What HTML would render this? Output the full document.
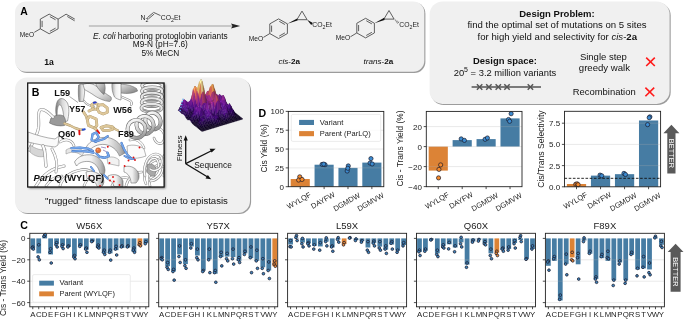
<!DOCTYPE html>
<html><head><meta charset="utf-8"><style>
html,body{margin:0;padding:0;background:#fff;width:685px;height:319px;overflow:hidden}
svg{display:block;font-family:"Liberation Sans", sans-serif;will-change:transform}
</style></head><body>
<svg width="685" height="319" viewBox="0 0 685 319">
<defs><linearGradient id="hg" x1="0" y1="0" x2="1" y2="0"><stop offset="0" stop-color="#a8a8a8"/><stop offset="0.45" stop-color="#efefef"/><stop offset="1" stop-color="#ffffff"/></linearGradient><linearGradient id="hg2" x1="0" y1="0" x2="1" y2="1"><stop offset="0" stop-color="#fafafa"/><stop offset="0.6" stop-color="#e2e2e2"/><stop offset="1" stop-color="#a0a0a0"/></linearGradient><linearGradient id="hgL" x1="0" y1="0" x2="1" y2="0"><stop offset="0" stop-color="#7a7a7a"/><stop offset="0.5" stop-color="#d8d8d8"/><stop offset="1" stop-color="#fafafa"/></linearGradient><linearGradient id="hgd" x1="0" y1="0" x2="1" y2="1"><stop offset="0" stop-color="#e8e8e8"/><stop offset="0.6" stop-color="#a6a6a6"/><stop offset="1" stop-color="#7a7a7a"/></linearGradient><linearGradient id="hgv" x1="0" y1="0" x2="0" y2="1"><stop offset="0" stop-color="#f4f4f4"/><stop offset="0.6" stop-color="#d0d0d0"/><stop offset="1" stop-color="#9a9a9a"/></linearGradient><linearGradient id="hg3" x1="0" y1="0" x2="1" y2="0"><stop offset="0" stop-color="#fafafa"/><stop offset="0.55" stop-color="#f0f0f0"/><stop offset="0.85" stop-color="#bdbdbd"/><stop offset="1" stop-color="#909090"/></linearGradient><linearGradient id="lg1" x1="0" y1="1" x2="0" y2="0"><stop offset="0" stop-color="#3a1060"/><stop offset="0.5" stop-color="#9a2c8c"/><stop offset="1" stop-color="#e86a50"/></linearGradient></defs>
<defs><filter id="sh" x="-5%" y="-5%" width="110%" height="110%"><feGaussianBlur stdDeviation="0.55"/></filter><filter id="sh2" x="-5%" y="-5%" width="110%" height="110%"><feGaussianBlur stdDeviation="0.8"/></filter></defs>
<rect width="685" height="319" fill="#fff"/>
<rect x="16.10" y="2.60" width="409.3" height="70.3" rx="11" fill="#9c9c9c" filter="url(#sh)"/>
<rect x="15" y="1.5" width="409.3" height="70.3" rx="11" fill="#f0f0f0"/>
<text x="20.20" y="14.80" font-size="10.4" font-weight="bold" fill="#000" >A</text>
<polygon points="49.20,14.15 58.10,19.10 58.10,28.80 49.20,33.75 40.30,28.80 40.30,19.10" fill="none" stroke="#3a3a3a" stroke-width="0.8" stroke-linejoin="round"/>
<line x1="49.87" y1="16.58" x2="55.56" y2="19.75" stroke="#3a3a3a" stroke-width="0.8" />
<line x1="55.56" y1="28.15" x2="49.87" y2="31.32" stroke="#3a3a3a" stroke-width="0.8" />
<line x1="42.10" y1="27.05" x2="42.10" y2="20.85" stroke="#3a3a3a" stroke-width="0.8" />
<line x1="58.10" y1="19.10" x2="66.10" y2="14.20" stroke="#3a3a3a" stroke-width="0.8" />
<line x1="66.10" y1="14.20" x2="74.80" y2="19.10" stroke="#3a3a3a" stroke-width="0.8" />
<line x1="67.30" y1="16.50" x2="74.60" y2="20.80" stroke="#3a3a3a" stroke-width="0.8" />
<text x="19.80" y="36.60" font-size="6.8" fill="#222" textLength="14.2" lengthAdjust="spacingAndGlyphs" >MeO</text>
<line x1="34.30" y1="32.30" x2="40.30" y2="28.80" stroke="#3a3a3a" stroke-width="0.8" />
<text x="44.20" y="64.70" font-size="8.6" font-weight="bold" fill="#111" >1a</text>
<line x1="88.90" y1="26.00" x2="233.00" y2="26.00" stroke="#a0a0a0" stroke-width="1.0" />
<polygon points="231,23.6 240.2,26 231,28.4 232.5,26" fill="#222"/>
<text x="140.50" y="19.90" font-size="6.8" fill="#222"><tspan>N</tspan><tspan font-size="5.30" dy="1.90">2</tspan></text>
<line x1="147.40" y1="17.60" x2="153.40" y2="12.60" stroke="#3a3a3a" stroke-width="0.8" />
<line x1="148.40" y1="18.90" x2="154.20" y2="14.00" stroke="#3a3a3a" stroke-width="0.8" />
<line x1="153.60" y1="12.40" x2="160.50" y2="15.60" stroke="#3a3a3a" stroke-width="0.8" />
<text x="160.80" y="19.90" font-size="6.8" fill="#222"><tspan>CO</tspan><tspan font-size="5.30" dy="1.90">2</tspan><tspan dy="-1.90">Et</tspan></text>
<text x="160.30" y="38.80" font-size="8.3" fill="#111" text-anchor="middle"><tspan font-style="italic">E. coli</tspan><tspan> harboring protoglobin variants</tspan></text>
<text x="160.30" y="46.80" font-size="8.3" text-anchor="middle" fill="#111" >M9-N (pH=7.6)</text>
<text x="160.30" y="55.60" font-size="8.3" text-anchor="middle" fill="#111" >5% MeCN</text>
<polygon points="278.60,18.90 287.40,23.85 287.40,33.55 278.60,38.50 269.80,33.55 269.80,23.85" fill="none" stroke="#3a3a3a" stroke-width="0.8" stroke-linejoin="round"/>
<line x1="279.26" y1="21.33" x2="284.89" y2="24.50" stroke="#3a3a3a" stroke-width="0.8" />
<line x1="284.89" y1="32.90" x2="279.26" y2="36.07" stroke="#3a3a3a" stroke-width="0.8" />
<line x1="271.60" y1="31.80" x2="271.60" y2="25.60" stroke="#3a3a3a" stroke-width="0.8" />
<text x="248.80" y="40.60" font-size="6.8" fill="#222" textLength="14.4" lengthAdjust="spacingAndGlyphs" >MeO</text>
<line x1="263.40" y1="37.40" x2="269.80" y2="33.55" stroke="#3a3a3a" stroke-width="0.8" />
<polygon points="296.90,19.70 302.00,11.10 307.10,19.70" fill="none" stroke="#3a3a3a" stroke-width="0.8" stroke-linejoin="round"/>
<polygon points="287.40,23.85 297.20,18.40 297.50,20.60" fill="#111"/>
<polygon points="307.10,19.70 312.90,23.00 311.20,24.90" fill="#111"/>
<text x="312.30" y="27.40" font-size="6.8" fill="#222"><tspan>CO</tspan><tspan font-size="5.30" dy="1.90">2</tspan><tspan dy="-1.90">Et</tspan></text>
<polygon points="365.60,18.30 374.40,23.25 374.40,32.95 365.60,37.90 356.80,32.95 356.80,23.25" fill="none" stroke="#3a3a3a" stroke-width="0.8" stroke-linejoin="round"/>
<line x1="366.26" y1="20.73" x2="371.89" y2="23.90" stroke="#3a3a3a" stroke-width="0.8" />
<line x1="371.89" y1="32.30" x2="366.26" y2="35.47" stroke="#3a3a3a" stroke-width="0.8" />
<line x1="358.60" y1="31.20" x2="358.60" y2="25.00" stroke="#3a3a3a" stroke-width="0.8" />
<text x="335.80" y="40.00" font-size="6.8" fill="#222" textLength="14.4" lengthAdjust="spacingAndGlyphs" >MeO</text>
<line x1="350.40" y1="36.80" x2="356.80" y2="32.95" stroke="#3a3a3a" stroke-width="0.8" />
<polygon points="383.90,19.10 389.00,10.50 394.10,19.10" fill="none" stroke="#3a3a3a" stroke-width="0.8" stroke-linejoin="round"/>
<polygon points="374.40,23.25 384.20,17.80 384.50,20.00" fill="#111"/>
<line x1="394.66" y1="20.10" x2="395.17" y2="19.53" stroke="#111" stroke-width="0.6" />
<line x1="395.35" y1="20.95" x2="396.11" y2="20.11" stroke="#111" stroke-width="0.6" />
<line x1="396.05" y1="21.80" x2="397.05" y2="20.70" stroke="#111" stroke-width="0.6" />
<line x1="396.74" y1="22.66" x2="397.99" y2="21.28" stroke="#111" stroke-width="0.6" />
<line x1="397.44" y1="23.51" x2="398.93" y2="21.86" stroke="#111" stroke-width="0.6" />
<text x="399.30" y="26.80" font-size="6.8" fill="#222"><tspan>CO</tspan><tspan font-size="5.30" dy="1.90">2</tspan><tspan dy="-1.90">Et</tspan></text>
<text x="278.40" y="64.20" font-size="8.1" fill="#111"><tspan font-style="italic">cis</tspan><tspan>-</tspan><tspan font-weight="bold">2a</tspan></text>
<text x="363.50" y="64.20" font-size="8.1" fill="#111"><tspan font-style="italic">trans</tspan><tspan>-</tspan><tspan font-weight="bold">2a</tspan></text>
<rect x="430.70" y="2.60" width="240.0" height="102.4" rx="13" fill="#9c9c9c" filter="url(#sh)"/>
<rect x="429.6" y="1.5" width="240.0" height="102.4" rx="13" fill="#f0f0f0"/>
<text x="557.00" y="16.90" font-size="9.5" text-anchor="middle" font-weight="bold" fill="#111" >Design Problem:</text>
<text x="557.00" y="28.20" font-size="9.6" text-anchor="middle" fill="#111" >find the optimal set of mutations on 5 sites</text>
<text x="557.30" y="39.60" font-size="9.6" fill="#111" text-anchor="middle"><tspan>for high yield and selectivity for </tspan><tspan font-style="italic">cis</tspan><tspan>-</tspan><tspan font-weight="bold">2a</tspan></text>
<text x="505.00" y="63.90" font-size="9.45" text-anchor="middle" font-weight="bold" fill="#111" >Design space:</text>
<text x="505.00" y="75.70" font-size="9.4" fill="#111" text-anchor="middle"><tspan>20</tspan><tspan font-size="6.96" dy="-3.38">5</tspan><tspan dy="3.38"> = 3.2 million variants</tspan></text>
<line x1="471.60" y1="87.00" x2="541.00" y2="87.00" stroke="#555" stroke-width="1.5" />
<line x1="476.90" y1="84.20" x2="482.30" y2="89.80" stroke="#555" stroke-width="1.45" />
<line x1="476.90" y1="89.80" x2="482.30" y2="84.20" stroke="#555" stroke-width="1.45" />
<line x1="486.20" y1="84.20" x2="491.60" y2="89.80" stroke="#555" stroke-width="1.45" />
<line x1="486.20" y1="89.80" x2="491.60" y2="84.20" stroke="#555" stroke-width="1.45" />
<line x1="495.60" y1="84.20" x2="501.00" y2="89.80" stroke="#555" stroke-width="1.45" />
<line x1="495.60" y1="89.80" x2="501.00" y2="84.20" stroke="#555" stroke-width="1.45" />
<line x1="504.30" y1="84.20" x2="509.70" y2="89.80" stroke="#555" stroke-width="1.45" />
<line x1="504.30" y1="89.80" x2="509.70" y2="84.20" stroke="#555" stroke-width="1.45" />
<line x1="527.70" y1="84.20" x2="533.10" y2="89.80" stroke="#555" stroke-width="1.45" />
<line x1="527.70" y1="89.80" x2="533.10" y2="84.20" stroke="#555" stroke-width="1.45" />
<text x="603.40" y="60.20" font-size="9.5" text-anchor="middle" fill="#111" >Single step</text>
<text x="604.40" y="70.90" font-size="9.6" text-anchor="middle" fill="#111" >greedy walk</text>
<text x="604.20" y="94.70" font-size="9.45" text-anchor="middle" fill="#111" >Recombination</text>
<line x1="646.20" y1="57.60" x2="654.80" y2="66.00" stroke="#ff1a1a" stroke-width="1.6" />
<line x1="646.20" y1="66.00" x2="654.80" y2="57.60" stroke="#ff1a1a" stroke-width="1.6" />
<line x1="645.40" y1="87.60" x2="654.20" y2="96.20" stroke="#ff1a1a" stroke-width="1.6" />
<line x1="645.40" y1="96.20" x2="654.20" y2="87.60" stroke="#ff1a1a" stroke-width="1.6" />
<rect x="16.10" y="78.70" width="235.0" height="135.3" rx="12" fill="#9c9c9c" filter="url(#sh)"/>
<rect x="15" y="77.6" width="235.0" height="135.3" rx="12" fill="#f0f0f0"/>
<clipPath id="pc"><rect x="27.7" y="83.0" width="136.4" height="104.0"/></clipPath>
<rect x="29.0" y="84.3" width="136.4" height="104.0" fill="#666" filter="url(#sh2)"/>
<rect x="27.7" y="83.0" width="136.4" height="104.0" fill="#fff"/>
<g clip-path="url(#pc)">
<path d="M150,186 C148,178 150,170 156,166 C162,162 166,168 164,176" fill="none" stroke="#8a8a8a" stroke-width="2.6" stroke-linecap="round" stroke-linejoin="round"/>
<path d="M150,186 C148,178 150,170 156,166 C162,162 166,168 164,176" fill="none" stroke="#fbfbfb" stroke-width="1.5" stroke-linecap="round" stroke-linejoin="round"/>
<path d="M146,184 C142,176 146,166 152,162 C158,158 164,160 166,152" fill="none" stroke="#8a8a8a" stroke-width="2.5" stroke-linecap="round" stroke-linejoin="round"/>
<path d="M146,184 C142,176 146,166 152,162 C158,158 164,160 166,152" fill="none" stroke="#fbfbfb" stroke-width="1.4" stroke-linecap="round" stroke-linejoin="round"/>
<path d="M150,178 C156,176 160,170 158,162 C156,156 150,158 148,164" fill="none" stroke="#8a8a8a" stroke-width="2.5" stroke-linecap="round" stroke-linejoin="round"/>
<path d="M150,178 C156,176 160,170 158,162 C156,156 150,158 148,164" fill="none" stroke="#fbfbfb" stroke-width="1.4" stroke-linecap="round" stroke-linejoin="round"/>
<path d="M156,128 C162,128 166,134 164,140 C162,146 156,144 154,138" fill="none" stroke="#8a8a8a" stroke-width="2.5" stroke-linecap="round" stroke-linejoin="round"/>
<path d="M156,128 C162,128 166,134 164,140 C162,146 156,144 154,138" fill="none" stroke="#fbfbfb" stroke-width="1.4" stroke-linecap="round" stroke-linejoin="round"/>
<path d="M126,186 C128,178 134,172 142,172" fill="none" stroke="#8a8a8a" stroke-width="2.6" stroke-linecap="round" stroke-linejoin="round"/>
<path d="M126,186 C128,178 134,172 142,172" fill="none" stroke="#fbfbfb" stroke-width="1.5" stroke-linecap="round" stroke-linejoin="round"/>
<path d="M112,186 C114,180 122,176 128,178" fill="none" stroke="#8a8a8a" stroke-width="2.6" stroke-linecap="round" stroke-linejoin="round"/>
<path d="M112,186 C114,180 122,176 128,178" fill="none" stroke="#fbfbfb" stroke-width="1.5" stroke-linecap="round" stroke-linejoin="round"/>
<path d="M60,186 C62,178 70,172 80,170 C88,168 94,172 96,178" fill="none" stroke="#8a8a8a" stroke-width="2.7" stroke-linecap="round" stroke-linejoin="round"/>
<path d="M60,186 C62,178 70,172 80,170 C88,168 94,172 96,178" fill="none" stroke="#fbfbfb" stroke-width="1.6" stroke-linecap="round" stroke-linejoin="round"/>
<path d="M36,186 C42,176 52,168 64,166" fill="none" stroke="#8a8a8a" stroke-width="3.1" stroke-linecap="round" stroke-linejoin="round"/>
<path d="M36,186 C42,176 52,168 64,166" fill="none" stroke="#fbfbfb" stroke-width="2.0" stroke-linecap="round" stroke-linejoin="round"/>
<path d="M46,186 C50,180 56,176 62,176" fill="none" stroke="#8a8a8a" stroke-width="2.6" stroke-linecap="round" stroke-linejoin="round"/>
<path d="M46,186 C50,180 56,176 62,176" fill="none" stroke="#fbfbfb" stroke-width="1.5" stroke-linecap="round" stroke-linejoin="round"/>
<path d="M84,186 C86,180 90,176 94,178" fill="none" stroke="#8a8a8a" stroke-width="2.5" stroke-linecap="round" stroke-linejoin="round"/>
<path d="M84,186 C86,180 90,176 94,178" fill="none" stroke="#fbfbfb" stroke-width="1.4" stroke-linecap="round" stroke-linejoin="round"/>
<path d="M130,140 C136,138 142,142 144,148" fill="none" stroke="#8a8a8a" stroke-width="2.6" stroke-linecap="round" stroke-linejoin="round"/>
<path d="M130,140 C136,138 142,142 144,148" fill="none" stroke="#fbfbfb" stroke-width="1.5" stroke-linecap="round" stroke-linejoin="round"/>
<ellipse cx="152.3" cy="85.5" rx="10.2" ry="4.0" fill="none" stroke="#6e6e6e" stroke-width="3.3"/>
<ellipse cx="152.3" cy="85.5" rx="10.2" ry="4.0" fill="none" stroke="#e6e6e6" stroke-width="2.1"/>
<path d="M143.3,87.1 Q152.3,91.7 161.3,87.1" fill="none" stroke="#9a9a9a" stroke-width="1.6"/>
<ellipse cx="152.1" cy="91.1" rx="10.2" ry="4.0" fill="none" stroke="#6e6e6e" stroke-width="3.3"/>
<ellipse cx="152.1" cy="91.1" rx="10.2" ry="4.0" fill="none" stroke="#e6e6e6" stroke-width="2.1"/>
<path d="M143.1,92.7 Q152.1,97.3 161.1,92.7" fill="none" stroke="#9a9a9a" stroke-width="1.6"/>
<ellipse cx="151.9" cy="96.7" rx="10.2" ry="4.0" fill="none" stroke="#6e6e6e" stroke-width="3.3"/>
<ellipse cx="151.9" cy="96.7" rx="10.2" ry="4.0" fill="none" stroke="#e6e6e6" stroke-width="2.1"/>
<path d="M142.9,98.3 Q151.9,102.9 160.9,98.3" fill="none" stroke="#9a9a9a" stroke-width="1.6"/>
<ellipse cx="151.7" cy="102.3" rx="10.2" ry="4.0" fill="none" stroke="#6e6e6e" stroke-width="3.3"/>
<ellipse cx="151.7" cy="102.3" rx="10.2" ry="4.0" fill="none" stroke="#e6e6e6" stroke-width="2.1"/>
<path d="M142.7,103.9 Q151.7,108.5 160.7,103.9" fill="none" stroke="#9a9a9a" stroke-width="1.6"/>
<ellipse cx="151.5" cy="107.9" rx="10.2" ry="4.0" fill="none" stroke="#6e6e6e" stroke-width="3.3"/>
<ellipse cx="151.5" cy="107.9" rx="10.2" ry="4.0" fill="none" stroke="#e6e6e6" stroke-width="2.1"/>
<path d="M142.5,109.5 Q151.5,114.1 160.5,109.5" fill="none" stroke="#9a9a9a" stroke-width="1.6"/>
<path d="M118,85 C124,83.5 131,85 136.5,88.5 L137.6,91 C133,93.5 127,94 121,93 L118,92 Z" fill="url(#hgd)" stroke="#6e6e6e" stroke-width="0.6" stroke-linejoin="round"/>
<path d="M118,95.5 C122,97 127,99 130.5,101 C132,102.5 132,104 131,105" fill="none" stroke="#8a8a8a" stroke-width="2.3" stroke-linecap="round" stroke-linejoin="round"/>
<path d="M118,95.5 C122,97 127,99 130.5,101 C132,102.5 132,104 131,105" fill="none" stroke="#fbfbfb" stroke-width="1.2" stroke-linecap="round" stroke-linejoin="round"/>
<path d="M78.6,85 C80.5,84 83,84 84.4,85 C85,90 84.6,96 83.2,101.5 L79,101.5 C78.2,96 78.2,90 78.6,85 Z" fill="url(#hgL)" stroke="#6e6e6e" stroke-width="0.6" stroke-linejoin="round"/>
<path d="M83,84.5 C87,82.8 92,83 96,86 C101,90 106,94 111,97 C112,99 111,101 109.5,101.5 C104,101 99,98.5 95,96 C91,93 87,91 84.5,89.5 Z" fill="url(#hg2)" stroke="#6e6e6e" stroke-width="0.6" stroke-linejoin="round"/>
<path d="M95.5,83.2 C99,82.6 102.5,82.8 104.5,83.6 C105.5,87 105.4,91 104,94.5 C101.5,93 99.5,90 97.5,87.5 Z" fill="url(#hgd)" stroke="#6e6e6e" stroke-width="0.6" stroke-linejoin="round"/>
<path d="M112,83 L121,83 L121,100 C118.5,99.5 116,98.5 114.5,97 C112.5,93 111.5,88 112,83 Z" fill="url(#hg)" stroke="#6e6e6e" stroke-width="0.6" stroke-linejoin="round"/>
<path d="M84,101 C86,104 90,106 94,106.5" fill="none" stroke="#8a8a8a" stroke-width="2.2" stroke-linecap="round" stroke-linejoin="round"/>
<path d="M84,101 C86,104 90,106 94,106.5" fill="none" stroke="#fbfbfb" stroke-width="1.1" stroke-linecap="round" stroke-linejoin="round"/>
<ellipse cx="153" cy="121" rx="7.5" ry="8.5" transform="rotate(-25 153 121)" fill="none" stroke="#6e6e6e" stroke-width="4.0"/>
<ellipse cx="153" cy="121" rx="7.5" ry="8.5" transform="rotate(-25 153 121)" fill="none" stroke="url(#hgv)" stroke-width="2.8"/>
<ellipse cx="145" cy="125" rx="8.5" ry="9.0" transform="rotate(-25 145 125)" fill="none" stroke="#6e6e6e" stroke-width="4.0"/>
<ellipse cx="145" cy="125" rx="8.5" ry="9.0" transform="rotate(-25 145 125)" fill="none" stroke="url(#hgv)" stroke-width="2.8"/>
<ellipse cx="136.5" cy="129" rx="9.0" ry="9.0" transform="rotate(-25 136.5 129)" fill="none" stroke="#6e6e6e" stroke-width="4.0"/>
<ellipse cx="136.5" cy="129" rx="9.0" ry="9.0" transform="rotate(-25 136.5 129)" fill="none" stroke="url(#hgv)" stroke-width="2.8"/>
<path d="M57.5,101 C60,97 64.5,98 67.5,103 C69.5,108 69,115 67.5,121 L63.5,122 C64,115 63,108 60.5,105 C58.5,104 57.5,107 57.2,112 L57,118 C55,113 55.5,105 57.5,101 Z" fill="url(#hgL)" stroke="#6e6e6e" stroke-width="0.6" stroke-linejoin="round"/>
<path d="M51,118 C55,115 60,114 63.5,116 C65.5,119 66.5,122 64.5,125.5 C60,126.5 54,125.5 49.5,123 Z" fill="#9a9a9a" stroke="#666" stroke-width="0.6" stroke-linejoin="round"/>
<path d="M29,150 C33,142 37,136 38.5,128 C39.5,120 37,113 40,110 C44,108 49,113 53,117" fill="none" stroke="#8a8a8a" stroke-width="3.0" stroke-linecap="round" stroke-linejoin="round"/>
<path d="M29,150 C33,142 37,136 38.5,128 C39.5,120 37,113 40,110 C44,108 49,113 53,117" fill="none" stroke="#fbfbfb" stroke-width="1.9" stroke-linecap="round" stroke-linejoin="round"/>
<path d="M28,132 C36,135 46,138 55,139 L59,136 L58,145 L55,147 C46,146 36,144 28,142 Z" fill="#fafafa" stroke="#7a7a7a" stroke-width="0.6" stroke-linejoin="round"/>
<path d="M30,145 C36,149 42,151 46,149 L45,156 C40,158 34,156 30,152 Z" fill="#d6d6d6" stroke="#8a8a8a" stroke-width="0.5" stroke-linejoin="round"/>
<path d="M43,146 C46,152 45,160 46,166" fill="none" stroke="#8a8a8a" stroke-width="3.3000000000000003" stroke-linecap="round" stroke-linejoin="round"/>
<path d="M43,146 C46,152 45,160 46,166" fill="none" stroke="#fbfbfb" stroke-width="2.2" stroke-linecap="round" stroke-linejoin="round"/>
<path d="M52,149 C56,156 58,164 56,172" fill="none" stroke="#8a8a8a" stroke-width="2.9000000000000004" stroke-linecap="round" stroke-linejoin="round"/>
<path d="M52,149 C56,156 58,164 56,172" fill="none" stroke="#fbfbfb" stroke-width="1.8" stroke-linecap="round" stroke-linejoin="round"/>
<path d="M60,142 C66,138 72,140 74,146" fill="none" stroke="#8a8a8a" stroke-width="2.7" stroke-linecap="round" stroke-linejoin="round"/>
<path d="M60,142 C66,138 72,140 74,146" fill="none" stroke="#fbfbfb" stroke-width="1.6" stroke-linecap="round" stroke-linejoin="round"/>
<path d="M86,147.5 C90,140 99,136.5 108,137.5 C116,139 122,145 125,153 L119.5,156 C117,150 112,145.5 105,144.5 C97.5,143.8 92,147 89,151 Z" fill="url(#hg3)" stroke="#6e6e6e" stroke-width="0.6" stroke-linejoin="round"/>
<path d="M66,150 C72,146 80,147 84,152 L82,156 C78,152 72,151 66,154 Z" fill="#e6e6e6" stroke="#888" stroke-width="0.5" stroke-linejoin="round"/>
<path d="M74.5,162 C78,156 85,154 92,155 C99,156.5 104,162 105,170 L104.5,173.5 L100,173.5 C98.5,167 95,162.5 89,161.5 C83,161 78.5,163 76.5,166 Z" fill="url(#hg3)" stroke="#6e6e6e" stroke-width="0.6" stroke-linejoin="round"/>
<path d="M86,172 C92,170 99,172.5 103,178 C104.5,181 104,184 102,186.5 L97,186.5 C96,182 92,179 87,178.5 Z" fill="url(#hg3)" stroke="#6e6e6e" stroke-width="0.6" stroke-linejoin="round"/>
<path d="M127,146 C133,144 140,145.5 144,149 L146,156 C141,158 134,159 128,158 Z" fill="#fbfbfb" stroke="#7a7a7a" stroke-width="0.55" stroke-linejoin="round"/>
<path d="M124,167 C129,165 135,167 138,172 C140,176 139,180 136,183 L131,183 C131,178 128,173 124,172 Z" fill="url(#hg3)" stroke="#6e6e6e" stroke-width="0.6" stroke-linejoin="round"/>
<path d="M147,165 C150,163 154,164 156,168 L155,176 C152,177 149,175 147,172 Z" fill="#a8a8a8" stroke="#666" stroke-width="0.5" stroke-linejoin="round"/>
<path d="M145,176 C143,168 146,158 152,155 C158,152 163,156 162,163 C161,170 154,172 150,169" fill="none" stroke="#8a8a8a" stroke-width="2.5" stroke-linecap="round" stroke-linejoin="round"/>
<path d="M145,176 C143,168 146,158 152,155 C158,152 163,156 162,163 C161,170 154,172 150,169" fill="none" stroke="#fbfbfb" stroke-width="1.4" stroke-linecap="round" stroke-linejoin="round"/>
<path d="M150,181 C156,181 162,176 163,168" fill="none" stroke="#8a8a8a" stroke-width="2.5" stroke-linecap="round" stroke-linejoin="round"/>
<path d="M150,181 C156,181 162,176 163,168" fill="none" stroke="#fbfbfb" stroke-width="1.4" stroke-linecap="round" stroke-linejoin="round"/>
<path d="M108,176 C114,173 121,175 123,181 L123,186.5 L114,186.5 C113,182 110,180 108,180 Z" fill="url(#hg3)" stroke="#6e6e6e" stroke-width="0.6" stroke-linejoin="round"/>
<path d="M107,158 C111,156 116,157 119,160 L119,166 C115,165 111,164 108,164 Z" fill="#f2f2f2" stroke="#808080" stroke-width="0.5" stroke-linejoin="round"/>
<path d="M91.5,104.8 L94.8,102.6 L98.4,105.2 L97.4,109.2 L93,109 Z" fill="none" stroke="#a89468" stroke-width="2.8000000000000003" stroke-linecap="round" stroke-linejoin="round"/>
<path d="M91.5,104.8 L94.8,102.6 L98.4,105.2 L97.4,109.2 L93,109 Z" fill="none" stroke="#dec79a" stroke-width="2.2" stroke-linecap="round" stroke-linejoin="round"/>
<path d="M98.4,105.2 L103,104.6 L107.2,107.8 L107.4,112.2 L103.2,114 L99,112.2 L97.4,109.2" fill="none" stroke="#a89468" stroke-width="2.8000000000000003" stroke-linecap="round" stroke-linejoin="round"/>
<path d="M98.4,105.2 L103,104.6 L107.2,107.8 L107.4,112.2 L103.2,114 L99,112.2 L97.4,109.2" fill="none" stroke="#dec79a" stroke-width="2.2" stroke-linecap="round" stroke-linejoin="round"/>
<path d="M93,109 L89,111" fill="none" stroke="#a89468" stroke-width="2.8000000000000003" stroke-linecap="round" stroke-linejoin="round"/>
<path d="M93,109 L89,111" fill="none" stroke="#dec79a" stroke-width="2.2" stroke-linecap="round" stroke-linejoin="round"/>
<path d="M83.5,112 L86.5,116.5 L87.2,119" fill="none" stroke="#a89468" stroke-width="2.8000000000000003" stroke-linecap="round" stroke-linejoin="round"/>
<path d="M83.5,112 L86.5,116.5 L87.2,119" fill="none" stroke="#dec79a" stroke-width="2.2" stroke-linecap="round" stroke-linejoin="round"/>
<path d="M87.2,119 L89.8,116.2 L96.2,119 L96.9,125.4 L94.8,128.2 L88.4,125.4 Z" fill="none" stroke="#a89468" stroke-width="2.8000000000000003" stroke-linecap="round" stroke-linejoin="round"/>
<path d="M87.2,119 L89.8,116.2 L96.2,119 L96.9,125.4 L94.8,128.2 L88.4,125.4 Z" fill="none" stroke="#dec79a" stroke-width="2.2" stroke-linecap="round" stroke-linejoin="round"/>
<path d="M94.8,128.2 L97,130.5" fill="none" stroke="#a89468" stroke-width="2.8000000000000003" stroke-linecap="round" stroke-linejoin="round"/>
<path d="M94.8,128.2 L97,130.5" fill="none" stroke="#dec79a" stroke-width="2.2" stroke-linecap="round" stroke-linejoin="round"/>
<path d="M64.5,123.5 L70,125.5 L75,128 L79.5,129.5 L82.5,129.8" fill="none" stroke="#a89468" stroke-width="2.4" stroke-linecap="round" stroke-linejoin="round"/>
<path d="M64.5,123.5 L70,125.5 L75,128 L79.5,129.5 L82.5,129.8" fill="none" stroke="#dec79a" stroke-width="1.8" stroke-linecap="round" stroke-linejoin="round"/>
<path d="M101,127.4 L106,125.8 L112,126.6 L114,128.6 L109,130.4 L103,130.2 Z" fill="none" stroke="#a89468" stroke-width="2.9" stroke-linecap="round" stroke-linejoin="round"/>
<path d="M101,127.4 L106,125.8 L112,126.6 L114,128.6 L109,130.4 L103,130.2 Z" fill="none" stroke="#dcc698" stroke-width="2.3" stroke-linecap="round" stroke-linejoin="round"/>
<path d="M114,128.6 L118,130.5" fill="none" stroke="#a89468" stroke-width="2.2" stroke-linecap="round" stroke-linejoin="round"/>
<path d="M114,128.6 L118,130.5" fill="none" stroke="#dec79a" stroke-width="1.6" stroke-linecap="round" stroke-linejoin="round"/>
<path d="M93.8,102.8 L95.8,102.4" stroke="#2a3fd0" stroke-width="1.9" stroke-linecap="round"/>
<path d="M97.2,130.6 L99.2,133" stroke="#e01010" stroke-width="1.9" stroke-linecap="round"/>
<path d="M79.3,130.8 L79.5,134.2" stroke="#e01010" stroke-width="1.9" stroke-linecap="round"/>
<path d="M82.6,129.7 L84.8,129.2" stroke="#2850d0" stroke-width="1.9" stroke-linecap="round"/>
<path d="M91.6,140 L92.6,134 L96.2,132.6 L98.6,136.8 L95.6,141.6 Z" fill="none" stroke="#3a68b4" stroke-width="2.3" stroke-linecap="round" stroke-linejoin="round"/>
<path d="M91.6,140 L92.6,134 L96.2,132.6 L98.6,136.8 L95.6,141.6 Z" fill="none" stroke="#74a6ea" stroke-width="1.7" stroke-linecap="round" stroke-linejoin="round"/>
<path d="M71.5,148.2 L80,147.6 L88,148.6 L93,151" fill="none" stroke="#3a68b4" stroke-width="2.3" stroke-linecap="round" stroke-linejoin="round"/>
<path d="M71.5,148.2 L80,147.6 L88,148.6 L93,151" fill="none" stroke="#74a6ea" stroke-width="1.7" stroke-linecap="round" stroke-linejoin="round"/>
<path d="M72.5,151.2 L80,150.8 L88,151.6 L93.5,152.8" fill="none" stroke="#3a68b4" stroke-width="2.2" stroke-linecap="round" stroke-linejoin="round"/>
<path d="M72.5,151.2 L80,150.8 L88,151.6 L93.5,152.8" fill="none" stroke="#74a6ea" stroke-width="1.6" stroke-linecap="round" stroke-linejoin="round"/>
<path d="M95.6,141.6 L99,140.5 L104,139 L107.8,136.2" fill="none" stroke="#3a68b4" stroke-width="2.2" stroke-linecap="round" stroke-linejoin="round"/>
<path d="M95.6,141.6 L99,140.5 L104,139 L107.8,136.2" fill="none" stroke="#74a6ea" stroke-width="1.6" stroke-linecap="round" stroke-linejoin="round"/>
<path d="M96.5,153.5 L99.5,156.8 L104.5,157.8 L108.8,156 L107.5,152.8" fill="none" stroke="#3a68b4" stroke-width="2.4" stroke-linecap="round" stroke-linejoin="round"/>
<path d="M96.5,153.5 L99.5,156.8 L104.5,157.8 L108.8,156 L107.5,152.8" fill="none" stroke="#74a6ea" stroke-width="1.8" stroke-linecap="round" stroke-linejoin="round"/>
<path d="M121.5,143 L124,149 L127.5,155 L131.5,158.5" fill="none" stroke="#3a68b4" stroke-width="2.2" stroke-linecap="round" stroke-linejoin="round"/>
<path d="M121.5,143 L124,149 L127.5,155 L131.5,158.5" fill="none" stroke="#74a6ea" stroke-width="1.6" stroke-linecap="round" stroke-linejoin="round"/>
<path d="M124.5,156 L129,158.5 L134,159" fill="none" stroke="#3a68b4" stroke-width="2.0" stroke-linecap="round" stroke-linejoin="round"/>
<path d="M124.5,156 L129,158.5 L134,159" fill="none" stroke="#74a6ea" stroke-width="1.4" stroke-linecap="round" stroke-linejoin="round"/>
<path d="M91,167 L94,171" fill="none" stroke="#3a68b4" stroke-width="1.9" stroke-linecap="round" stroke-linejoin="round"/>
<path d="M91,167 L94,171" fill="none" stroke="#74a6ea" stroke-width="1.3" stroke-linecap="round" stroke-linejoin="round"/>
<path d="M104,175 L107.5,178.5" fill="none" stroke="#3a68b4" stroke-width="2.0" stroke-linecap="round" stroke-linejoin="round"/>
<path d="M104,175 L107.5,178.5" fill="none" stroke="#74a6ea" stroke-width="1.4" stroke-linecap="round" stroke-linejoin="round"/>
<path d="M101,147 L106,148 M103,150 L107,152" stroke="#6050a0" stroke-width="0.6"/>
<circle cx="98.2" cy="150.3" r="2.6" fill="#e0703a" stroke="#a04818" stroke-width="0.4"/>
<circle cx="97.6" cy="149.6" r="0.9" fill="#f5a070"/>
<circle cx="133.5" cy="157.5" r="0.95" fill="#e01010"/>
<circle cx="124.6" cy="166" r="0.95" fill="#e01010"/>
<circle cx="135" cy="160" r="0.95" fill="#e01010"/>
<circle cx="113" cy="177" r="0.95" fill="#e01010"/>
<circle cx="110" cy="180.5" r="0.95" fill="#e01010"/>
<circle cx="109.5" cy="163" r="0.95" fill="#e01010"/>
<circle cx="119.5" cy="185" r="0.95" fill="#e01010"/>
<circle cx="128.5" cy="160.5" r="0.95" fill="#e01010"/>
<circle cx="139.5" cy="147.5" r="0.95" fill="#e01010"/>
<circle cx="113.8" cy="181.5" r="0.95" fill="#e01010"/>
<circle cx="107.8" cy="146.8" r="0.95" fill="#e01010"/>
<circle cx="100" cy="186" r="0.95" fill="#e01010"/>
<circle cx="89.5" cy="176" r="0.95" fill="#e01010"/>
</g>
<rect x="27.7" y="83.0" width="136.4" height="104.0" fill="none" stroke="#111" stroke-width="1.25"/>
<text x="31.80" y="95.90" font-size="10.6" font-weight="bold" fill="#000" >B</text>
<text x="54.30" y="95.80" font-size="9.2" font-weight="bold" fill="#111" >L59</text>
<text x="69.00" y="112.40" font-size="9.2" font-weight="bold" fill="#111" >Y57</text>
<text x="113.20" y="113.20" font-size="9.2" font-weight="bold" fill="#111" >W56</text>
<text x="58.00" y="137.00" font-size="9.2" font-weight="bold" fill="#111" >Q60</text>
<text x="118.10" y="137.30" font-size="9.2" font-weight="bold" fill="#111" >F89</text>
<line x1="69.5" y1="96.5" x2="78" y2="102.5" stroke="#555" stroke-width="0.5"/>
<text x="33.40" y="181.30" font-size="9.4" fill="#111"><tspan font-weight="bold" font-style="italic">ParLQ</tspan><tspan font-weight="bold"> (WYLQF)</tspan></text>
<g>
<path d="M217.4,100.5 L218.3,101.3 L220.0,100.8 L219.0,100.0Z" fill="#0b011d" stroke="#0b011d" stroke-width="0.3"/>
<path d="M215.7,101.0 L216.7,101.8 L218.3,101.3 L217.4,100.5Z" fill="#0b011d" stroke="#0b011d" stroke-width="0.3"/>
<path d="M218.3,101.3 L219.3,102.0 L220.9,101.5 L220.0,100.8Z" fill="#0b011d" stroke="#0b011d" stroke-width="0.3"/>
<path d="M214.1,101.5 L215.0,102.2 L216.7,101.8 L215.7,101.0Z" fill="#0b011d" stroke="#0b011d" stroke-width="0.3"/>
<path d="M216.7,101.8 L217.6,102.5 L219.3,102.0 L218.3,101.3Z" fill="#0b011d" stroke="#0b011d" stroke-width="0.3"/>
<path d="M212.4,102.0 L213.4,102.7 L215.0,102.2 L214.1,101.5Z" fill="#0b011d" stroke="#0b011d" stroke-width="0.3"/>
<path d="M219.3,102.0 L220.2,102.8 L221.9,102.3 L220.9,101.5Z" fill="#0b011d" stroke="#0b011d" stroke-width="0.3"/>
<path d="M215.0,102.2 L216.0,102.8 L217.6,102.5 L216.7,101.8Z" fill="#0c021d" stroke="#0c021d" stroke-width="0.3"/>
<path d="M210.8,102.5 L211.8,103.2 L213.4,102.7 L212.4,102.0Z" fill="#0c021e" stroke="#0c021e" stroke-width="0.3"/>
<path d="M217.6,102.5 L218.6,103.2 L220.2,102.8 L219.3,102.0Z" fill="#0b011d" stroke="#0b011d" stroke-width="0.3"/>
<path d="M213.4,102.7 L214.4,102.7 L216.0,102.8 L215.0,102.2Z" fill="#0c021e" stroke="#0c021e" stroke-width="0.3"/>
<path d="M220.2,102.8 L221.2,103.5 L222.8,103.0 L221.9,102.3Z" fill="#0b011d" stroke="#0b011d" stroke-width="0.3"/>
<path d="M209.2,103.0 L210.1,103.7 L211.8,103.2 L210.8,102.5Z" fill="#0c021e" stroke="#0c021e" stroke-width="0.3"/>
<path d="M216.0,102.8 L217.0,103.0 L218.6,103.2 L217.6,102.5Z" fill="#0c021d" stroke="#0c021d" stroke-width="0.3"/>
<path d="M211.8,103.2 L212.7,102.7 L214.4,102.7 L213.4,102.7Z" fill="#0d021f" stroke="#0d021f" stroke-width="0.3"/>
<path d="M218.6,103.2 L219.6,103.9 L221.2,103.5 L220.2,102.8Z" fill="#0c021e" stroke="#0c021e" stroke-width="0.3"/>
<path d="M207.5,103.5 L208.5,104.2 L210.1,103.7 L209.2,103.0Z" fill="#0c021e" stroke="#0c021e" stroke-width="0.3"/>
<path d="M214.4,102.7 L215.3,100.9 L217.0,103.0 L216.0,102.8Z" fill="#0c021c" stroke="#0c021c" stroke-width="0.3"/>
<path d="M221.2,103.5 L222.2,104.2 L223.8,103.8 L222.8,103.0Z" fill="#0b021d" stroke="#0b021d" stroke-width="0.3"/>
<path d="M210.1,103.7 L211.1,103.7 L212.7,102.7 L211.8,103.2Z" fill="#0e0222" stroke="#0e0222" stroke-width="0.3"/>
<path d="M217.0,103.0 L217.9,103.2 L219.6,103.9 L218.6,103.2Z" fill="#0d021e" stroke="#0d021e" stroke-width="0.3"/>
<path d="M205.9,104.0 L206.8,104.6 L208.5,104.2 L207.5,103.5Z" fill="#0c021e" stroke="#0c021e" stroke-width="0.3"/>
<path d="M212.7,102.7 L213.7,99.2 L215.3,100.9 L214.4,102.7Z" fill="#110324" stroke="#110324" stroke-width="0.3"/>
<path d="M219.6,103.9 L220.5,104.2 L222.2,104.2 L221.2,103.5Z" fill="#0c021e" stroke="#0c021e" stroke-width="0.3"/>
<path d="M208.5,104.2 L209.4,104.7 L211.1,103.7 L210.1,103.7Z" fill="#0d0221" stroke="#0d0221" stroke-width="0.3"/>
<path d="M215.3,100.9 L216.3,99.6 L217.9,103.2 L217.0,103.0Z" fill="#110224" stroke="#110224" stroke-width="0.3"/>
<path d="M222.2,104.2 L223.1,104.7 L224.8,104.6 L223.8,103.8Z" fill="#0c021d" stroke="#0c021d" stroke-width="0.3"/>
<path d="M204.2,104.4 L205.2,104.9 L206.8,104.6 L205.9,104.0Z" fill="#0c021e" stroke="#0c021e" stroke-width="0.3"/>
<path d="M211.1,103.7 L212.0,101.8 L213.7,99.2 L212.7,102.7Z" fill="#16032f" stroke="#16032f" stroke-width="0.3"/>
<path d="M217.9,103.2 L218.9,103.2 L220.5,104.2 L219.6,103.9Z" fill="#0e021f" stroke="#0e021f" stroke-width="0.3"/>
<path d="M206.8,104.6 L207.8,104.9 L209.4,104.7 L208.5,104.2Z" fill="#0d021f" stroke="#0d021f" stroke-width="0.3"/>
<path d="M213.7,99.2 L214.6,96.8 L216.3,99.6 L215.3,100.9Z" fill="#250741" stroke="#250741" stroke-width="0.3"/>
<path d="M220.5,104.2 L221.5,103.6 L223.1,104.7 L222.2,104.2Z" fill="#0c021d" stroke="#0c021d" stroke-width="0.3"/>
<path d="M202.6,104.8 L203.6,104.8 L205.2,104.9 L204.2,104.4Z" fill="#0d021f" stroke="#0d021f" stroke-width="0.3"/>
<path d="M209.4,104.7 L210.4,104.3 L212.0,101.8 L211.1,103.7Z" fill="#13032a" stroke="#13032a" stroke-width="0.3"/>
<path d="M216.3,99.6 L217.2,101.4 L218.9,103.2 L217.9,103.2Z" fill="#140329" stroke="#140329" stroke-width="0.3"/>
<path d="M223.1,104.7 L224.1,104.9 L225.7,105.3 L224.8,104.6Z" fill="#0c021d" stroke="#0c021d" stroke-width="0.3"/>
<path d="M205.2,104.9 L206.2,104.5 L207.8,104.9 L206.8,104.6Z" fill="#0d021f" stroke="#0d021f" stroke-width="0.3"/>
<path d="M212.0,101.8 L213.0,100.4 L214.6,96.8 L213.7,99.2Z" fill="#390b64" stroke="#390b64" stroke-width="0.3"/>
<path d="M218.9,103.2 L219.8,100.4 L221.5,103.6 L220.5,104.2Z" fill="#100223" stroke="#100223" stroke-width="0.3"/>
<path d="M201.0,105.0 L201.9,104.2 L203.6,104.8 L202.6,104.8Z" fill="#0e0220" stroke="#0e0220" stroke-width="0.3"/>
<path d="M207.8,104.9 L208.8,104.0 L210.4,104.3 L209.4,104.7Z" fill="#0f0222" stroke="#0f0222" stroke-width="0.3"/>
<path d="M214.6,96.8 L215.6,100.9 L217.2,101.4 L216.3,99.6Z" fill="#330a59" stroke="#330a59" stroke-width="0.3"/>
<path d="M221.5,103.6 L222.4,102.3 L224.1,104.9 L223.1,104.7Z" fill="#0d021d" stroke="#0d021d" stroke-width="0.3"/>
<path d="M203.6,104.8 L204.5,103.6 L206.2,104.5 L205.2,104.9Z" fill="#0f0221" stroke="#0f0221" stroke-width="0.3"/>
<path d="M210.4,104.3 L211.4,103.6 L213.0,100.4 L212.0,101.8Z" fill="#210543" stroke="#210543" stroke-width="0.3"/>
<path d="M217.2,101.4 L218.2,99.4 L219.8,100.4 L218.9,103.2Z" fill="#1e0537" stroke="#1e0537" stroke-width="0.3"/>
<path d="M224.1,104.9 L225.0,104.7 L226.7,106.0 L225.7,105.3Z" fill="#0c021c" stroke="#0c021c" stroke-width="0.3"/>
<path d="M199.3,105.2 L200.3,103.8 L201.9,104.2 L201.0,105.0Z" fill="#100223" stroke="#100223" stroke-width="0.3"/>
<path d="M206.2,104.5 L207.1,102.2 L208.8,104.0 L207.8,104.9Z" fill="#0f0221" stroke="#0f0221" stroke-width="0.3"/>
<path d="M213.0,100.4 L214.0,103.2 L215.6,100.9 L214.6,96.8Z" fill="#470e7c" stroke="#470e7c" stroke-width="0.3"/>
<path d="M219.8,100.4 L220.8,96.1 L222.4,102.3 L221.5,103.6Z" fill="#24073f" stroke="#24073f" stroke-width="0.3"/>
<path d="M201.9,104.2 L202.9,102.1 L204.5,103.6 L203.6,104.8Z" fill="#110325" stroke="#110325" stroke-width="0.3"/>
<path d="M208.8,104.0 L209.7,101.8 L211.4,103.6 L210.4,104.3Z" fill="#130327" stroke="#130327" stroke-width="0.3"/>
<path d="M215.6,100.9 L216.6,102.0 L218.2,99.4 L217.2,101.4Z" fill="#3a0b65" stroke="#3a0b65" stroke-width="0.3"/>
<path d="M222.4,102.3 L223.4,101.9 L225.0,104.7 L224.1,104.9Z" fill="#120326" stroke="#120326" stroke-width="0.3"/>
<path d="M197.7,105.7 L198.6,104.3 L200.3,103.8 L199.3,105.2Z" fill="#120328" stroke="#120328" stroke-width="0.3"/>
<path d="M204.5,103.6 L205.5,100.3 L207.1,102.2 L206.2,104.5Z" fill="#19042f" stroke="#19042f" stroke-width="0.3"/>
<path d="M211.4,103.6 L212.3,103.9 L214.0,103.2 L213.0,100.4Z" fill="#2f085c" stroke="#2f085c" stroke-width="0.3"/>
<path d="M218.2,99.4 L219.2,94.5 L220.8,96.1 L219.8,100.4Z" fill="#3b0d52" stroke="#3b0d52" stroke-width="0.3"/>
<path d="M225.0,104.7 L226.0,103.8 L227.6,106.6 L226.7,106.0Z" fill="#0c021b" stroke="#0c021b" stroke-width="0.3"/>
<path d="M200.3,103.8 L201.2,101.0 L202.9,102.1 L201.9,104.2Z" fill="#190430" stroke="#190430" stroke-width="0.3"/>
<path d="M207.1,102.2 L208.1,97.4 L209.7,101.8 L208.8,104.0Z" fill="#24073f" stroke="#24073f" stroke-width="0.3"/>
<path d="M214.0,103.2 L214.9,104.6 L216.6,102.0 L215.6,100.9Z" fill="#340962" stroke="#340962" stroke-width="0.3"/>
<path d="M220.8,96.1 L221.8,96.2 L223.4,101.9 L222.4,102.3Z" fill="#330b4e" stroke="#330b4e" stroke-width="0.3"/>
<path d="M196.0,106.4 L197.0,105.7 L198.6,104.3 L197.7,105.7Z" fill="#13032a" stroke="#13032a" stroke-width="0.3"/>
<path d="M202.9,102.1 L203.8,99.0 L205.5,100.3 L204.5,103.6Z" fill="#260742" stroke="#260742" stroke-width="0.3"/>
<path d="M209.7,101.8 L210.7,100.2 L212.3,103.9 L211.4,103.6Z" fill="#1e0537" stroke="#1e0537" stroke-width="0.3"/>
<path d="M216.6,102.0 L217.5,99.4 L219.2,94.5 L218.2,99.4Z" fill="#481069" stroke="#481069" stroke-width="0.3"/>
<path d="M223.4,101.9 L224.4,102.1 L226.0,103.8 L225.0,104.7Z" fill="#190430" stroke="#190430" stroke-width="0.3"/>
<path d="M198.6,104.3 L199.6,101.8 L201.2,101.0 L200.3,103.8Z" fill="#22063f" stroke="#22063f" stroke-width="0.3"/>
<path d="M205.5,100.3 L206.4,94.5 L208.1,97.4 L207.1,102.2Z" fill="#390c51" stroke="#390c51" stroke-width="0.3"/>
<path d="M212.3,103.9 L213.3,103.6 L214.9,104.6 L214.0,103.2Z" fill="#220644" stroke="#220644" stroke-width="0.3"/>
<path d="M219.2,94.5 L220.1,94.9 L221.8,96.2 L220.8,96.1Z" fill="#5b1862" stroke="#5b1862" stroke-width="0.3"/>
<path d="M226.0,103.8 L227.0,103.6 L228.6,107.3 L227.6,106.6Z" fill="#0f0220" stroke="#0f0220" stroke-width="0.3"/>
<path d="M194.4,107.2 L195.4,106.9 L197.0,105.7 L196.0,106.4Z" fill="#110227" stroke="#110227" stroke-width="0.3"/>
<path d="M201.2,101.0 L202.2,98.8 L203.8,99.0 L202.9,102.1Z" fill="#300a4c" stroke="#300a4c" stroke-width="0.3"/>
<path d="M208.1,97.4 L209.0,94.3 L210.7,100.2 L209.7,101.8Z" fill="#3c0d53" stroke="#3c0d53" stroke-width="0.3"/>
<path d="M214.9,104.6 L215.9,103.4 L217.5,99.4 L216.6,102.0Z" fill="#340a5d" stroke="#340a5d" stroke-width="0.3"/>
<path d="M221.8,96.2 L222.7,100.3 L224.4,102.1 L223.4,101.9Z" fill="#310a4d" stroke="#310a4d" stroke-width="0.3"/>
<path d="M197.0,105.7 L198.0,104.0 L199.6,101.8 L198.6,104.3Z" fill="#210640" stroke="#210640" stroke-width="0.3"/>
<path d="M203.8,99.0 L204.8,95.3 L206.4,94.5 L205.5,100.3Z" fill="#441057" stroke="#441057" stroke-width="0.3"/>
<path d="M210.7,100.2 L211.6,98.8 L213.3,103.6 L212.3,103.9Z" fill="#290846" stroke="#290846" stroke-width="0.3"/>
<path d="M217.5,99.4 L218.5,99.2 L220.1,94.9 L219.2,94.5Z" fill="#7d1e99" stroke="#7d1e99" stroke-width="0.3"/>
<path d="M224.4,102.1 L225.3,102.4 L227.0,103.6 L226.0,103.8Z" fill="#240741" stroke="#240741" stroke-width="0.3"/>
<path d="M192.8,107.5 L193.7,106.9 L195.4,106.9 L194.4,107.2Z" fill="#0f0222" stroke="#0f0222" stroke-width="0.3"/>
<path d="M199.6,101.8 L200.6,100.3 L202.2,98.8 L201.2,101.0Z" fill="#430e67" stroke="#430e67" stroke-width="0.3"/>
<path d="M206.4,94.5 L207.4,91.4 L209.0,94.3 L208.1,97.4Z" fill="#5a1a4f" stroke="#5a1a4f" stroke-width="0.3"/>
<path d="M213.3,103.6 L214.2,101.6 L215.9,103.4 L214.9,104.6Z" fill="#1f0538" stroke="#1f0538" stroke-width="0.3"/>
<path d="M220.1,94.9 L221.1,100.4 L222.7,100.3 L221.8,96.2Z" fill="#631781" stroke="#631781" stroke-width="0.3"/>
<path d="M227.0,103.6 L227.9,105.6 L229.6,108.1 L228.6,107.3Z" fill="#0e021f" stroke="#0e021f" stroke-width="0.3"/>
<path d="M195.4,106.9 L196.3,105.2 L198.0,104.0 L197.0,105.7Z" fill="#190433" stroke="#190433" stroke-width="0.3"/>
<path d="M202.2,98.8 L203.2,98.1 L204.8,95.3 L203.8,99.0Z" fill="#591572" stroke="#591572" stroke-width="0.3"/>
<path d="M209.0,94.3 L210.0,93.0 L211.6,98.8 L210.7,100.2Z" fill="#4d1454" stroke="#4d1454" stroke-width="0.3"/>
<path d="M215.9,103.4 L216.8,101.7 L218.5,99.2 L217.5,99.4Z" fill="#521180" stroke="#521180" stroke-width="0.3"/>
<path d="M222.7,100.3 L223.7,101.2 L225.3,102.4 L224.4,102.1Z" fill="#360b59" stroke="#360b59" stroke-width="0.3"/>
<path d="M191.1,107.0 L192.1,105.4 L193.7,106.9 L192.8,107.5Z" fill="#0f0221" stroke="#0f0221" stroke-width="0.3"/>
<path d="M198.0,104.0 L198.9,102.5 L200.6,100.3 L199.6,101.8Z" fill="#410d6e" stroke="#410d6e" stroke-width="0.3"/>
<path d="M204.8,95.3 L205.8,94.4 L207.4,91.4 L206.4,94.5Z" fill="#88296a" stroke="#88296a" stroke-width="0.3"/>
<path d="M211.6,98.8 L212.6,95.5 L214.2,101.6 L213.3,103.6Z" fill="#390c51" stroke="#390c51" stroke-width="0.3"/>
<path d="M218.5,99.2 L219.4,101.0 L221.1,100.4 L220.1,94.9Z" fill="#761b9f" stroke="#761b9f" stroke-width="0.3"/>
<path d="M225.3,102.4 L226.3,104.0 L227.9,105.6 L227.0,103.6Z" fill="#29074a" stroke="#29074a" stroke-width="0.3"/>
<path d="M193.7,106.9 L194.7,104.0 L196.3,105.2 L195.4,106.9Z" fill="#130328" stroke="#130328" stroke-width="0.3"/>
<path d="M200.6,100.3 L201.5,100.7 L203.2,98.1 L202.2,98.8Z" fill="#6e1996" stroke="#6e1996" stroke-width="0.3"/>
<path d="M207.4,91.4 L208.4,91.5 L210.0,93.0 L209.0,94.3Z" fill="#6b2643" stroke="#6b2643" stroke-width="0.3"/>
<path d="M214.2,101.6 L215.2,98.4 L216.8,101.7 L215.9,103.4Z" fill="#320a4d" stroke="#320a4d" stroke-width="0.3"/>
<path d="M221.1,100.4 L222.0,101.1 L223.7,101.2 L222.7,100.3Z" fill="#5a1385" stroke="#5a1385" stroke-width="0.3"/>
<path d="M227.9,105.6 L228.9,108.3 L230.5,109.0 L229.6,108.1Z" fill="#0e0220" stroke="#0e0220" stroke-width="0.3"/>
<path d="M189.5,105.8 L190.4,103.3 L192.1,105.4 L191.1,107.0Z" fill="#17042d" stroke="#17042d" stroke-width="0.3"/>
<path d="M196.3,105.2 L197.3,102.1 L198.9,102.5 L198.0,104.0Z" fill="#2b084c" stroke="#2b084c" stroke-width="0.3"/>
<path d="M203.2,98.1 L204.1,99.4 L205.8,94.4 L204.8,95.3Z" fill="#912795" stroke="#912795" stroke-width="0.3"/>
<path d="M210.0,93.0 L211.0,89.9 L212.6,95.5 L211.6,98.8Z" fill="#621e4b" stroke="#621e4b" stroke-width="0.3"/>
<path d="M216.8,101.7 L217.8,98.3 L219.4,101.0 L218.5,99.2Z" fill="#4e126d" stroke="#4e126d" stroke-width="0.3"/>
<path d="M223.7,101.2 L224.6,98.1 L226.3,104.0 L225.3,102.4Z" fill="#330b4e" stroke="#330b4e" stroke-width="0.3"/>
<path d="M192.1,105.4 L193.0,101.6 L194.7,104.0 L193.7,106.9Z" fill="#1f0639" stroke="#1f0639" stroke-width="0.3"/>
<path d="M198.9,102.5 L199.9,101.5 L201.5,100.7 L200.6,100.3Z" fill="#5c1489" stroke="#5c1489" stroke-width="0.3"/>
<path d="M205.8,94.4 L206.7,95.7 L208.4,91.5 L207.4,91.4Z" fill="#c5457e" stroke="#c5457e" stroke-width="0.3"/>
<path d="M212.6,95.5 L213.6,90.8 L215.2,98.4 L214.2,101.6Z" fill="#541751" stroke="#541751" stroke-width="0.3"/>
<path d="M219.4,101.0 L220.4,100.9 L222.0,101.1 L221.1,100.4Z" fill="#5b1484" stroke="#5b1484" stroke-width="0.3"/>
<path d="M226.3,104.0 L227.2,107.1 L228.9,108.3 L227.9,105.6Z" fill="#1b0437" stroke="#1b0437" stroke-width="0.3"/>
<path d="M187.8,105.2 L188.8,102.4 L190.4,103.3 L189.5,105.8Z" fill="#23063e" stroke="#23063e" stroke-width="0.3"/>
<path d="M194.7,104.0 L195.6,97.9 L197.3,102.1 L196.3,105.2Z" fill="#300a4c" stroke="#300a4c" stroke-width="0.3"/>
<path d="M201.5,100.7 L202.5,101.4 L204.1,99.4 L203.2,98.1Z" fill="#7c1da6" stroke="#7c1da6" stroke-width="0.3"/>
<path d="M208.4,91.5 L209.3,90.3 L211.0,89.9 L210.0,93.0Z" fill="#80343a" stroke="#80343a" stroke-width="0.3"/>
<path d="M215.2,98.4 L216.2,94.7 L217.8,98.3 L216.8,101.7Z" fill="#4a1255" stroke="#4a1255" stroke-width="0.3"/>
<path d="M222.0,101.1 L223.0,95.1 L224.6,98.1 L223.7,101.2Z" fill="#461157" stroke="#461157" stroke-width="0.3"/>
<path d="M228.9,108.3 L229.8,109.9 L231.5,109.9 L230.5,109.0Z" fill="#0d0220" stroke="#0d0220" stroke-width="0.3"/>
<path d="M190.4,103.3 L191.4,100.3 L193.0,101.6 L192.1,105.4Z" fill="#2f094c" stroke="#2f094c" stroke-width="0.3"/>
<path d="M197.3,102.1 L198.2,98.2 L199.9,101.5 L198.9,102.5Z" fill="#390d51" stroke="#390d51" stroke-width="0.3"/>
<path d="M204.1,99.4 L205.1,100.4 L206.7,95.7 L205.8,94.4Z" fill="#942896" stroke="#942896" stroke-width="0.3"/>
<path d="M211.0,89.9 L211.9,84.8 L213.6,90.8 L212.6,95.5Z" fill="#7d3b32" stroke="#7d3b32" stroke-width="0.3"/>
<path d="M217.8,98.3 L218.8,96.2 L220.4,100.9 L219.4,101.0Z" fill="#461157" stroke="#461157" stroke-width="0.3"/>
<path d="M224.6,98.1 L225.6,101.1 L227.2,107.1 L226.3,104.0Z" fill="#300a4c" stroke="#300a4c" stroke-width="0.3"/>
<path d="M186.2,105.3 L187.2,102.5 L188.8,102.4 L187.8,105.2Z" fill="#2c084c" stroke="#2c084c" stroke-width="0.3"/>
<path d="M193.0,101.6 L194.0,93.9 L195.6,97.9 L194.7,104.0Z" fill="#461157" stroke="#461157" stroke-width="0.3"/>
<path d="M199.9,101.5 L200.8,99.2 L202.5,101.4 L201.5,100.7Z" fill="#491164" stroke="#491164" stroke-width="0.3"/>
<path d="M206.7,95.7 L207.7,96.2 L209.3,90.3 L208.4,91.5Z" fill="#bb456f" stroke="#bb456f" stroke-width="0.3"/>
<path d="M213.6,90.8 L214.5,89.3 L216.2,94.7 L215.2,98.4Z" fill="#6f2940" stroke="#6f2940" stroke-width="0.3"/>
<path d="M220.4,100.9 L221.4,100.3 L223.0,95.1 L222.0,101.1Z" fill="#5a1670" stroke="#5a1670" stroke-width="0.3"/>
<path d="M227.2,107.1 L228.2,109.2 L229.8,109.9 L228.9,108.3Z" fill="#120329" stroke="#120329" stroke-width="0.3"/>
<path d="M188.8,102.4 L189.8,101.3 L191.4,100.3 L190.4,103.3Z" fill="#400e5c" stroke="#400e5c" stroke-width="0.3"/>
<path d="M195.6,97.9 L196.6,91.1 L198.2,98.2 L197.3,102.1Z" fill="#551851" stroke="#551851" stroke-width="0.3"/>
<path d="M202.5,101.4 L203.4,99.7 L205.1,100.4 L204.1,99.4Z" fill="#681889" stroke="#681889" stroke-width="0.3"/>
<path d="M209.3,90.3 L210.3,86.9 L211.9,84.8 L211.0,89.9Z" fill="#92582d" stroke="#92582d" stroke-width="0.3"/>
<path d="M216.2,94.7 L217.1,94.7 L218.8,96.2 L217.8,98.3Z" fill="#5f1c4d" stroke="#5f1c4d" stroke-width="0.3"/>
<path d="M223.0,95.1 L224.0,96.8 L225.6,101.1 L224.6,98.1Z" fill="#531652" stroke="#531652" stroke-width="0.3"/>
<path d="M229.8,109.9 L230.8,110.8 L232.4,110.6 L231.5,109.9Z" fill="#0c021e" stroke="#0c021e" stroke-width="0.3"/>
<path d="M184.6,104.5 L185.5,101.1 L187.2,102.5 L186.2,105.3Z" fill="#300a4c" stroke="#300a4c" stroke-width="0.3"/>
<path d="M191.4,100.3 L192.4,94.9 L194.0,93.9 L193.0,101.6Z" fill="#541751" stroke="#541751" stroke-width="0.3"/>
<path d="M198.2,98.2 L199.2,94.1 L200.8,99.2 L199.9,101.5Z" fill="#511553" stroke="#511553" stroke-width="0.3"/>
<path d="M205.1,100.4 L206.0,100.6 L207.7,96.2 L206.7,95.7Z" fill="#902793" stroke="#902793" stroke-width="0.3"/>
<path d="M211.9,84.8 L212.9,84.2 L214.5,89.3 L213.6,90.8Z" fill="#875b2e" stroke="#875b2e" stroke-width="0.3"/>
<path d="M218.8,96.2 L219.7,101.0 L221.4,100.3 L220.4,100.9Z" fill="#581569" stroke="#581569" stroke-width="0.3"/>
<path d="M225.6,101.1 L226.6,105.4 L228.2,109.2 L227.2,107.1Z" fill="#20063a" stroke="#20063a" stroke-width="0.3"/>
<path d="M187.2,102.5 L188.1,102.5 L189.8,101.3 L188.8,102.4Z" fill="#56137c" stroke="#56137c" stroke-width="0.3"/>
<path d="M194.0,93.9 L195.0,86.2 L196.6,91.1 L195.6,97.9Z" fill="#7a3236" stroke="#7a3236" stroke-width="0.3"/>
<path d="M200.8,99.2 L201.8,93.3 L203.4,99.7 L202.5,101.4Z" fill="#511652" stroke="#511652" stroke-width="0.3"/>
<path d="M207.7,96.2 L208.6,94.9 L210.3,86.9 L209.3,90.3Z" fill="#bb5052" stroke="#bb5052" stroke-width="0.3"/>
<path d="M214.5,89.3 L215.5,94.0 L217.1,94.7 L216.2,94.7Z" fill="#7c303f" stroke="#7c303f" stroke-width="0.3"/>
<path d="M221.4,100.3 L222.3,101.0 L224.0,96.8 L223.0,95.1Z" fill="#972996" stroke="#972996" stroke-width="0.3"/>
<path d="M228.2,109.2 L229.2,109.7 L230.8,110.8 L229.8,109.9Z" fill="#0f0221" stroke="#0f0221" stroke-width="0.3"/>
<path d="M182.9,103.9 L183.9,99.7 L185.5,101.1 L184.6,104.5Z" fill="#390d51" stroke="#390d51" stroke-width="0.3"/>
<path d="M189.8,101.3 L190.7,99.9 L192.4,94.9 L191.4,100.3Z" fill="#661b6d" stroke="#661b6d" stroke-width="0.3"/>
<path d="M196.6,91.1 L197.6,88.6 L199.2,94.1 L198.2,98.2Z" fill="#773039" stroke="#773039" stroke-width="0.3"/>
<path d="M203.4,99.7 L204.4,97.2 L206.0,100.6 L205.1,100.4Z" fill="#4c1355" stroke="#4c1355" stroke-width="0.3"/>
<path d="M210.3,86.9 L211.2,86.6 L212.9,84.2 L211.9,84.8Z" fill="#eec674" stroke="#eec674" stroke-width="0.3"/>
<path d="M217.1,94.7 L218.1,101.8 L219.7,101.0 L218.8,96.2Z" fill="#7c227a" stroke="#7c227a" stroke-width="0.3"/>
<path d="M224.0,96.8 L224.9,100.9 L226.6,105.4 L225.6,101.1Z" fill="#441059" stroke="#441059" stroke-width="0.3"/>
<path d="M230.8,110.8 L231.8,110.9 L233.4,111.4 L232.4,110.6Z" fill="#0c021d" stroke="#0c021d" stroke-width="0.3"/>
<path d="M185.5,101.1 L186.5,101.4 L188.1,102.5 L187.2,102.5Z" fill="#491164" stroke="#491164" stroke-width="0.3"/>
<path d="M192.4,94.9 L193.3,89.6 L195.0,86.2 L194.0,93.9Z" fill="#844132" stroke="#844132" stroke-width="0.3"/>
<path d="M199.2,94.1 L200.2,86.7 L201.8,93.3 L200.8,99.2Z" fill="#762f39" stroke="#762f39" stroke-width="0.3"/>
<path d="M206.0,100.6 L207.0,100.6 L208.6,94.9 L207.7,96.2Z" fill="#922986" stroke="#922986" stroke-width="0.3"/>
<path d="M212.9,84.2 L213.8,91.2 L215.5,94.0 L214.5,89.3Z" fill="#965531" stroke="#965531" stroke-width="0.3"/>
<path d="M219.7,101.0 L220.7,104.6 L222.3,101.0 L221.4,100.3Z" fill="#7d1da8" stroke="#7d1da8" stroke-width="0.3"/>
<path d="M226.6,105.4 L227.5,106.2 L229.2,109.7 L228.2,109.2Z" fill="#18042e" stroke="#18042e" stroke-width="0.3"/>
<path d="M181.3,105.4 L182.2,102.0 L183.9,99.7 L182.9,103.9Z" fill="#440f61" stroke="#440f61" stroke-width="0.3"/>
<path d="M188.1,102.5 L189.1,103.9 L190.7,99.9 L189.8,101.3Z" fill="#731b9a" stroke="#731b9a" stroke-width="0.3"/>
<path d="M195.0,86.2 L195.9,87.3 L197.6,88.6 L196.6,91.1Z" fill="#875a2e" stroke="#875a2e" stroke-width="0.3"/>
<path d="M201.8,93.3 L202.8,87.4 L204.4,97.2 L203.4,99.7Z" fill="#712b3e" stroke="#712b3e" stroke-width="0.3"/>
<path d="M208.6,94.9 L209.6,95.0 L211.2,86.6 L210.3,86.9Z" fill="#d6704d" stroke="#d6704d" stroke-width="0.3"/>
<path d="M215.5,94.0 L216.4,102.5 L218.1,101.8 L217.1,94.7Z" fill="#822576" stroke="#822576" stroke-width="0.3"/>
<path d="M222.3,101.0 L223.3,100.2 L224.9,100.9 L224.0,96.8Z" fill="#9c29a8" stroke="#9c29a8" stroke-width="0.3"/>
<path d="M229.2,109.7 L230.1,108.4 L231.8,110.9 L230.8,110.8Z" fill="#0e021e" stroke="#0e021e" stroke-width="0.3"/>
<path d="M183.9,99.7 L184.8,100.1 L186.5,101.4 L185.5,101.1Z" fill="#591668" stroke="#591668" stroke-width="0.3"/>
<path d="M190.7,99.9 L191.7,98.5 L193.3,89.6 L192.4,94.9Z" fill="#9b3663" stroke="#9b3663" stroke-width="0.3"/>
<path d="M197.6,88.6 L198.5,85.6 L200.2,86.7 L199.2,94.1Z" fill="#87582d" stroke="#87582d" stroke-width="0.3"/>
<path d="M204.4,97.2 L205.4,97.7 L207.0,100.6 L206.0,100.6Z" fill="#541751" stroke="#541751" stroke-width="0.3"/>
<path d="M211.2,86.6 L212.2,92.6 L213.8,91.2 L212.9,84.2Z" fill="#df944c" stroke="#df944c" stroke-width="0.3"/>
<path d="M218.1,101.8 L219.0,107.2 L220.7,104.6 L219.7,101.0Z" fill="#60158d" stroke="#60158d" stroke-width="0.3"/>
<path d="M224.9,100.9 L225.9,102.0 L227.5,106.2 L226.6,105.4Z" fill="#360c50" stroke="#360c50" stroke-width="0.3"/>
<path d="M231.8,110.9 L232.7,110.8 L234.4,112.1 L233.4,111.4Z" fill="#0c021c" stroke="#0c021c" stroke-width="0.3"/>
<path d="M179.6,108.1 L180.6,106.3 L182.2,102.0 L181.3,105.4Z" fill="#3e0c69" stroke="#3e0c69" stroke-width="0.3"/>
<path d="M186.5,101.4 L187.4,104.4 L189.1,103.9 L188.1,102.5Z" fill="#611688" stroke="#611688" stroke-width="0.3"/>
<path d="M193.3,89.6 L194.3,92.9 L195.9,87.3 L195.0,86.2Z" fill="#fda555" stroke="#fda555" stroke-width="0.3"/>
<path d="M200.2,86.7 L201.1,79.6 L202.8,87.4 L201.8,93.3Z" fill="#897141" stroke="#897141" stroke-width="0.3"/>
<path d="M207.0,100.6 L208.0,101.5 L209.6,95.0 L208.6,94.9Z" fill="#a22f87" stroke="#a22f87" stroke-width="0.3"/>
<path d="M213.8,91.2 L214.8,101.1 L216.4,102.5 L215.5,94.0Z" fill="#822862" stroke="#822862" stroke-width="0.3"/>
<path d="M220.7,104.6 L221.6,103.3 L223.3,100.2 L222.3,101.0Z" fill="#6a198d" stroke="#6a198d" stroke-width="0.3"/>
<path d="M227.5,106.2 L228.5,105.3 L230.1,108.4 L229.2,109.7Z" fill="#1f0538" stroke="#1f0538" stroke-width="0.3"/>
<path d="M182.2,102.0 L183.2,102.1 L184.8,100.1 L183.9,99.7Z" fill="#8a23a0" stroke="#8a23a0" stroke-width="0.3"/>
<path d="M189.1,103.9 L190.0,105.2 L191.7,98.5 L190.7,99.9Z" fill="#751c96" stroke="#751c96" stroke-width="0.3"/>
<path d="M195.9,87.3 L196.9,90.8 L198.5,85.6 L197.6,88.6Z" fill="#febb60" stroke="#febb60" stroke-width="0.3"/>
<path d="M202.8,87.4 L203.7,88.1 L205.4,97.7 L204.4,97.2Z" fill="#7e3c32" stroke="#7e3c32" stroke-width="0.3"/>
<path d="M209.6,95.0 L210.6,98.0 L212.2,92.6 L211.2,86.6Z" fill="#de655c" stroke="#de655c" stroke-width="0.3"/>
<path d="M216.4,102.5 L217.4,108.5 L219.0,107.2 L218.1,101.8Z" fill="#50107d" stroke="#50107d" stroke-width="0.3"/>
<path d="M223.3,100.2 L224.2,100.2 L225.9,102.0 L224.9,100.9Z" fill="#5e186a" stroke="#5e186a" stroke-width="0.3"/>
<path d="M230.1,108.4 L231.1,106.2 L232.7,110.8 L231.8,110.9Z" fill="#15032a" stroke="#15032a" stroke-width="0.3"/>
<path d="M178.0,110.4 L179.0,110.8 L180.6,106.3 L179.6,108.1Z" fill="#27074c" stroke="#27074c" stroke-width="0.3"/>
<path d="M184.8,100.1 L185.8,103.7 L187.4,104.4 L186.5,101.4Z" fill="#60167e" stroke="#60167e" stroke-width="0.3"/>
<path d="M191.7,98.5 L192.6,101.9 L194.3,92.9 L193.3,89.6Z" fill="#c1486f" stroke="#c1486f" stroke-width="0.3"/>
<path d="M198.5,85.6 L199.5,81.8 L201.1,79.6 L200.2,86.7Z" fill="#897e58" stroke="#897e58" stroke-width="0.3"/>
<path d="M205.4,97.7 L206.3,101.1 L208.0,101.5 L207.0,100.6Z" fill="#6a1c6b" stroke="#6a1c6b" stroke-width="0.3"/>
<path d="M212.2,92.6 L213.2,100.5 L214.8,101.1 L213.8,91.2Z" fill="#9f3863" stroke="#9f3863" stroke-width="0.3"/>
<path d="M219.0,107.2 L220.0,107.8 L221.6,103.3 L220.7,104.6Z" fill="#501083" stroke="#501083" stroke-width="0.3"/>
<path d="M225.9,102.0 L226.8,104.5 L228.5,105.3 L227.5,106.2Z" fill="#370c52" stroke="#370c52" stroke-width="0.3"/>
<path d="M232.7,110.8 L233.7,112.0 L235.3,112.9 L234.4,112.1Z" fill="#0d021e" stroke="#0d021e" stroke-width="0.3"/>
<path d="M180.6,106.3 L181.6,107.2 L183.2,102.1 L182.2,102.0Z" fill="#63168f" stroke="#63168f" stroke-width="0.3"/>
<path d="M187.4,104.4 L188.4,107.1 L190.0,105.2 L189.1,103.9Z" fill="#631598" stroke="#631598" stroke-width="0.3"/>
<path d="M194.3,92.9 L195.2,99.4 L196.9,90.8 L195.9,87.3Z" fill="#e27156" stroke="#e27156" stroke-width="0.3"/>
<path d="M201.1,79.6 L202.1,81.1 L203.7,88.1 L202.8,87.4Z" fill="#897e58" stroke="#897e58" stroke-width="0.3"/>
<path d="M208.0,101.5 L208.9,102.5 L210.6,98.0 L209.6,95.0Z" fill="#a32f90" stroke="#a32f90" stroke-width="0.3"/>
<path d="M214.8,101.1 L215.8,107.7 L217.4,108.5 L216.4,102.5Z" fill="#49106e" stroke="#49106e" stroke-width="0.3"/>
<path d="M221.6,103.3 L222.6,103.2 L224.2,100.2 L223.3,100.2Z" fill="#83219a" stroke="#83219a" stroke-width="0.3"/>
<path d="M228.5,105.3 L229.4,103.6 L231.1,106.2 L230.1,108.4Z" fill="#2f094c" stroke="#2f094c" stroke-width="0.3"/>
<path d="M183.2,102.1 L184.2,105.2 L185.8,103.7 L184.8,100.1Z" fill="#7d1da2" stroke="#7d1da2" stroke-width="0.3"/>
<path d="M190.0,105.2 L191.0,108.1 L192.6,101.9 L191.7,98.5Z" fill="#711a98" stroke="#711a98" stroke-width="0.3"/>
<path d="M196.9,90.8 L197.8,92.4 L199.5,81.8 L198.5,85.6Z" fill="#ddb76b" stroke="#ddb76b" stroke-width="0.3"/>
<path d="M203.7,88.1 L204.7,95.6 L206.3,101.1 L205.4,97.7Z" fill="#732c3c" stroke="#732c3c" stroke-width="0.3"/>
<path d="M210.6,98.0 L211.5,101.2 L213.2,100.5 L212.2,92.6Z" fill="#ae3781" stroke="#ae3781" stroke-width="0.3"/>
<path d="M217.4,108.5 L218.4,110.1 L220.0,107.8 L219.0,107.2Z" fill="#3d0b6f" stroke="#3d0b6f" stroke-width="0.3"/>
<path d="M224.2,100.2 L225.2,104.4 L226.8,104.5 L225.9,102.0Z" fill="#631780" stroke="#631780" stroke-width="0.3"/>
<path d="M231.1,106.2 L232.0,108.6 L233.7,112.0 L232.7,110.8Z" fill="#18042e" stroke="#18042e" stroke-width="0.3"/>
<path d="M179.0,110.8 L179.9,111.7 L181.6,107.2 L180.6,106.3Z" fill="#33095e" stroke="#33095e" stroke-width="0.3"/>
<path d="M185.8,103.7 L186.8,106.5 L188.4,107.1 L187.4,104.4Z" fill="#501178" stroke="#501178" stroke-width="0.3"/>
<path d="M192.6,101.9 L193.6,107.0 L195.2,99.4 L194.3,92.9Z" fill="#962a8d" stroke="#962a8d" stroke-width="0.3"/>
<path d="M199.5,81.8 L200.4,84.3 L202.1,81.1 L201.1,79.6Z" fill="#fff8ac" stroke="#fff8ac" stroke-width="0.3"/>
<path d="M206.3,101.1 L207.3,103.9 L208.9,102.5 L208.0,101.5Z" fill="#86219f" stroke="#86219f" stroke-width="0.3"/>
<path d="M213.2,100.5 L214.1,105.7 L215.8,107.7 L214.8,101.1Z" fill="#581476" stroke="#581476" stroke-width="0.3"/>
<path d="M220.0,107.8 L221.0,107.7 L222.6,103.2 L221.6,103.3Z" fill="#5a1388" stroke="#5a1388" stroke-width="0.3"/>
<path d="M226.8,104.5 L227.8,107.5 L229.4,103.6 L228.5,105.3Z" fill="#68179a" stroke="#68179a" stroke-width="0.3"/>
<path d="M233.7,112.0 L234.6,113.7 L236.3,113.7 L235.3,112.9Z" fill="#0d021f" stroke="#0d021f" stroke-width="0.3"/>
<path d="M181.6,107.2 L182.5,109.4 L184.2,105.2 L183.2,102.1Z" fill="#5d1490" stroke="#5d1490" stroke-width="0.3"/>
<path d="M188.4,107.1 L189.4,109.7 L191.0,108.1 L190.0,105.2Z" fill="#4d0f85" stroke="#4d0f85" stroke-width="0.3"/>
<path d="M195.2,99.4 L196.2,103.6 L197.8,92.4 L196.9,90.8Z" fill="#c1496b" stroke="#c1496b" stroke-width="0.3"/>
<path d="M202.1,81.1 L203.0,91.6 L204.7,95.6 L203.7,88.1Z" fill="#97713a" stroke="#97713a" stroke-width="0.3"/>
<path d="M208.9,102.5 L209.9,102.1 L211.5,101.2 L210.6,98.0Z" fill="#a32da0" stroke="#a32da0" stroke-width="0.3"/>
<path d="M215.8,107.7 L216.7,109.3 L218.4,110.1 L217.4,108.5Z" fill="#2d0852" stroke="#2d0852" stroke-width="0.3"/>
<path d="M222.6,103.2 L223.6,106.6 L225.2,104.4 L224.2,100.2Z" fill="#7a1da0" stroke="#7a1da0" stroke-width="0.3"/>
<path d="M229.4,103.6 L230.4,107.3 L232.0,108.6 L231.1,106.2Z" fill="#3d0c61" stroke="#3d0c61" stroke-width="0.3"/>
<path d="M184.2,105.2 L185.1,107.9 L186.8,106.5 L185.8,103.7Z" fill="#651697" stroke="#651697" stroke-width="0.3"/>
<path d="M191.0,108.1 L192.0,111.3 L193.6,107.0 L192.6,101.9Z" fill="#521088" stroke="#521088" stroke-width="0.3"/>
<path d="M197.8,92.4 L198.8,95.6 L200.4,84.3 L199.5,81.8Z" fill="#e9be6c" stroke="#e9be6c" stroke-width="0.3"/>
<path d="M204.7,95.6 L205.6,103.1 L207.3,103.9 L206.3,101.1Z" fill="#651c60" stroke="#651c60" stroke-width="0.3"/>
<path d="M211.5,101.2 L212.5,103.1 L214.1,105.7 L213.2,100.5Z" fill="#6c1b7e" stroke="#6c1b7e" stroke-width="0.3"/>
<path d="M218.4,110.1 L219.3,108.6 L221.0,107.7 L220.0,107.8Z" fill="#390b64" stroke="#390b64" stroke-width="0.3"/>
<path d="M225.2,104.4 L226.2,109.1 L227.8,107.5 L226.8,104.5Z" fill="#561285" stroke="#561285" stroke-width="0.3"/>
<path d="M232.0,108.6 L233.0,112.5 L234.6,113.7 L233.7,112.0Z" fill="#130328" stroke="#130328" stroke-width="0.3"/>
<path d="M179.9,111.7 L180.9,112.8 L182.5,109.4 L181.6,107.2Z" fill="#2d0857" stroke="#2d0857" stroke-width="0.3"/>
<path d="M186.8,106.5 L187.7,108.3 L189.4,109.7 L188.4,107.1Z" fill="#3b0b65" stroke="#3b0b65" stroke-width="0.3"/>
<path d="M193.6,107.0 L194.6,110.5 L196.2,103.6 L195.2,99.4Z" fill="#681792" stroke="#681792" stroke-width="0.3"/>
<path d="M200.4,84.3 L201.4,94.4 L203.0,91.6 L202.1,81.1Z" fill="#d8c283" stroke="#d8c283" stroke-width="0.3"/>
<path d="M207.3,103.9 L208.2,103.5 L209.9,102.1 L208.9,102.5Z" fill="#7b1f92" stroke="#7b1f92" stroke-width="0.3"/>
<path d="M214.1,105.7 L215.1,106.9 L216.7,109.3 L215.8,107.7Z" fill="#330a54" stroke="#330a54" stroke-width="0.3"/>
<path d="M221.0,107.7 L221.9,108.9 L223.6,106.6 L222.6,103.2Z" fill="#601495" stroke="#601495" stroke-width="0.3"/>
<path d="M227.8,107.5 L228.8,111.0 L230.4,107.3 L229.4,103.6Z" fill="#55118c" stroke="#55118c" stroke-width="0.3"/>
<path d="M234.6,113.7 L235.6,114.6 L237.2,114.4 L236.3,113.7Z" fill="#0c021e" stroke="#0c021e" stroke-width="0.3"/>
<path d="M182.5,109.4 L183.5,110.6 L185.1,107.9 L184.2,105.2Z" fill="#4d0f84" stroke="#4d0f84" stroke-width="0.3"/>
<path d="M189.4,109.7 L190.3,111.7 L192.0,111.3 L191.0,108.1Z" fill="#32095e" stroke="#32095e" stroke-width="0.3"/>
<path d="M196.2,103.6 L197.2,106.2 L198.8,95.6 L197.8,92.4Z" fill="#a7347e" stroke="#a7347e" stroke-width="0.3"/>
<path d="M203.0,91.6 L204.0,102.9 L205.6,103.1 L204.7,95.6Z" fill="#8c305a" stroke="#8c305a" stroke-width="0.3"/>
<path d="M209.9,102.1 L210.8,101.1 L212.5,103.1 L211.5,101.2Z" fill="#772077" stroke="#772077" stroke-width="0.3"/>
<path d="M216.7,109.3 L217.7,105.9 L219.3,108.6 L218.4,110.1Z" fill="#270743" stroke="#270743" stroke-width="0.3"/>
<path d="M223.6,106.6 L224.5,109.1 L226.2,109.1 L225.2,104.4Z" fill="#551188" stroke="#551188" stroke-width="0.3"/>
<path d="M230.4,107.3 L231.4,111.4 L233.0,112.5 L232.0,108.6Z" fill="#29074c" stroke="#29074c" stroke-width="0.3"/>
<path d="M185.1,107.9 L186.1,108.3 L187.7,108.3 L186.8,106.5Z" fill="#56118e" stroke="#56118e" stroke-width="0.3"/>
<path d="M192.0,111.3 L192.9,113.4 L194.6,110.5 L193.6,107.0Z" fill="#31095d" stroke="#31095d" stroke-width="0.3"/>
<path d="M198.8,95.6 L199.8,102.2 L201.4,94.4 L200.4,84.3Z" fill="#dc7051" stroke="#dc7051" stroke-width="0.3"/>
<path d="M205.6,103.1 L206.6,105.8 L208.2,103.5 L207.3,103.9Z" fill="#841fa8" stroke="#841fa8" stroke-width="0.3"/>
<path d="M212.5,103.1 L213.4,103.7 L215.1,106.9 L214.1,105.7Z" fill="#400f55" stroke="#400f55" stroke-width="0.3"/>
<path d="M219.3,108.6 L220.3,106.7 L221.9,108.9 L221.0,107.7Z" fill="#390b5f" stroke="#390b5f" stroke-width="0.3"/>
<path d="M226.2,109.1 L227.1,110.5 L228.8,111.0 L227.8,107.5Z" fill="#3d0b6d" stroke="#3d0b6d" stroke-width="0.3"/>
<path d="M233.0,112.5 L234.0,112.6 L235.6,114.6 L234.6,113.7Z" fill="#0e021f" stroke="#0e021f" stroke-width="0.3"/>
<path d="M180.9,112.8 L181.8,113.7 L183.5,110.6 L182.5,109.4Z" fill="#25064d" stroke="#25064d" stroke-width="0.3"/>
<path d="M187.7,108.3 L188.7,109.4 L190.3,111.7 L189.4,109.7Z" fill="#280747" stroke="#280747" stroke-width="0.3"/>
<path d="M194.6,110.5 L195.5,112.0 L197.2,106.2 L196.2,103.6Z" fill="#511085" stroke="#511085" stroke-width="0.3"/>
<path d="M201.4,94.4 L202.4,105.3 L204.0,102.9 L203.0,91.6Z" fill="#a63b67" stroke="#a63b67" stroke-width="0.3"/>
<path d="M208.2,103.5 L209.2,101.8 L210.8,101.1 L209.9,102.1Z" fill="#772174" stroke="#772174" stroke-width="0.3"/>
<path d="M215.1,106.9 L216.0,102.5 L217.7,105.9 L216.7,109.3Z" fill="#390d51" stroke="#390d51" stroke-width="0.3"/>
<path d="M221.9,108.9 L222.9,110.1 L224.5,109.1 L223.6,106.6Z" fill="#53108e" stroke="#53108e" stroke-width="0.3"/>
<path d="M228.8,111.0 L229.7,113.3 L231.4,111.4 L230.4,107.3Z" fill="#330960" stroke="#330960" stroke-width="0.3"/>
<path d="M235.6,114.6 L236.6,115.4 L238.2,115.2 L237.2,114.4Z" fill="#0c021e" stroke="#0c021e" stroke-width="0.3"/>
<path d="M183.5,110.6 L184.4,110.6 L186.1,108.3 L185.1,107.9Z" fill="#460d79" stroke="#460d79" stroke-width="0.3"/>
<path d="M190.3,111.7 L191.3,113.4 L192.9,113.4 L192.0,111.3Z" fill="#1f0540" stroke="#1f0540" stroke-width="0.3"/>
<path d="M197.2,106.2 L198.1,108.8 L199.8,102.2 L198.8,95.6Z" fill="#882493" stroke="#882493" stroke-width="0.3"/>
<path d="M204.0,102.9 L205.0,108.7 L206.6,105.8 L205.6,103.1Z" fill="#721b96" stroke="#721b96" stroke-width="0.3"/>
<path d="M210.8,101.1 L211.8,101.7 L213.4,103.7 L212.5,103.1Z" fill="#5d195a" stroke="#5d195a" stroke-width="0.3"/>
<path d="M217.7,105.9 L218.6,100.8 L220.3,106.7 L219.3,108.6Z" fill="#3f0e54" stroke="#3f0e54" stroke-width="0.3"/>
<path d="M224.5,109.1 L225.5,105.9 L227.1,110.5 L226.2,109.1Z" fill="#2c084a" stroke="#2c084a" stroke-width="0.3"/>
<path d="M231.4,111.4 L232.3,109.0 L234.0,112.6 L233.0,112.5Z" fill="#18042f" stroke="#18042f" stroke-width="0.3"/>
<path d="M186.1,108.3 L187.0,108.4 L188.7,109.4 L187.7,108.3Z" fill="#420d6e" stroke="#420d6e" stroke-width="0.3"/>
<path d="M192.9,113.4 L193.9,114.1 L195.5,112.0 L194.6,110.5Z" fill="#23064a" stroke="#23064a" stroke-width="0.3"/>
<path d="M199.8,102.2 L200.7,108.9 L202.4,105.3 L201.4,94.4Z" fill="#8c268a" stroke="#8c268a" stroke-width="0.3"/>
<path d="M206.6,105.8 L207.6,104.6 L209.2,101.8 L208.2,103.5Z" fill="#741d84" stroke="#741d84" stroke-width="0.3"/>
<path d="M213.4,103.7 L214.4,99.5 L216.0,102.5 L215.1,106.9Z" fill="#501553" stroke="#501553" stroke-width="0.3"/>
<path d="M220.3,106.7 L221.2,107.8 L222.9,110.1 L221.9,108.9Z" fill="#330a53" stroke="#330a53" stroke-width="0.3"/>
<path d="M227.1,110.5 L228.1,111.7 L229.7,113.3 L228.8,111.0Z" fill="#220642" stroke="#220642" stroke-width="0.3"/>
<path d="M234.0,112.6 L234.9,113.5 L236.6,115.4 L235.6,114.6Z" fill="#0e021f" stroke="#0e021f" stroke-width="0.3"/>
<path d="M181.8,113.7 L182.8,114.0 L184.4,110.6 L183.5,110.6Z" fill="#26064c" stroke="#26064c" stroke-width="0.3"/>
<path d="M188.7,109.4 L189.6,111.4 L191.3,113.4 L190.3,111.7Z" fill="#1f053a" stroke="#1f053a" stroke-width="0.3"/>
<path d="M195.5,112.0 L196.5,111.6 L198.1,108.8 L197.2,106.2Z" fill="#490e7e" stroke="#490e7e" stroke-width="0.3"/>
<path d="M202.4,105.3 L203.3,111.5 L205.0,108.7 L204.0,102.9Z" fill="#60158a" stroke="#60158a" stroke-width="0.3"/>
<path d="M209.2,101.8 L210.2,101.9 L211.8,101.7 L210.8,101.1Z" fill="#9e2e86" stroke="#9e2e86" stroke-width="0.3"/>
<path d="M216.0,102.5 L217.0,96.6 L218.6,100.8 L217.7,105.9Z" fill="#5e1b4d" stroke="#5e1b4d" stroke-width="0.3"/>
<path d="M222.9,110.1 L223.8,107.8 L225.5,105.9 L224.5,109.1Z" fill="#3e0d60" stroke="#3e0d60" stroke-width="0.3"/>
<path d="M229.7,113.3 L230.7,112.2 L232.3,109.0 L231.4,111.4Z" fill="#29074c" stroke="#29074c" stroke-width="0.3"/>
<path d="M236.6,115.4 L237.5,116.4 L239.2,116.0 L238.2,115.2Z" fill="#0c021e" stroke="#0c021e" stroke-width="0.3"/>
<path d="M184.4,110.6 L185.4,110.6 L187.0,108.4 L186.1,108.3Z" fill="#4e0f85" stroke="#4e0f85" stroke-width="0.3"/>
<path d="M191.3,113.4 L192.2,114.5 L193.9,114.1 L192.9,113.4Z" fill="#1a0437" stroke="#1a0437" stroke-width="0.3"/>
<path d="M198.1,108.8 L199.1,110.6 L200.7,108.9 L199.8,102.2Z" fill="#631692" stroke="#631692" stroke-width="0.3"/>
<path d="M205.0,108.7 L205.9,108.4 L207.6,104.6 L206.6,105.8Z" fill="#63168a" stroke="#63168a" stroke-width="0.3"/>
<path d="M211.8,101.7 L212.8,101.7 L214.4,99.5 L213.4,103.7Z" fill="#6d205a" stroke="#6d205a" stroke-width="0.3"/>
<path d="M218.6,100.8 L219.6,102.2 L221.2,107.8 L220.3,106.7Z" fill="#4b1355" stroke="#4b1355" stroke-width="0.3"/>
<path d="M225.5,105.9 L226.4,106.0 L228.1,111.7 L227.1,110.5Z" fill="#310a4d" stroke="#310a4d" stroke-width="0.3"/>
<path d="M232.3,109.0 L233.3,110.0 L234.9,113.5 L234.0,112.6Z" fill="#1e0537" stroke="#1e0537" stroke-width="0.3"/>
<path d="M187.0,108.4 L188.0,110.5 L189.6,111.4 L188.7,109.4Z" fill="#3c0b66" stroke="#3c0b66" stroke-width="0.3"/>
<path d="M193.9,114.1 L194.8,112.5 L196.5,111.6 L195.5,112.0Z" fill="#230645" stroke="#230645" stroke-width="0.3"/>
<path d="M200.7,108.9 L201.7,113.0 L203.3,111.5 L202.4,105.3Z" fill="#4c0f80" stroke="#4c0f80" stroke-width="0.3"/>
<path d="M207.6,104.6 L208.5,101.8 L210.2,101.9 L209.2,101.8Z" fill="#832574" stroke="#832574" stroke-width="0.3"/>
<path d="M214.4,99.5 L215.4,94.6 L217.0,96.6 L216.0,102.5Z" fill="#752f3a" stroke="#752f3a" stroke-width="0.3"/>
<path d="M221.2,107.8 L222.2,110.6 L223.8,107.8 L222.9,110.1Z" fill="#4e107e" stroke="#4e107e" stroke-width="0.3"/>
<path d="M228.1,111.7 L229.0,113.8 L230.7,112.2 L229.7,113.3Z" fill="#230645" stroke="#230645" stroke-width="0.3"/>
<path d="M234.9,113.5 L235.9,116.2 L237.5,116.4 L236.6,115.4Z" fill="#0e0221" stroke="#0e0221" stroke-width="0.3"/>
<path d="M182.8,114.0 L183.8,114.4 L185.4,110.6 L184.4,110.6Z" fill="#2d0857" stroke="#2d0857" stroke-width="0.3"/>
<path d="M189.6,111.4 L190.6,114.0 L192.2,114.5 L191.3,113.4Z" fill="#190435" stroke="#190435" stroke-width="0.3"/>
<path d="M196.5,111.6 L197.4,109.6 L199.1,110.6 L198.1,108.8Z" fill="#460d77" stroke="#460d77" stroke-width="0.3"/>
<path d="M203.3,111.5 L204.3,112.7 L205.9,108.4 L205.0,108.7Z" fill="#4a0e7f" stroke="#4a0e7f" stroke-width="0.3"/>
<path d="M210.2,101.9 L211.1,105.0 L212.8,101.7 L211.8,101.7Z" fill="#b6349d" stroke="#b6349d" stroke-width="0.3"/>
<path d="M217.0,96.6 L218.0,100.5 L219.6,102.2 L218.6,100.8Z" fill="#762a48" stroke="#762a48" stroke-width="0.3"/>
<path d="M223.8,107.8 L224.8,107.4 L226.4,106.0 L225.5,105.9Z" fill="#711a97" stroke="#711a97" stroke-width="0.3"/>
<path d="M230.7,112.2 L231.6,113.1 L233.3,110.0 L232.3,109.0Z" fill="#430d77" stroke="#430d77" stroke-width="0.3"/>
<path d="M237.5,116.4 L238.5,117.2 L240.1,116.7 L239.2,116.0Z" fill="#0c021e" stroke="#0c021e" stroke-width="0.3"/>
<path d="M185.4,110.6 L186.4,112.3 L188.0,110.5 L187.0,108.4Z" fill="#52108c" stroke="#52108c" stroke-width="0.3"/>
<path d="M192.2,114.5 L193.2,113.8 L194.8,112.5 L193.9,114.1Z" fill="#1a0436" stroke="#1a0436" stroke-width="0.3"/>
<path d="M199.1,110.6 L200.0,111.6 L201.7,113.0 L200.7,108.9Z" fill="#400c70" stroke="#400c70" stroke-width="0.3"/>
<path d="M205.9,108.4 L206.9,103.1 L208.5,101.8 L207.6,104.6Z" fill="#611a64" stroke="#611a64" stroke-width="0.3"/>
<path d="M212.8,101.7 L213.7,102.0 L215.4,94.6 L214.4,99.5Z" fill="#ab415d" stroke="#ab415d" stroke-width="0.3"/>
<path d="M219.6,102.2 L220.6,109.3 L222.2,110.6 L221.2,107.8Z" fill="#450f5f" stroke="#450f5f" stroke-width="0.3"/>
<path d="M226.4,106.0 L227.4,110.8 L229.0,113.8 L228.1,111.7Z" fill="#280846" stroke="#280846" stroke-width="0.3"/>
<path d="M233.3,110.0 L234.2,115.6 L235.9,116.2 L234.9,113.5Z" fill="#170431" stroke="#170431" stroke-width="0.3"/>
<path d="M188.0,110.5 L189.0,113.9 L190.6,114.0 L189.6,111.4Z" fill="#2c0852" stroke="#2c0852" stroke-width="0.3"/>
<path d="M194.8,112.5 L195.8,108.9 L197.4,109.6 L196.5,111.6Z" fill="#2d084d" stroke="#2d084d" stroke-width="0.3"/>
<path d="M201.7,113.0 L202.6,114.7 L204.3,112.7 L203.3,111.5Z" fill="#32095f" stroke="#32095f" stroke-width="0.3"/>
<path d="M208.5,101.8 L209.5,103.2 L211.1,105.0 L210.2,101.9Z" fill="#862773" stroke="#862773" stroke-width="0.3"/>
<path d="M215.4,94.6 L216.3,103.1 L218.0,100.5 L217.0,96.6Z" fill="#ba4c57" stroke="#ba4c57" stroke-width="0.3"/>
<path d="M222.2,110.6 L223.2,111.9 L224.8,107.4 L223.8,107.8Z" fill="#5b138d" stroke="#5b138d" stroke-width="0.3"/>
<path d="M229.0,113.8 L230.0,114.9 L231.6,113.1 L230.7,112.2Z" fill="#2b0755" stroke="#2b0755" stroke-width="0.3"/>
<path d="M235.9,116.2 L236.8,117.7 L238.5,117.2 L237.5,116.4Z" fill="#0d021f" stroke="#0d021f" stroke-width="0.3"/>
<path d="M183.8,114.4 L184.7,115.6 L186.4,112.3 L185.4,110.6Z" fill="#2f085b" stroke="#2f085b" stroke-width="0.3"/>
<path d="M190.6,114.0 L191.6,115.3 L193.2,113.8 L192.2,114.5Z" fill="#1e053f" stroke="#1e053f" stroke-width="0.3"/>
<path d="M197.4,109.6 L198.4,108.1 L200.0,111.6 L199.1,110.6Z" fill="#2f0a4c" stroke="#2f0a4c" stroke-width="0.3"/>
<path d="M204.3,112.7 L205.2,109.9 L206.9,103.1 L205.9,108.4Z" fill="#4e1170" stroke="#4e1170" stroke-width="0.3"/>
<path d="M211.1,105.0 L212.1,109.8 L213.7,102.0 L212.8,101.7Z" fill="#962996" stroke="#962996" stroke-width="0.3"/>
<path d="M218.0,100.5 L218.9,109.9 L220.6,109.3 L219.6,102.2Z" fill="#6d1c79" stroke="#6d1c79" stroke-width="0.3"/>
<path d="M224.8,107.4 L225.8,109.5 L227.4,110.8 L226.4,106.0Z" fill="#5f1587" stroke="#5f1587" stroke-width="0.3"/>
<path d="M231.6,113.1 L232.6,116.6 L234.2,115.6 L233.3,110.0Z" fill="#26064c" stroke="#26064c" stroke-width="0.3"/>
<path d="M238.5,117.2 L239.4,118.0 L241.1,117.5 L240.1,116.7Z" fill="#0b011d" stroke="#0b011d" stroke-width="0.3"/>
<path d="M186.4,112.3 L187.3,115.2 L189.0,113.9 L188.0,110.5Z" fill="#350962" stroke="#350962" stroke-width="0.3"/>
<path d="M193.2,113.8 L194.2,111.1 L195.8,108.9 L194.8,112.5Z" fill="#2f0952" stroke="#2f0952" stroke-width="0.3"/>
<path d="M200.0,111.6 L201.0,112.5 L202.6,114.7 L201.7,113.0Z" fill="#220640" stroke="#220640" stroke-width="0.3"/>
<path d="M206.9,103.1 L207.8,101.9 L209.5,103.2 L208.5,101.8Z" fill="#982f73" stroke="#982f73" stroke-width="0.3"/>
<path d="M213.7,102.0 L214.7,109.6 L216.3,103.1 L215.4,94.6Z" fill="#ab367e" stroke="#ab367e" stroke-width="0.3"/>
<path d="M220.6,109.3 L221.5,113.9 L223.2,111.9 L222.2,110.6Z" fill="#450d77" stroke="#450d77" stroke-width="0.3"/>
<path d="M227.4,110.8 L228.4,112.6 L230.0,114.9 L229.0,113.8Z" fill="#1e0538" stroke="#1e0538" stroke-width="0.3"/>
<path d="M234.2,115.6 L235.2,118.1 L236.8,117.7 L235.9,116.2Z" fill="#0f0224" stroke="#0f0224" stroke-width="0.3"/>
<path d="M189.0,113.9 L189.9,116.6 L191.6,115.3 L190.6,114.0Z" fill="#200544" stroke="#200544" stroke-width="0.3"/>
<path d="M195.8,108.9 L196.8,106.4 L198.4,108.1 L197.4,109.6Z" fill="#3d0e54" stroke="#3d0e54" stroke-width="0.3"/>
<path d="M202.6,114.7 L203.6,114.5 L205.2,109.9 L204.3,112.7Z" fill="#300957" stroke="#300957" stroke-width="0.3"/>
<path d="M209.5,103.2 L210.4,109.9 L212.1,109.8 L211.1,105.0Z" fill="#65187e" stroke="#65187e" stroke-width="0.3"/>
<path d="M216.3,103.1 L217.3,113.2 L218.9,109.9 L218.0,100.5Z" fill="#721c89" stroke="#721c89" stroke-width="0.3"/>
<path d="M223.2,111.9 L224.1,111.2 L225.8,109.5 L224.8,107.4Z" fill="#601493" stroke="#601493" stroke-width="0.3"/>
<path d="M230.0,114.9 L231.0,116.6 L232.6,116.6 L231.6,113.1Z" fill="#1f0541" stroke="#1f0541" stroke-width="0.3"/>
<path d="M236.8,117.7 L237.8,118.5 L239.4,118.0 L238.5,117.2Z" fill="#0c021e" stroke="#0c021e" stroke-width="0.3"/>
<path d="M184.7,115.6 L185.7,117.3 L187.3,115.2 L186.4,112.3Z" fill="#230648" stroke="#230648" stroke-width="0.3"/>
<path d="M191.6,115.3 L192.5,114.6 L194.2,111.1 L193.2,113.8Z" fill="#28074c" stroke="#28074c" stroke-width="0.3"/>
<path d="M198.4,108.1 L199.4,108.7 L201.0,112.5 L200.0,111.6Z" fill="#330a4e" stroke="#330a4e" stroke-width="0.3"/>
<path d="M205.2,109.9 L206.2,108.8 L207.8,101.9 L206.9,103.1Z" fill="#7f2187" stroke="#7f2187" stroke-width="0.3"/>
<path d="M212.1,109.8 L213.0,114.3 L214.7,109.6 L213.7,102.0Z" fill="#681791" stroke="#681791" stroke-width="0.3"/>
<path d="M218.9,109.9 L219.9,115.7 L221.5,113.9 L220.6,109.3Z" fill="#400c6f" stroke="#400c6f" stroke-width="0.3"/>
<path d="M225.8,109.5 L226.7,110.1 L228.4,112.6 L227.4,110.8Z" fill="#380b59" stroke="#380b59" stroke-width="0.3"/>
<path d="M232.6,116.6 L233.6,118.5 L235.2,118.1 L234.2,115.6Z" fill="#13032b" stroke="#13032b" stroke-width="0.3"/>
<path d="M239.4,118.0 L240.4,118.7 L242.0,118.2 L241.1,117.5Z" fill="#0b011d" stroke="#0b011d" stroke-width="0.3"/>
<path d="M187.3,115.2 L188.3,117.7 L189.9,116.6 L189.0,113.9Z" fill="#1e0540" stroke="#1e0540" stroke-width="0.3"/>
<path d="M194.2,111.1 L195.1,109.0 L196.8,106.4 L195.8,108.9Z" fill="#551374" stroke="#551374" stroke-width="0.3"/>
<path d="M201.0,112.5 L202.0,111.1 L203.6,114.5 L202.6,114.7Z" fill="#20063a" stroke="#20063a" stroke-width="0.3"/>
<path d="M207.8,101.9 L208.8,108.8 L210.4,109.9 L209.5,103.2Z" fill="#701e74" stroke="#701e74" stroke-width="0.3"/>
<path d="M214.7,109.6 L215.6,116.2 L217.3,113.2 L216.3,103.1Z" fill="#551283" stroke="#551283" stroke-width="0.3"/>
<path d="M221.5,113.9 L222.5,114.3 L224.1,111.2 L223.2,111.9Z" fill="#3f0c70" stroke="#3f0c70" stroke-width="0.3"/>
<path d="M228.4,112.6 L229.3,114.7 L231.0,116.6 L230.0,114.9Z" fill="#1a0434" stroke="#1a0434" stroke-width="0.3"/>
<path d="M235.2,118.1 L236.2,119.0 L237.8,118.5 L236.8,117.7Z" fill="#0c021e" stroke="#0c021e" stroke-width="0.3"/>
<path d="M189.9,116.6 L190.9,117.2 L192.5,114.6 L191.6,115.3Z" fill="#1e053f" stroke="#1e053f" stroke-width="0.3"/>
<path d="M196.8,106.4 L197.7,107.9 L199.4,108.7 L198.4,108.1Z" fill="#5b1673" stroke="#5b1673" stroke-width="0.3"/>
<path d="M203.6,114.5 L204.6,114.4 L206.2,108.8 L205.2,109.9Z" fill="#490e7c" stroke="#490e7c" stroke-width="0.3"/>
<path d="M210.4,109.9 L211.4,114.2 L213.0,114.3 L212.1,109.8Z" fill="#440d73" stroke="#440d73" stroke-width="0.3"/>
<path d="M217.3,113.2 L218.2,117.7 L219.9,115.7 L218.9,109.9Z" fill="#31095b" stroke="#31095b" stroke-width="0.3"/>
<path d="M224.1,111.2 L225.1,110.7 L226.7,110.1 L225.8,109.5Z" fill="#5f158d" stroke="#5f158d" stroke-width="0.3"/>
<path d="M231.0,116.6 L231.9,118.5 L233.6,118.5 L232.6,116.6Z" fill="#120329" stroke="#120329" stroke-width="0.3"/>
<path d="M237.8,118.5 L238.8,119.2 L240.4,118.7 L239.4,118.0Z" fill="#0b011d" stroke="#0b011d" stroke-width="0.3"/>
<path d="M185.7,117.3 L186.6,118.8 L188.3,117.7 L187.3,115.2Z" fill="#180435" stroke="#180435" stroke-width="0.3"/>
<path d="M192.5,114.6 L193.5,113.2 L195.1,109.0 L194.2,111.1Z" fill="#450d73" stroke="#450d73" stroke-width="0.3"/>
<path d="M199.4,108.7 L200.3,107.7 L202.0,111.1 L201.0,112.5Z" fill="#380c51" stroke="#380c51" stroke-width="0.3"/>
<path d="M206.2,108.8 L207.2,111.8 L208.8,108.8 L207.8,101.9Z" fill="#7f1f9c" stroke="#7f1f9c" stroke-width="0.3"/>
<path d="M213.0,114.3 L214.0,116.9 L215.6,116.2 L214.7,109.6Z" fill="#33095f" stroke="#33095f" stroke-width="0.3"/>
<path d="M219.9,115.7 L220.8,117.3 L222.5,114.3 L221.5,113.9Z" fill="#2a0754" stroke="#2a0754" stroke-width="0.3"/>
<path d="M226.7,110.1 L227.7,112.8 L229.3,114.7 L228.4,112.6Z" fill="#320955" stroke="#320955" stroke-width="0.3"/>
<path d="M233.6,118.5 L234.5,119.4 L236.2,119.0 L235.2,118.1Z" fill="#0c021f" stroke="#0c021f" stroke-width="0.3"/>
<path d="M240.4,118.7 L241.4,119.5 L243.0,119.0 L242.0,118.2Z" fill="#0b011d" stroke="#0b011d" stroke-width="0.3"/>
<path d="M188.3,117.7 L189.2,118.6 L190.9,117.2 L189.9,116.6Z" fill="#180434" stroke="#180434" stroke-width="0.3"/>
<path d="M195.1,109.0 L196.1,110.4 L197.7,107.9 L196.8,106.4Z" fill="#8620ac" stroke="#8620ac" stroke-width="0.3"/>
<path d="M202.0,111.1 L202.9,111.0 L204.6,114.4 L203.6,114.5Z" fill="#290846" stroke="#290846" stroke-width="0.3"/>
<path d="M208.8,108.8 L209.8,112.7 L211.4,114.2 L210.4,109.9Z" fill="#460f6c" stroke="#460f6c" stroke-width="0.3"/>
<path d="M215.6,116.2 L216.6,118.6 L218.2,117.7 L217.3,113.2Z" fill="#1f0542" stroke="#1f0542" stroke-width="0.3"/>
<path d="M222.5,114.3 L223.4,114.2 L225.1,110.7 L224.1,111.2Z" fill="#4b0f7f" stroke="#4b0f7f" stroke-width="0.3"/>
<path d="M229.3,114.7 L230.3,117.9 L231.9,118.5 L231.0,116.6Z" fill="#15032d" stroke="#15032d" stroke-width="0.3"/>
<path d="M236.2,119.0 L237.1,119.7 L238.8,119.2 L237.8,118.5Z" fill="#0b011d" stroke="#0b011d" stroke-width="0.3"/>
<path d="M190.9,117.2 L191.8,116.1 L193.5,113.2 L192.5,114.6Z" fill="#27074b" stroke="#27074b" stroke-width="0.3"/>
<path d="M197.7,107.9 L198.7,111.2 L200.3,107.7 L199.4,108.7Z" fill="#841fab" stroke="#841fab" stroke-width="0.3"/>
<path d="M204.6,114.4 L205.5,115.1 L207.2,111.8 L206.2,108.8Z" fill="#53108b" stroke="#53108b" stroke-width="0.3"/>
<path d="M211.4,114.2 L212.4,115.3 L214.0,116.9 L213.0,114.3Z" fill="#250647" stroke="#250647" stroke-width="0.3"/>
<path d="M218.2,117.7 L219.2,119.1 L220.8,117.3 L219.9,115.7Z" fill="#1c043c" stroke="#1c043c" stroke-width="0.3"/>
<path d="M225.1,110.7 L226.0,113.3 L227.7,112.8 L226.7,110.1Z" fill="#59138b" stroke="#59138b" stroke-width="0.3"/>
<path d="M231.9,118.5 L232.9,119.8 L234.5,119.4 L233.6,118.5Z" fill="#0d0221" stroke="#0d0221" stroke-width="0.3"/>
<path d="M238.8,119.2 L239.7,120.0 L241.4,119.5 L240.4,118.7Z" fill="#0b011d" stroke="#0b011d" stroke-width="0.3"/>
<path d="M186.6,118.8 L187.6,119.7 L189.2,118.6 L188.3,117.7Z" fill="#12032a" stroke="#12032a" stroke-width="0.3"/>
<path d="M193.5,113.2 L194.4,113.2 L196.1,110.4 L195.1,109.0Z" fill="#621593" stroke="#621593" stroke-width="0.3"/>
<path d="M200.3,107.7 L201.3,108.7 L202.9,111.0 L202.0,111.1Z" fill="#3f0f55" stroke="#3f0f55" stroke-width="0.3"/>
<path d="M207.2,111.8 L208.1,112.5 L209.8,112.7 L208.8,108.8Z" fill="#67169a" stroke="#67169a" stroke-width="0.3"/>
<path d="M214.0,116.9 L215.0,118.1 L216.6,118.6 L215.6,116.2Z" fill="#190437" stroke="#190437" stroke-width="0.3"/>
<path d="M220.8,117.3 L221.8,117.9 L223.4,114.2 L222.5,114.3Z" fill="#290750" stroke="#290750" stroke-width="0.3"/>
<path d="M227.7,112.8 L228.6,117.4 L230.3,117.9 L229.3,114.7Z" fill="#220642" stroke="#220642" stroke-width="0.3"/>
<path d="M234.5,119.4 L235.5,120.2 L237.1,119.7 L236.2,119.0Z" fill="#0c021e" stroke="#0c021e" stroke-width="0.3"/>
<path d="M189.2,118.6 L190.2,118.0 L191.8,116.1 L190.9,117.2Z" fill="#180434" stroke="#180434" stroke-width="0.3"/>
<path d="M196.1,110.4 L197.0,114.6 L198.7,111.2 L197.7,107.9Z" fill="#6a1797" stroke="#6a1797" stroke-width="0.3"/>
<path d="M202.9,111.0 L203.9,115.4 L205.5,115.1 L204.6,114.4Z" fill="#320957" stroke="#320957" stroke-width="0.3"/>
<path d="M209.8,112.7 L210.7,112.7 L212.4,115.3 L211.4,114.2Z" fill="#2b084a" stroke="#2b084a" stroke-width="0.3"/>
<path d="M216.6,118.6 L217.6,119.3 L219.2,119.1 L218.2,117.7Z" fill="#14032e" stroke="#14032e" stroke-width="0.3"/>
<path d="M223.4,114.2 L224.4,116.2 L226.0,113.3 L225.1,110.7Z" fill="#4f0f87" stroke="#4f0f87" stroke-width="0.3"/>
<path d="M230.3,117.9 L231.2,120.0 L232.9,119.8 L231.9,118.5Z" fill="#100225" stroke="#100225" stroke-width="0.3"/>
<path d="M237.1,119.7 L238.1,120.5 L239.7,120.0 L238.8,119.2Z" fill="#0b011d" stroke="#0b011d" stroke-width="0.3"/>
<path d="M191.8,116.1 L192.8,114.8 L194.4,113.2 L193.5,113.2Z" fill="#3e0c6d" stroke="#3e0c6d" stroke-width="0.3"/>
<path d="M198.7,111.2 L199.6,114.7 L201.3,108.7 L200.3,107.7Z" fill="#711a9b" stroke="#711a9b" stroke-width="0.3"/>
<path d="M205.5,115.1 L206.5,114.1 L208.1,112.5 L207.2,111.8Z" fill="#4e0f84" stroke="#4e0f84" stroke-width="0.3"/>
<path d="M212.4,115.3 L213.3,116.1 L215.0,118.1 L214.0,116.9Z" fill="#180431" stroke="#180431" stroke-width="0.3"/>
<path d="M219.2,119.1 L220.2,119.6 L221.8,117.9 L220.8,117.3Z" fill="#180435" stroke="#180435" stroke-width="0.3"/>
<path d="M226.0,113.3 L227.0,117.9 L228.6,117.4 L227.7,112.8Z" fill="#32095a" stroke="#32095a" stroke-width="0.3"/>
<path d="M232.9,119.8 L233.8,120.7 L235.5,120.2 L234.5,119.4Z" fill="#0c021e" stroke="#0c021e" stroke-width="0.3"/>
<path d="M187.6,119.7 L188.6,120.0 L190.2,118.0 L189.2,118.6Z" fill="#13032b" stroke="#13032b" stroke-width="0.3"/>
<path d="M194.4,113.2 L195.4,115.7 L197.0,114.6 L196.1,110.4Z" fill="#53108b" stroke="#53108b" stroke-width="0.3"/>
<path d="M201.3,108.7 L202.2,115.9 L203.9,115.4 L202.9,111.0Z" fill="#460f6e" stroke="#460f6e" stroke-width="0.3"/>
<path d="M208.1,112.5 L209.1,111.3 L210.7,112.7 L209.8,112.7Z" fill="#3f0d5f" stroke="#3f0d5f" stroke-width="0.3"/>
<path d="M215.0,118.1 L215.9,118.4 L217.6,119.3 L216.6,118.6Z" fill="#120327" stroke="#120327" stroke-width="0.3"/>
<path d="M221.8,117.9 L222.8,119.1 L224.4,116.2 L223.4,114.2Z" fill="#290751" stroke="#290751" stroke-width="0.3"/>
<path d="M228.6,117.4 L229.6,120.2 L231.2,120.0 L230.3,117.9Z" fill="#14032d" stroke="#14032d" stroke-width="0.3"/>
<path d="M235.5,120.2 L236.4,121.0 L238.1,120.5 L237.1,119.7Z" fill="#0b011d" stroke="#0b011d" stroke-width="0.3"/>
<path d="M190.2,118.0 L191.2,116.9 L192.8,114.8 L191.8,116.1Z" fill="#27074b" stroke="#27074b" stroke-width="0.3"/>
<path d="M197.0,114.6 L198.0,118.6 L199.6,114.7 L198.7,111.2Z" fill="#450d79" stroke="#450d79" stroke-width="0.3"/>
<path d="M203.9,115.4 L204.8,116.5 L206.5,114.1 L205.5,115.1Z" fill="#3d0b6c" stroke="#3d0b6c" stroke-width="0.3"/>
<path d="M210.7,112.7 L211.7,113.5 L213.3,116.1 L212.4,115.3Z" fill="#290846" stroke="#290846" stroke-width="0.3"/>
<path d="M217.6,119.3 L218.5,119.1 L220.2,119.6 L219.2,119.1Z" fill="#110226" stroke="#110226" stroke-width="0.3"/>
<path d="M224.4,116.2 L225.4,119.4 L227.0,117.9 L226.0,113.3Z" fill="#2c0856" stroke="#2c0856" stroke-width="0.3"/>
<path d="M231.2,120.0 L232.2,121.2 L233.8,120.7 L232.9,119.8Z" fill="#0d0220" stroke="#0d0220" stroke-width="0.3"/>
<path d="M192.8,114.8 L193.8,116.0 L195.4,115.7 L194.4,113.2Z" fill="#490e7f" stroke="#490e7f" stroke-width="0.3"/>
<path d="M199.6,114.7 L200.6,119.0 L202.2,115.9 L201.3,108.7Z" fill="#480e7b" stroke="#480e7b" stroke-width="0.3"/>
<path d="M206.5,114.1 L207.4,112.6 L209.1,111.3 L208.1,112.5Z" fill="#4f1175" stroke="#4f1175" stroke-width="0.3"/>
<path d="M213.3,116.1 L214.3,116.8 L215.9,118.4 L215.0,118.1Z" fill="#17042f" stroke="#17042f" stroke-width="0.3"/>
<path d="M220.2,119.6 L221.1,120.3 L222.8,119.1 L221.8,117.9Z" fill="#190437" stroke="#190437" stroke-width="0.3"/>
<path d="M227.0,117.9 L228.0,120.7 L229.6,120.2 L228.6,117.4Z" fill="#180434" stroke="#180434" stroke-width="0.3"/>
<path d="M233.8,120.7 L234.8,121.5 L236.4,121.0 L235.5,120.2Z" fill="#0c021d" stroke="#0c021d" stroke-width="0.3"/>
<path d="M188.6,120.0 L189.5,120.0 L191.2,116.9 L190.2,118.0Z" fill="#1a0438" stroke="#1a0438" stroke-width="0.3"/>
<path d="M195.4,115.7 L196.4,119.3 L198.0,118.6 L197.0,114.6Z" fill="#2b0753" stroke="#2b0753" stroke-width="0.3"/>
<path d="M202.2,115.9 L203.2,118.8 L204.8,116.5 L203.9,115.4Z" fill="#360a65" stroke="#360a65" stroke-width="0.3"/>
<path d="M209.1,111.3 L210.0,112.1 L211.7,113.5 L210.7,112.7Z" fill="#450f64" stroke="#450f64" stroke-width="0.3"/>
<path d="M215.9,118.4 L216.9,117.0 L218.5,119.1 L217.6,119.3Z" fill="#110324" stroke="#110324" stroke-width="0.3"/>
<path d="M222.8,119.1 L223.7,120.9 L225.4,119.4 L224.4,116.2Z" fill="#1d053f" stroke="#1d053f" stroke-width="0.3"/>
<path d="M229.6,120.2 L230.6,121.6 L232.2,121.2 L231.2,120.0Z" fill="#0e0222" stroke="#0e0222" stroke-width="0.3"/>
<path d="M191.2,116.9 L192.1,117.7 L193.8,116.0 L192.8,114.8Z" fill="#3e0b6f" stroke="#3e0b6f" stroke-width="0.3"/>
<path d="M198.0,118.6 L199.0,120.9 L200.6,119.0 L199.6,114.7Z" fill="#220548" stroke="#220548" stroke-width="0.3"/>
<path d="M204.8,116.5 L205.8,115.7 L207.4,112.6 L206.5,114.1Z" fill="#460e76" stroke="#460e76" stroke-width="0.3"/>
<path d="M211.7,113.5 L212.6,115.6 L214.3,116.8 L213.3,116.1Z" fill="#2c084d" stroke="#2c084d" stroke-width="0.3"/>
<path d="M218.5,119.1 L219.5,118.9 L221.1,120.3 L220.2,119.6Z" fill="#110326" stroke="#110326" stroke-width="0.3"/>
<path d="M225.4,119.4 L226.3,121.5 L228.0,120.7 L227.0,117.9Z" fill="#170434" stroke="#170434" stroke-width="0.3"/>
<path d="M232.2,121.2 L233.2,122.0 L234.8,121.5 L233.8,120.7Z" fill="#0c021e" stroke="#0c021e" stroke-width="0.3"/>
<path d="M193.8,116.0 L194.7,119.4 L196.4,119.3 L195.4,115.7Z" fill="#28074e" stroke="#28074e" stroke-width="0.3"/>
<path d="M200.6,119.0 L201.6,120.3 L203.2,118.8 L202.2,115.9Z" fill="#24064b" stroke="#24064b" stroke-width="0.3"/>
<path d="M207.4,112.6 L208.4,113.3 L210.0,112.1 L209.1,111.3Z" fill="#741aa0" stroke="#741aa0" stroke-width="0.3"/>
<path d="M214.3,116.8 L215.2,115.9 L216.9,117.0 L215.9,118.4Z" fill="#1e0537" stroke="#1e0537" stroke-width="0.3"/>
<path d="M221.1,120.3 L222.1,121.5 L223.7,120.9 L222.8,119.1Z" fill="#15032f" stroke="#15032f" stroke-width="0.3"/>
<path d="M228.0,120.7 L228.9,122.1 L230.6,121.6 L229.6,120.2Z" fill="#0f0224" stroke="#0f0224" stroke-width="0.3"/>
<path d="M189.5,120.0 L190.5,120.8 L192.1,117.7 L191.2,116.9Z" fill="#220546" stroke="#220546" stroke-width="0.3"/>
<path d="M196.4,119.3 L197.3,121.5 L199.0,120.9 L198.0,118.6Z" fill="#180435" stroke="#180435" stroke-width="0.3"/>
<path d="M203.2,118.8 L204.2,118.5 L205.8,115.7 L204.8,116.5Z" fill="#2f0858" stroke="#2f0858" stroke-width="0.3"/>
<path d="M210.0,112.1 L211.0,115.3 L212.6,115.6 L211.7,113.5Z" fill="#4a1073" stroke="#4a1073" stroke-width="0.3"/>
<path d="M216.9,117.0 L217.8,115.8 L219.5,118.9 L218.5,119.1Z" fill="#190430" stroke="#190430" stroke-width="0.3"/>
<path d="M223.7,120.9 L224.7,122.3 L226.3,121.5 L225.4,119.4Z" fill="#13032c" stroke="#13032c" stroke-width="0.3"/>
<path d="M230.6,121.6 L231.5,122.5 L233.2,122.0 L232.2,121.2Z" fill="#0c021e" stroke="#0c021e" stroke-width="0.3"/>
<path d="M192.1,117.7 L193.1,120.5 L194.7,119.4 L193.8,116.0Z" fill="#290751" stroke="#290751" stroke-width="0.3"/>
<path d="M199.0,120.9 L199.9,121.1 L201.6,120.3 L200.6,119.0Z" fill="#1a0438" stroke="#1a0438" stroke-width="0.3"/>
<path d="M205.8,115.7 L206.8,116.3 L208.4,113.3 L207.4,112.6Z" fill="#5d1391" stroke="#5d1391" stroke-width="0.3"/>
<path d="M212.6,115.6 L213.6,117.0 L215.2,115.9 L214.3,116.8Z" fill="#390b64" stroke="#390b64" stroke-width="0.3"/>
<path d="M219.5,118.9 L220.4,120.6 L222.1,121.5 L221.1,120.3Z" fill="#120327" stroke="#120327" stroke-width="0.3"/>
<path d="M226.3,121.5 L227.3,122.7 L228.9,122.1 L228.0,120.7Z" fill="#0f0224" stroke="#0f0224" stroke-width="0.3"/>
<path d="M194.7,119.4 L195.7,122.0 L197.3,121.5 L196.4,119.3Z" fill="#170433" stroke="#170433" stroke-width="0.3"/>
<path d="M201.6,120.3 L202.5,119.4 L204.2,118.5 L203.2,118.8Z" fill="#1e053e" stroke="#1e053e" stroke-width="0.3"/>
<path d="M208.4,113.3 L209.4,116.4 L211.0,115.3 L210.0,112.1Z" fill="#611591" stroke="#611591" stroke-width="0.3"/>
<path d="M215.2,115.9 L216.2,114.9 L217.8,115.8 L216.9,117.0Z" fill="#2e094e" stroke="#2e094e" stroke-width="0.3"/>
<path d="M222.1,121.5 L223.0,122.7 L224.7,122.3 L223.7,120.9Z" fill="#0f0225" stroke="#0f0225" stroke-width="0.3"/>
<path d="M228.9,122.1 L229.9,123.0 L231.5,122.5 L230.6,121.6Z" fill="#0c021e" stroke="#0c021e" stroke-width="0.3"/>
<path d="M190.5,120.8 L191.4,122.3 L193.1,120.5 L192.1,117.7Z" fill="#1e053f" stroke="#1e053f" stroke-width="0.3"/>
<path d="M197.3,121.5 L198.3,121.9 L199.9,121.1 L199.0,120.9Z" fill="#14032c" stroke="#14032c" stroke-width="0.3"/>
<path d="M204.2,118.5 L205.1,118.4 L206.8,116.3 L205.8,115.7Z" fill="#400c71" stroke="#400c71" stroke-width="0.3"/>
<path d="M211.0,115.3 L212.0,118.7 L213.6,117.0 L212.6,115.6Z" fill="#480e7c" stroke="#480e7c" stroke-width="0.3"/>
<path d="M217.8,115.8 L218.8,118.6 L220.4,120.6 L219.5,118.9Z" fill="#1d0536" stroke="#1d0536" stroke-width="0.3"/>
<path d="M224.7,122.3 L225.6,123.2 L227.3,122.7 L226.3,121.5Z" fill="#0d0221" stroke="#0d0221" stroke-width="0.3"/>
<path d="M193.1,120.5 L194.0,122.8 L195.7,122.0 L194.7,119.4Z" fill="#180434" stroke="#180434" stroke-width="0.3"/>
<path d="M199.9,121.1 L200.9,119.7 L202.5,119.4 L201.6,120.3Z" fill="#170431" stroke="#170431" stroke-width="0.3"/>
<path d="M206.8,116.3 L207.7,118.6 L209.4,116.4 L208.4,113.3Z" fill="#55118f" stroke="#55118f" stroke-width="0.3"/>
<path d="M213.6,117.0 L214.6,117.8 L216.2,114.9 L215.2,115.9Z" fill="#4c0f82" stroke="#4c0f82" stroke-width="0.3"/>
<path d="M220.4,120.6 L221.4,122.7 L223.0,122.7 L222.1,121.5Z" fill="#100224" stroke="#100224" stroke-width="0.3"/>
<path d="M227.3,122.7 L228.2,123.5 L229.9,123.0 L228.9,122.1Z" fill="#0c021e" stroke="#0c021e" stroke-width="0.3"/>
<path d="M195.7,122.0 L196.6,123.0 L198.3,121.9 L197.3,121.5Z" fill="#13032b" stroke="#13032b" stroke-width="0.3"/>
<path d="M202.5,119.4 L203.5,118.3 L205.1,118.4 L204.2,118.5Z" fill="#29074d" stroke="#29074d" stroke-width="0.3"/>
<path d="M209.4,116.4 L210.3,120.2 L212.0,118.7 L211.0,115.3Z" fill="#400c70" stroke="#400c70" stroke-width="0.3"/>
<path d="M216.2,114.9 L217.2,118.2 L218.8,118.6 L217.8,115.8Z" fill="#3e0c6a" stroke="#3e0c6a" stroke-width="0.3"/>
<path d="M223.0,122.7 L224.0,123.7 L225.6,123.2 L224.7,122.3Z" fill="#0d021f" stroke="#0d021f" stroke-width="0.3"/>
<path d="M191.4,122.3 L192.4,123.7 L194.0,122.8 L193.1,120.5Z" fill="#14032e" stroke="#14032e" stroke-width="0.3"/>
<path d="M198.3,121.9 L199.2,120.8 L200.9,119.7 L199.9,121.1Z" fill="#170330" stroke="#170330" stroke-width="0.3"/>
<path d="M205.1,118.4 L206.1,119.7 L207.7,118.6 L206.8,116.3Z" fill="#410c74" stroke="#410c74" stroke-width="0.3"/>
<path d="M212.0,118.7 L212.9,121.1 L214.6,117.8 L213.6,117.0Z" fill="#3b0b6b" stroke="#3b0b6b" stroke-width="0.3"/>
<path d="M218.8,118.6 L219.8,122.3 L221.4,122.7 L220.4,120.6Z" fill="#16032e" stroke="#16032e" stroke-width="0.3"/>
<path d="M225.6,123.2 L226.6,124.0 L228.2,123.5 L227.3,122.7Z" fill="#0c021e" stroke="#0c021e" stroke-width="0.3"/>
<path d="M194.0,122.8 L195.0,123.9 L196.6,123.0 L195.7,122.0Z" fill="#110227" stroke="#110227" stroke-width="0.3"/>
<path d="M200.9,119.7 L201.8,117.8 L203.5,118.3 L202.5,119.4Z" fill="#240642" stroke="#240642" stroke-width="0.3"/>
<path d="M207.7,118.6 L208.7,121.5 L210.3,120.2 L209.4,116.4Z" fill="#340960" stroke="#340960" stroke-width="0.3"/>
<path d="M214.6,117.8 L215.5,120.7 L217.2,118.2 L216.2,114.9Z" fill="#460d7b" stroke="#460d7b" stroke-width="0.3"/>
<path d="M221.4,122.7 L222.4,124.1 L224.0,123.7 L223.0,122.7Z" fill="#0d0220" stroke="#0d0220" stroke-width="0.3"/>
<path d="M196.6,123.0 L197.6,123.0 L199.2,120.8 L198.3,121.9Z" fill="#15032f" stroke="#15032f" stroke-width="0.3"/>
<path d="M203.5,118.3 L204.4,118.9 L206.1,119.7 L205.1,118.4Z" fill="#310958" stroke="#310958" stroke-width="0.3"/>
<path d="M210.3,120.2 L211.3,123.0 L212.9,121.1 L212.0,118.7Z" fill="#24064b" stroke="#24064b" stroke-width="0.3"/>
<path d="M217.2,118.2 L218.1,122.5 L219.8,122.3 L218.8,118.6Z" fill="#210543" stroke="#210543" stroke-width="0.3"/>
<path d="M224.0,123.7 L225.0,124.5 L226.6,124.0 L225.6,123.2Z" fill="#0c021e" stroke="#0c021e" stroke-width="0.3"/>
<path d="M192.4,123.7 L193.4,124.6 L195.0,123.9 L194.0,122.8Z" fill="#0e0223" stroke="#0e0223" stroke-width="0.3"/>
<path d="M199.2,120.8 L200.2,119.3 L201.8,117.8 L200.9,119.7Z" fill="#29074b" stroke="#29074b" stroke-width="0.3"/>
<path d="M206.1,119.7 L207.0,122.0 L208.7,121.5 L207.7,118.6Z" fill="#290750" stroke="#290750" stroke-width="0.3"/>
<path d="M212.9,121.1 L213.9,123.3 L215.5,120.7 L214.6,117.8Z" fill="#27064f" stroke="#27064f" stroke-width="0.3"/>
<path d="M219.8,122.3 L220.7,124.4 L222.4,124.1 L221.4,122.7Z" fill="#100225" stroke="#100225" stroke-width="0.3"/>
<path d="M195.0,123.9 L196.0,124.5 L197.6,123.0 L196.6,123.0Z" fill="#100227" stroke="#100227" stroke-width="0.3"/>
<path d="M201.8,117.8 L202.8,118.0 L204.4,118.9 L203.5,118.3Z" fill="#360a5d" stroke="#360a5d" stroke-width="0.3"/>
<path d="M208.7,121.5 L209.6,123.9 L211.3,123.0 L210.3,120.2Z" fill="#1c043d" stroke="#1c043d" stroke-width="0.3"/>
<path d="M215.5,120.7 L216.5,123.7 L218.1,122.5 L217.2,118.2Z" fill="#220547" stroke="#220547" stroke-width="0.3"/>
<path d="M222.4,124.1 L223.3,125.0 L225.0,124.5 L224.0,123.7Z" fill="#0c021e" stroke="#0c021e" stroke-width="0.3"/>
<path d="M197.6,123.0 L198.6,122.8 L200.2,119.3 L199.2,120.8Z" fill="#1f0540" stroke="#1f0540" stroke-width="0.3"/>
<path d="M204.4,118.9 L205.4,121.3 L207.0,122.0 L206.1,119.7Z" fill="#260749" stroke="#260749" stroke-width="0.3"/>
<path d="M211.3,123.0 L212.2,124.8 L213.9,123.3 L212.9,121.1Z" fill="#190436" stroke="#190436" stroke-width="0.3"/>
<path d="M218.1,122.5 L219.1,124.9 L220.7,124.4 L219.8,122.3Z" fill="#13032b" stroke="#13032b" stroke-width="0.3"/>
<path d="M193.4,124.6 L194.3,125.4 L196.0,124.5 L195.0,123.9Z" fill="#0d0220" stroke="#0d0220" stroke-width="0.3"/>
<path d="M200.2,119.3 L201.2,119.5 L202.8,118.0 L201.8,117.8Z" fill="#4a0e7f" stroke="#4a0e7f" stroke-width="0.3"/>
<path d="M207.0,122.0 L208.0,124.4 L209.6,123.9 L208.7,121.5Z" fill="#190436" stroke="#190436" stroke-width="0.3"/>
<path d="M213.9,123.3 L214.8,125.0 L216.5,123.7 L215.5,120.7Z" fill="#190437" stroke="#190437" stroke-width="0.3"/>
<path d="M220.7,124.4 L221.7,125.5 L223.3,125.0 L222.4,124.1Z" fill="#0c021f" stroke="#0c021f" stroke-width="0.3"/>
<path d="M196.0,124.5 L196.9,125.0 L198.6,122.8 L197.6,123.0Z" fill="#14032e" stroke="#14032e" stroke-width="0.3"/>
<path d="M202.8,118.0 L203.8,120.7 L205.4,121.3 L204.4,118.9Z" fill="#340a5c" stroke="#340a5c" stroke-width="0.3"/>
<path d="M209.6,123.9 L210.6,125.5 L212.2,124.8 L211.3,123.0Z" fill="#12032b" stroke="#12032b" stroke-width="0.3"/>
<path d="M216.5,123.7 L217.4,125.5 L219.1,124.9 L218.1,122.5Z" fill="#13032c" stroke="#13032c" stroke-width="0.3"/>
<path d="M198.6,122.8 L199.5,123.3 L201.2,119.5 L200.2,119.3Z" fill="#2e0858" stroke="#2e0858" stroke-width="0.3"/>
<path d="M205.4,121.3 L206.4,124.3 L208.0,124.4 L207.0,122.0Z" fill="#190435" stroke="#190435" stroke-width="0.3"/>
<path d="M212.2,124.8 L213.2,125.9 L214.8,125.0 L213.9,123.3Z" fill="#110229" stroke="#110229" stroke-width="0.3"/>
<path d="M219.1,124.9 L220.0,126.0 L221.7,125.5 L220.7,124.4Z" fill="#0d0220" stroke="#0d0220" stroke-width="0.3"/>
<path d="M194.3,125.4 L195.3,126.1 L196.9,125.0 L196.0,124.5Z" fill="#0e0222" stroke="#0e0222" stroke-width="0.3"/>
<path d="M201.2,119.5 L202.1,121.9 L203.8,120.7 L202.8,118.0Z" fill="#450d78" stroke="#450d78" stroke-width="0.3"/>
<path d="M208.0,124.4 L209.0,126.0 L210.6,125.5 L209.6,123.9Z" fill="#110227" stroke="#110227" stroke-width="0.3"/>
<path d="M214.8,125.0 L215.8,126.2 L217.4,125.5 L216.5,123.7Z" fill="#100227" stroke="#100227" stroke-width="0.3"/>
<path d="M196.9,125.0 L197.9,125.7 L199.5,123.3 L198.6,122.8Z" fill="#180435" stroke="#180435" stroke-width="0.3"/>
<path d="M203.8,120.7 L204.7,124.2 L206.4,124.3 L205.4,121.3Z" fill="#1e053f" stroke="#1e053f" stroke-width="0.3"/>
<path d="M210.6,125.5 L211.6,126.4 L213.2,125.9 L212.2,124.8Z" fill="#0e0221" stroke="#0e0221" stroke-width="0.3"/>
<path d="M217.4,125.5 L218.4,126.5 L220.0,126.0 L219.1,124.9Z" fill="#0d0220" stroke="#0d0220" stroke-width="0.3"/>
<path d="M199.5,123.3 L200.5,124.8 L202.1,121.9 L201.2,119.5Z" fill="#2c0756" stroke="#2c0756" stroke-width="0.3"/>
<path d="M206.4,124.3 L207.3,126.3 L209.0,126.0 L208.0,124.4Z" fill="#110228" stroke="#110228" stroke-width="0.3"/>
<path d="M213.2,125.9 L214.2,126.7 L215.8,126.2 L214.8,125.0Z" fill="#0d0221" stroke="#0d0221" stroke-width="0.3"/>
<path d="M195.3,126.1 L196.2,126.8 L197.9,125.7 L196.9,125.0Z" fill="#0f0224" stroke="#0f0224" stroke-width="0.3"/>
<path d="M202.1,121.9 L203.1,125.0 L204.7,124.2 L203.8,120.7Z" fill="#24064a" stroke="#24064a" stroke-width="0.3"/>
<path d="M209.0,126.0 L209.9,126.9 L211.6,126.4 L210.6,125.5Z" fill="#0d0220" stroke="#0d0220" stroke-width="0.3"/>
<path d="M215.8,126.2 L216.8,127.0 L218.4,126.5 L217.4,125.5Z" fill="#0c021f" stroke="#0c021f" stroke-width="0.3"/>
<path d="M197.9,125.7 L198.8,126.7 L200.5,124.8 L199.5,123.3Z" fill="#180435" stroke="#180435" stroke-width="0.3"/>
<path d="M204.7,124.2 L205.7,126.7 L207.3,126.3 L206.4,124.3Z" fill="#14032c" stroke="#14032c" stroke-width="0.3"/>
<path d="M211.6,126.4 L212.5,127.2 L214.2,126.7 L213.2,125.9Z" fill="#0c021e" stroke="#0c021e" stroke-width="0.3"/>
<path d="M200.5,124.8 L201.4,126.6 L203.1,125.0 L202.1,121.9Z" fill="#1e0540" stroke="#1e0540" stroke-width="0.3"/>
<path d="M207.3,126.3 L208.3,127.4 L209.9,126.9 L209.0,126.0Z" fill="#0d0220" stroke="#0d0220" stroke-width="0.3"/>
<path d="M214.2,126.7 L215.1,127.5 L216.8,127.0 L215.8,126.2Z" fill="#0c021e" stroke="#0c021e" stroke-width="0.3"/>
<path d="M196.2,126.8 L197.2,127.6 L198.8,126.7 L197.9,125.7Z" fill="#0f0224" stroke="#0f0224" stroke-width="0.3"/>
<path d="M203.1,125.0 L204.0,127.2 L205.7,126.7 L204.7,124.2Z" fill="#150330" stroke="#150330" stroke-width="0.3"/>
<path d="M209.9,126.9 L210.9,127.7 L212.5,127.2 L211.6,126.4Z" fill="#0c021e" stroke="#0c021e" stroke-width="0.3"/>
<path d="M198.8,126.7 L199.8,127.7 L201.4,126.6 L200.5,124.8Z" fill="#14032d" stroke="#14032d" stroke-width="0.3"/>
<path d="M205.7,126.7 L206.6,127.9 L208.3,127.4 L207.3,126.3Z" fill="#0e0221" stroke="#0e0221" stroke-width="0.3"/>
<path d="M212.5,127.2 L213.5,128.0 L215.1,127.5 L214.2,126.7Z" fill="#0b011d" stroke="#0b011d" stroke-width="0.3"/>
<path d="M201.4,126.6 L202.4,128.0 L204.0,127.2 L203.1,125.0Z" fill="#13032d" stroke="#13032d" stroke-width="0.3"/>
<path d="M208.3,127.4 L209.2,128.2 L210.9,127.7 L209.9,126.9Z" fill="#0c021e" stroke="#0c021e" stroke-width="0.3"/>
<path d="M197.2,127.6 L198.2,128.4 L199.8,127.7 L198.8,126.7Z" fill="#0e0222" stroke="#0e0222" stroke-width="0.3"/>
<path d="M204.0,127.2 L205.0,128.4 L206.6,127.9 L205.7,126.7Z" fill="#0e0222" stroke="#0e0222" stroke-width="0.3"/>
<path d="M210.9,127.7 L211.8,128.5 L213.5,128.0 L212.5,127.2Z" fill="#0b011d" stroke="#0b011d" stroke-width="0.3"/>
<path d="M199.8,127.7 L200.8,128.7 L202.4,128.0 L201.4,126.6Z" fill="#0f0225" stroke="#0f0225" stroke-width="0.3"/>
<path d="M206.6,127.9 L207.6,128.7 L209.2,128.2 L208.3,127.4Z" fill="#0c021e" stroke="#0c021e" stroke-width="0.3"/>
<path d="M202.4,128.0 L203.4,128.9 L205.0,128.4 L204.0,127.2Z" fill="#0d0221" stroke="#0d0221" stroke-width="0.3"/>
<path d="M209.2,128.2 L210.2,129.0 L211.8,128.5 L210.9,127.7Z" fill="#0b011d" stroke="#0b011d" stroke-width="0.3"/>
<path d="M198.2,128.4 L199.1,129.2 L200.8,128.7 L199.8,127.7Z" fill="#0c021f" stroke="#0c021f" stroke-width="0.3"/>
<path d="M205.0,128.4 L206.0,129.2 L207.6,128.7 L206.6,127.9Z" fill="#0c021e" stroke="#0c021e" stroke-width="0.3"/>
<path d="M200.8,128.7 L201.7,129.5 L203.4,128.9 L202.4,128.0Z" fill="#0c021f" stroke="#0c021f" stroke-width="0.3"/>
<path d="M207.6,128.7 L208.6,129.5 L210.2,129.0 L209.2,128.2Z" fill="#0b011d" stroke="#0b011d" stroke-width="0.3"/>
<path d="M203.4,128.9 L204.3,129.7 L206.0,129.2 L205.0,128.4Z" fill="#0c021e" stroke="#0c021e" stroke-width="0.3"/>
<path d="M199.1,129.2 L200.1,130.0 L201.7,129.5 L200.8,128.7Z" fill="#0c021e" stroke="#0c021e" stroke-width="0.3"/>
<path d="M206.0,129.2 L206.9,130.0 L208.6,129.5 L207.6,128.7Z" fill="#0b011d" stroke="#0b011d" stroke-width="0.3"/>
<path d="M201.7,129.5 L202.7,130.2 L204.3,129.7 L203.4,128.9Z" fill="#0c021e" stroke="#0c021e" stroke-width="0.3"/>
<path d="M204.3,129.7 L205.3,130.5 L206.9,130.0 L206.0,129.2Z" fill="#0b011d" stroke="#0b011d" stroke-width="0.3"/>
<path d="M200.1,130.0 L201.0,130.7 L202.7,130.2 L201.7,129.5Z" fill="#0b011d" stroke="#0b011d" stroke-width="0.3"/>
<path d="M202.7,130.2 L203.6,131.0 L205.3,130.5 L204.3,129.7Z" fill="#0b011d" stroke="#0b011d" stroke-width="0.3"/>
<path d="M201.0,130.7 L202.0,131.5 L203.6,131.0 L202.7,130.2Z" fill="#0b011d" stroke="#0b011d" stroke-width="0.3"/>
<circle cx="180.2" cy="110.5" r="0.8" fill="#6ab0f0"/>
<circle cx="180.9" cy="107.5" r="0.8" fill="#6ab0f0"/>
<circle cx="181.6" cy="104.5" r="0.8" fill="#6ab0f0"/>
<circle cx="182.3" cy="101.6" r="0.8" fill="#6ab0f0"/>
<circle cx="183.0" cy="99.2" r="0.8" fill="#6ab0f0"/>
</g>
<text x="136.50" y="203.90" font-size="9.6" text-anchor="middle" fill="#111" >"rugged" fitness landscape due to epistasis</text>
<g stroke="#111" stroke-width="1.3" fill="none"><line x1="185.7" y1="163.7" x2="185.7" y2="138.5"/><line x1="185.7" y1="163.7" x2="213" y2="150"/><line x1="185.7" y1="163.7" x2="208.5" y2="177.5"/></g>
<polygon points="185.7,135.3 183.6,140.6 187.8,140.6" fill="#111"/>
<polygon points="215.6,148.7 209.6,148.8 211.6,152.6" fill="#111"/>
<polygon points="211.2,179.3 205.5,178.6 207.8,174.9" fill="#111"/>
<text transform="translate(181.6,148.4) rotate(-90)" font-size="8.0" text-anchor="middle" fill="#111">Fitness</text>
<text x="194.20" y="168.40" font-size="8.35" fill="#111" >Sequence</text>
<text x="258.40" y="117.10" font-size="10.6" font-weight="bold" fill="#000" >D</text>
<rect x="290.69" y="179.02" width="19.10" height="7.68" fill="#dc8336"/>
<rect x="314.56" y="164.71" width="19.10" height="21.99" fill="#467ca3"/>
<rect x="338.44" y="167.88" width="19.10" height="18.82" fill="#467ca3"/>
<rect x="362.31" y="162.60" width="19.10" height="24.10" fill="#467ca3"/>
<line x1="288.3" y1="167.88" x2="383.8" y2="167.88" stroke="rgba(176,176,176,0.35)" stroke-width="0.8"/>
<line x1="288.3" y1="149.05" x2="383.8" y2="149.05" stroke="rgba(176,176,176,0.35)" stroke-width="0.8"/>
<line x1="288.3" y1="130.22" x2="383.8" y2="130.22" stroke="rgba(176,176,176,0.35)" stroke-width="0.8"/>
<circle cx="299.74" cy="176.84" r="2.1" fill="#f58a2c" stroke="#1a1a2a" stroke-width="0.7"/>
<circle cx="298.64" cy="180.07" r="2.1" fill="#f58a2c" stroke="#1a1a2a" stroke-width="0.7"/>
<circle cx="302.04" cy="179.47" r="2.1" fill="#f58a2c" stroke="#1a1a2a" stroke-width="0.7"/>
<circle cx="322.11" cy="164.41" r="2.1" fill="#3c8bd0" stroke="#1a1a2a" stroke-width="0.7"/>
<circle cx="325.01" cy="164.71" r="2.1" fill="#3c8bd0" stroke="#1a1a2a" stroke-width="0.7"/>
<circle cx="323.71" cy="164.11" r="2.1" fill="#3c8bd0" stroke="#1a1a2a" stroke-width="0.7"/>
<circle cx="348.29" cy="165.92" r="2.1" fill="#3c8bd0" stroke="#1a1a2a" stroke-width="0.7"/>
<circle cx="347.19" cy="171.04" r="2.1" fill="#3c8bd0" stroke="#1a1a2a" stroke-width="0.7"/>
<circle cx="347.79" cy="168.25" r="2.1" fill="#3c8bd0" stroke="#1a1a2a" stroke-width="0.7"/>
<circle cx="370.96" cy="158.61" r="2.1" fill="#3c8bd0" stroke="#1a1a2a" stroke-width="0.7"/>
<circle cx="370.06" cy="163.06" r="2.1" fill="#3c8bd0" stroke="#1a1a2a" stroke-width="0.7"/>
<circle cx="372.16" cy="163.96" r="2.1" fill="#3c8bd0" stroke="#1a1a2a" stroke-width="0.7"/>
<rect x="288.3" y="111.4" width="95.5" height="75.29999999999998" fill="none" stroke="#222" stroke-width="0.9"/>
<line x1="285.7" y1="186.70" x2="288.3" y2="186.70" stroke="#222" stroke-width="0.8"/>
<text x="283.90" y="189.60" font-size="8.0" text-anchor="end" fill="#222" >0</text>
<line x1="285.7" y1="167.88" x2="288.3" y2="167.88" stroke="#222" stroke-width="0.8"/>
<text x="283.90" y="170.78" font-size="8.0" text-anchor="end" fill="#222" >25</text>
<line x1="285.7" y1="149.05" x2="288.3" y2="149.05" stroke="#222" stroke-width="0.8"/>
<text x="283.90" y="151.95" font-size="8.0" text-anchor="end" fill="#222" >50</text>
<line x1="285.7" y1="130.22" x2="288.3" y2="130.22" stroke="#222" stroke-width="0.8"/>
<text x="283.90" y="133.12" font-size="8.0" text-anchor="end" fill="#222" >75</text>
<line x1="285.7" y1="111.40" x2="288.3" y2="111.40" stroke="#222" stroke-width="0.8"/>
<text x="283.90" y="114.30" font-size="8.0" text-anchor="end" fill="#222" >100</text>
<line x1="300.24" y1="186.7" x2="300.24" y2="189.1" stroke="#222" stroke-width="0.8"/>
<line x1="324.11" y1="186.7" x2="324.11" y2="189.1" stroke="#222" stroke-width="0.8"/>
<line x1="347.99" y1="186.7" x2="347.99" y2="189.1" stroke="#222" stroke-width="0.8"/>
<line x1="371.86" y1="186.7" x2="371.86" y2="189.1" stroke="#222" stroke-width="0.8"/>
<rect x="291.3" y="114.4" width="89.4" height="27" rx="1.5" fill="rgba(255,255,255,0.8)" stroke="#e4e4e4" stroke-width="0.7"/>
<rect x="299.1" y="119.9" width="14.9" height="5.1" fill="#467ca3"/>
<rect x="299.1" y="131.1" width="14.9" height="5.1" fill="#dc8336"/>
<text x="319.80" y="124.70" font-size="7.6" fill="#222" >Variant</text>
<text x="319.80" y="135.60" font-size="7.5" fill="#222" >Parent (ParLQ)</text>
<text transform="translate(266.6,148.4) rotate(-90)" font-size="8.45" text-anchor="middle" fill="#222">Cis Yield (%)</text>
<text transform="translate(300.24,202.80) rotate(-30)" font-size="7.4" text-anchor="middle" fill="#222">WYLQF</text>
<text transform="translate(324.11,202.50) rotate(-30)" font-size="7.4" text-anchor="middle" fill="#222">DAYFW</text>
<text transform="translate(347.99,204.10) rotate(-30)" font-size="7.4" text-anchor="middle" fill="#222">DGMDW</text>
<text transform="translate(371.86,204.10) rotate(-30)" font-size="7.4" text-anchor="middle" fill="#222">DGMVW</text>
<rect x="428.69" y="146.60" width="19.14" height="24.00" fill="#dc8336"/>
<rect x="452.62" y="140.10" width="19.14" height="6.50" fill="#467ca3"/>
<rect x="476.54" y="139.10" width="19.14" height="7.50" fill="#467ca3"/>
<rect x="500.47" y="118.40" width="19.14" height="28.20" fill="#467ca3"/>
<line x1="426.3" y1="166.60" x2="522.0" y2="166.60" stroke="rgba(176,176,176,0.35)" stroke-width="0.8"/>
<line x1="426.3" y1="146.60" x2="522.0" y2="146.60" stroke="rgba(176,176,176,0.35)" stroke-width="0.8"/>
<line x1="426.3" y1="126.60" x2="522.0" y2="126.60" stroke="rgba(176,176,176,0.35)" stroke-width="0.8"/>
<circle cx="440.66" cy="164.90" r="2.1" fill="#f58a2c" stroke="#1a1a2a" stroke-width="0.7"/>
<circle cx="438.96" cy="169.40" r="2.1" fill="#f58a2c" stroke="#1a1a2a" stroke-width="0.7"/>
<circle cx="438.56" cy="177.90" r="2.1" fill="#f58a2c" stroke="#1a1a2a" stroke-width="0.7"/>
<circle cx="461.19" cy="138.90" r="2.1" fill="#3c8bd0" stroke="#1a1a2a" stroke-width="0.7"/>
<circle cx="464.39" cy="140.40" r="2.1" fill="#3c8bd0" stroke="#1a1a2a" stroke-width="0.7"/>
<circle cx="485.11" cy="139.30" r="2.1" fill="#3c8bd0" stroke="#1a1a2a" stroke-width="0.7"/>
<circle cx="487.41" cy="138.00" r="2.1" fill="#3c8bd0" stroke="#1a1a2a" stroke-width="0.7"/>
<circle cx="511.14" cy="113.70" r="2.1" fill="#3c8bd0" stroke="#1a1a2a" stroke-width="0.7"/>
<circle cx="508.54" cy="119.50" r="2.1" fill="#3c8bd0" stroke="#1a1a2a" stroke-width="0.7"/>
<circle cx="509.64" cy="121.30" r="2.1" fill="#3c8bd0" stroke="#1a1a2a" stroke-width="0.7"/>
<rect x="426.3" y="111.4" width="95.69999999999999" height="75.29999999999998" fill="none" stroke="#222" stroke-width="0.9"/>
<line x1="423.7" y1="186.60" x2="426.3" y2="186.60" stroke="#222" stroke-width="0.8"/>
<text x="421.90" y="189.50" font-size="8.0" text-anchor="end" fill="#222" >−40</text>
<line x1="423.7" y1="166.60" x2="426.3" y2="166.60" stroke="#222" stroke-width="0.8"/>
<text x="421.90" y="169.50" font-size="8.0" text-anchor="end" fill="#222" >−20</text>
<line x1="423.7" y1="146.60" x2="426.3" y2="146.60" stroke="#222" stroke-width="0.8"/>
<text x="421.90" y="149.50" font-size="8.0" text-anchor="end" fill="#222" >0</text>
<line x1="423.7" y1="126.60" x2="426.3" y2="126.60" stroke="#222" stroke-width="0.8"/>
<text x="421.90" y="129.50" font-size="8.0" text-anchor="end" fill="#222" >20</text>
<line x1="438.26" y1="186.7" x2="438.26" y2="189.1" stroke="#222" stroke-width="0.8"/>
<line x1="462.19" y1="186.7" x2="462.19" y2="189.1" stroke="#222" stroke-width="0.8"/>
<line x1="486.11" y1="186.7" x2="486.11" y2="189.1" stroke="#222" stroke-width="0.8"/>
<line x1="510.04" y1="186.7" x2="510.04" y2="189.1" stroke="#222" stroke-width="0.8"/>
<text transform="translate(403.4,148.6) rotate(-90)" font-size="8.35" text-anchor="middle" fill="#222">Cis - Trans Yield (%)</text>
<text transform="translate(438.26,202.80) rotate(-30)" font-size="7.4" text-anchor="middle" fill="#222">WYLQF</text>
<text transform="translate(462.19,202.50) rotate(-30)" font-size="7.4" text-anchor="middle" fill="#222">DAYFW</text>
<text transform="translate(486.11,204.10) rotate(-30)" font-size="7.4" text-anchor="middle" fill="#222">DGMDW</text>
<text transform="translate(510.04,204.10) rotate(-30)" font-size="7.4" text-anchor="middle" fill="#222">DGMVW</text>
<rect x="566.90" y="184.00" width="19.22" height="2.80" fill="#dc8336"/>
<rect x="590.93" y="175.61" width="19.22" height="11.19" fill="#467ca3"/>
<rect x="614.95" y="174.16" width="19.22" height="12.64" fill="#467ca3"/>
<rect x="638.98" y="120.49" width="19.22" height="66.31" fill="#467ca3"/>
<line x1="564.5" y1="165.60" x2="660.6" y2="165.60" stroke="rgba(176,176,176,0.35)" stroke-width="0.8"/>
<line x1="564.5" y1="144.40" x2="660.6" y2="144.40" stroke="rgba(176,176,176,0.35)" stroke-width="0.8"/>
<line x1="564.5" y1="123.20" x2="660.6" y2="123.20" stroke="rgba(176,176,176,0.35)" stroke-width="0.8"/>
<circle cx="575.71" cy="184.26" r="2.1" fill="#f58a2c" stroke="#1a1a2a" stroke-width="0.7"/>
<circle cx="577.11" cy="183.83" r="2.1" fill="#f58a2c" stroke="#1a1a2a" stroke-width="0.7"/>
<circle cx="578.11" cy="184.68" r="2.1" fill="#f58a2c" stroke="#1a1a2a" stroke-width="0.7"/>
<circle cx="600.04" cy="175.10" r="2.1" fill="#3c8bd0" stroke="#1a1a2a" stroke-width="0.7"/>
<circle cx="601.74" cy="175.78" r="2.1" fill="#3c8bd0" stroke="#1a1a2a" stroke-width="0.7"/>
<circle cx="623.96" cy="173.40" r="2.1" fill="#3c8bd0" stroke="#1a1a2a" stroke-width="0.7"/>
<circle cx="625.46" cy="174.50" r="2.1" fill="#3c8bd0" stroke="#1a1a2a" stroke-width="0.7"/>
<circle cx="649.89" cy="116.84" r="2.1" fill="#3c8bd0" stroke="#1a1a2a" stroke-width="0.7"/>
<circle cx="647.59" cy="124.64" r="2.1" fill="#3c8bd0" stroke="#1a1a2a" stroke-width="0.7"/>
<circle cx="649.19" cy="117.69" r="2.1" fill="#3c8bd0" stroke="#1a1a2a" stroke-width="0.7"/>
<rect x="564.5" y="111.3" width="96.10000000000002" height="75.50000000000001" fill="none" stroke="#222" stroke-width="0.9"/>
<line x1="561.9" y1="186.80" x2="564.5" y2="186.80" stroke="#222" stroke-width="0.8"/>
<text x="560.10" y="189.70" font-size="8.0" text-anchor="end" fill="#222" >0.0</text>
<line x1="561.9" y1="165.60" x2="564.5" y2="165.60" stroke="#222" stroke-width="0.8"/>
<text x="560.10" y="168.50" font-size="8.0" text-anchor="end" fill="#222" >2.5</text>
<line x1="561.9" y1="144.40" x2="564.5" y2="144.40" stroke="#222" stroke-width="0.8"/>
<text x="560.10" y="147.30" font-size="8.0" text-anchor="end" fill="#222" >5.0</text>
<line x1="561.9" y1="123.20" x2="564.5" y2="123.20" stroke="#222" stroke-width="0.8"/>
<text x="560.10" y="126.10" font-size="8.0" text-anchor="end" fill="#222" >7.5</text>
<line x1="576.51" y1="186.8" x2="576.51" y2="189.20000000000002" stroke="#222" stroke-width="0.8"/>
<line x1="600.54" y1="186.8" x2="600.54" y2="189.20000000000002" stroke="#222" stroke-width="0.8"/>
<line x1="624.56" y1="186.8" x2="624.56" y2="189.20000000000002" stroke="#222" stroke-width="0.8"/>
<line x1="648.59" y1="186.8" x2="648.59" y2="189.20000000000002" stroke="#222" stroke-width="0.8"/>
<line x1="564.5" y1="178.32" x2="660.6" y2="178.32" stroke="#111" stroke-width="0.9" stroke-dasharray="2.6,1.6"/>
<text transform="translate(543.8,149.1) rotate(-90)" font-size="8.58" text-anchor="middle" fill="#222">Cis/Trans Selectivity</text>
<text transform="translate(576.51,202.80) rotate(-30)" font-size="7.4" text-anchor="middle" fill="#222">WYLQF</text>
<text transform="translate(600.54,202.50) rotate(-30)" font-size="7.4" text-anchor="middle" fill="#222">DAYFW</text>
<text transform="translate(624.56,204.10) rotate(-30)" font-size="7.4" text-anchor="middle" fill="#222">DGMDW</text>
<text transform="translate(648.59,204.10) rotate(-30)" font-size="7.4" text-anchor="middle" fill="#222">DGMVW</text>
<text x="20.30" y="228.90" font-size="10.6" font-weight="bold" fill="#000" >C</text>
<rect x="30.39" y="238.40" width="4.76" height="9.63" fill="#467ca3"/>
<rect x="36.34" y="238.40" width="4.76" height="14.98" fill="#467ca3"/>
<rect x="42.30" y="235.72" width="4.76" height="2.68" fill="#467ca3"/>
<rect x="48.24" y="238.40" width="4.76" height="16.05" fill="#467ca3"/>
<rect x="54.20" y="238.40" width="4.76" height="5.99" fill="#467ca3"/>
<rect x="60.15" y="238.40" width="4.76" height="7.28" fill="#467ca3"/>
<rect x="66.10" y="238.40" width="4.76" height="8.56" fill="#467ca3"/>
<rect x="72.05" y="238.40" width="4.76" height="18.19" fill="#467ca3"/>
<rect x="78.00" y="238.40" width="4.76" height="7.92" fill="#467ca3"/>
<rect x="83.95" y="238.40" width="4.76" height="11.34" fill="#467ca3"/>
<rect x="89.90" y="238.40" width="4.76" height="3.00" fill="#467ca3"/>
<rect x="95.85" y="238.40" width="4.76" height="9.20" fill="#467ca3"/>
<rect x="101.80" y="238.40" width="4.76" height="14.77" fill="#467ca3"/>
<rect x="107.75" y="238.40" width="4.76" height="14.98" fill="#467ca3"/>
<rect x="113.70" y="238.40" width="4.76" height="11.77" fill="#467ca3"/>
<rect x="119.65" y="238.40" width="4.76" height="9.63" fill="#467ca3"/>
<rect x="125.60" y="238.40" width="4.76" height="9.20" fill="#467ca3"/>
<rect x="131.55" y="238.40" width="4.76" height="13.48" fill="#467ca3"/>
<rect x="137.50" y="238.40" width="4.76" height="7.28" fill="#dc8336"/>
<rect x="143.45" y="238.40" width="4.76" height="4.81" fill="#467ca3"/>
<line x1="29.8" y1="259.80" x2="148.8" y2="259.80" stroke="rgba(176,176,176,0.35)" stroke-width="0.8"/>
<line x1="29.8" y1="281.20" x2="148.8" y2="281.20" stroke="rgba(176,176,176,0.35)" stroke-width="0.8"/>
<line x1="29.8" y1="302.60" x2="148.8" y2="302.60" stroke="rgba(176,176,176,0.35)" stroke-width="0.8"/>
<circle cx="32.77" cy="246.96" r="1.35" fill="#3f84bd" stroke="#1a1a2a" stroke-width="0.75"/>
<circle cx="32.17" cy="248.03" r="1.35" fill="#3f84bd" stroke="#1a1a2a" stroke-width="0.75"/>
<circle cx="33.38" cy="249.10" r="1.35" fill="#3f84bd" stroke="#1a1a2a" stroke-width="0.75"/>
<circle cx="38.73" cy="244.82" r="1.35" fill="#3f84bd" stroke="#1a1a2a" stroke-width="0.75"/>
<circle cx="38.12" cy="256.91" r="1.35" fill="#3f84bd" stroke="#1a1a2a" stroke-width="0.75"/>
<circle cx="39.33" cy="259.80" r="1.35" fill="#3f84bd" stroke="#1a1a2a" stroke-width="0.75"/>
<circle cx="44.68" cy="235.19" r="1.35" fill="#3f84bd" stroke="#1a1a2a" stroke-width="0.75"/>
<circle cx="44.08" cy="236.26" r="1.35" fill="#3f84bd" stroke="#1a1a2a" stroke-width="0.75"/>
<circle cx="45.28" cy="234.66" r="1.35" fill="#3f84bd" stroke="#1a1a2a" stroke-width="0.75"/>
<circle cx="50.62" cy="248.78" r="1.35" fill="#3f84bd" stroke="#1a1a2a" stroke-width="0.75"/>
<circle cx="50.02" cy="252.31" r="1.35" fill="#3f84bd" stroke="#1a1a2a" stroke-width="0.75"/>
<circle cx="51.23" cy="263.01" r="1.35" fill="#3f84bd" stroke="#1a1a2a" stroke-width="0.75"/>
<circle cx="56.58" cy="242.68" r="1.35" fill="#3f84bd" stroke="#1a1a2a" stroke-width="0.75"/>
<circle cx="55.98" cy="244.82" r="1.35" fill="#3f84bd" stroke="#1a1a2a" stroke-width="0.75"/>
<circle cx="57.18" cy="246.96" r="1.35" fill="#3f84bd" stroke="#1a1a2a" stroke-width="0.75"/>
<circle cx="62.53" cy="244.82" r="1.35" fill="#3f84bd" stroke="#1a1a2a" stroke-width="0.75"/>
<circle cx="61.93" cy="246.43" r="1.35" fill="#3f84bd" stroke="#1a1a2a" stroke-width="0.75"/>
<circle cx="63.13" cy="248.56" r="1.35" fill="#3f84bd" stroke="#1a1a2a" stroke-width="0.75"/>
<circle cx="68.48" cy="245.89" r="1.35" fill="#3f84bd" stroke="#1a1a2a" stroke-width="0.75"/>
<circle cx="67.88" cy="246.96" r="1.35" fill="#3f84bd" stroke="#1a1a2a" stroke-width="0.75"/>
<circle cx="74.43" cy="255.52" r="1.35" fill="#3f84bd" stroke="#1a1a2a" stroke-width="0.75"/>
<circle cx="73.83" cy="257.12" r="1.35" fill="#3f84bd" stroke="#1a1a2a" stroke-width="0.75"/>
<circle cx="75.03" cy="258.73" r="1.35" fill="#3f84bd" stroke="#1a1a2a" stroke-width="0.75"/>
<circle cx="80.38" cy="244.82" r="1.35" fill="#3f84bd" stroke="#1a1a2a" stroke-width="0.75"/>
<circle cx="79.78" cy="246.43" r="1.35" fill="#3f84bd" stroke="#1a1a2a" stroke-width="0.75"/>
<circle cx="86.33" cy="248.03" r="1.35" fill="#3f84bd" stroke="#1a1a2a" stroke-width="0.75"/>
<circle cx="85.73" cy="249.10" r="1.35" fill="#3f84bd" stroke="#1a1a2a" stroke-width="0.75"/>
<circle cx="86.93" cy="252.31" r="1.35" fill="#3f84bd" stroke="#1a1a2a" stroke-width="0.75"/>
<circle cx="92.28" cy="241.08" r="1.35" fill="#3f84bd" stroke="#1a1a2a" stroke-width="0.75"/>
<circle cx="91.68" cy="241.61" r="1.35" fill="#3f84bd" stroke="#1a1a2a" stroke-width="0.75"/>
<circle cx="98.23" cy="245.03" r="1.35" fill="#3f84bd" stroke="#1a1a2a" stroke-width="0.75"/>
<circle cx="97.63" cy="246.96" r="1.35" fill="#3f84bd" stroke="#1a1a2a" stroke-width="0.75"/>
<circle cx="98.83" cy="248.03" r="1.35" fill="#3f84bd" stroke="#1a1a2a" stroke-width="0.75"/>
<circle cx="104.18" cy="250.17" r="1.35" fill="#3f84bd" stroke="#1a1a2a" stroke-width="0.75"/>
<circle cx="103.58" cy="252.31" r="1.35" fill="#3f84bd" stroke="#1a1a2a" stroke-width="0.75"/>
<circle cx="104.78" cy="254.45" r="1.35" fill="#3f84bd" stroke="#1a1a2a" stroke-width="0.75"/>
<circle cx="110.13" cy="250.17" r="1.35" fill="#3f84bd" stroke="#1a1a2a" stroke-width="0.75"/>
<circle cx="109.53" cy="252.31" r="1.35" fill="#3f84bd" stroke="#1a1a2a" stroke-width="0.75"/>
<circle cx="110.73" cy="260.12" r="1.35" fill="#3f84bd" stroke="#1a1a2a" stroke-width="0.75"/>
<circle cx="116.08" cy="246.32" r="1.35" fill="#3f84bd" stroke="#1a1a2a" stroke-width="0.75"/>
<circle cx="115.48" cy="249.10" r="1.35" fill="#3f84bd" stroke="#1a1a2a" stroke-width="0.75"/>
<circle cx="116.68" cy="254.99" r="1.35" fill="#3f84bd" stroke="#1a1a2a" stroke-width="0.75"/>
<circle cx="122.03" cy="245.89" r="1.35" fill="#3f84bd" stroke="#1a1a2a" stroke-width="0.75"/>
<circle cx="121.43" cy="246.96" r="1.35" fill="#3f84bd" stroke="#1a1a2a" stroke-width="0.75"/>
<circle cx="127.98" cy="245.89" r="1.35" fill="#3f84bd" stroke="#1a1a2a" stroke-width="0.75"/>
<circle cx="127.38" cy="246.96" r="1.35" fill="#3f84bd" stroke="#1a1a2a" stroke-width="0.75"/>
<circle cx="133.93" cy="248.03" r="1.35" fill="#3f84bd" stroke="#1a1a2a" stroke-width="0.75"/>
<circle cx="133.33" cy="250.17" r="1.35" fill="#3f84bd" stroke="#1a1a2a" stroke-width="0.75"/>
<circle cx="134.53" cy="252.31" r="1.35" fill="#3f84bd" stroke="#1a1a2a" stroke-width="0.75"/>
<circle cx="139.88" cy="242.68" r="1.35" fill="#e8893a" stroke="#1a1a2a" stroke-width="0.75"/>
<circle cx="139.28" cy="244.82" r="1.35" fill="#e8893a" stroke="#1a1a2a" stroke-width="0.75"/>
<circle cx="140.48" cy="245.89" r="1.35" fill="#e8893a" stroke="#1a1a2a" stroke-width="0.75"/>
<circle cx="145.83" cy="241.61" r="1.35" fill="#3f84bd" stroke="#1a1a2a" stroke-width="0.75"/>
<circle cx="145.23" cy="243.75" r="1.35" fill="#3f84bd" stroke="#1a1a2a" stroke-width="0.75"/>
<rect x="29.8" y="233.3" width="119.00000000000001" height="73.5" fill="none" stroke="#222" stroke-width="0.9"/>
<line x1="27.2" y1="238.40" x2="29.8" y2="238.40" stroke="#222" stroke-width="0.8"/>
<text x="25.40" y="241.30" font-size="8.0" text-anchor="end" fill="#222" >0</text>
<line x1="27.2" y1="259.80" x2="29.8" y2="259.80" stroke="#222" stroke-width="0.8"/>
<text x="25.40" y="262.70" font-size="8.0" text-anchor="end" fill="#222" >−20</text>
<line x1="27.2" y1="281.20" x2="29.8" y2="281.20" stroke="#222" stroke-width="0.8"/>
<text x="25.40" y="284.10" font-size="8.0" text-anchor="end" fill="#222" >−40</text>
<line x1="27.2" y1="302.60" x2="29.8" y2="302.60" stroke="#222" stroke-width="0.8"/>
<text x="25.40" y="305.50" font-size="8.0" text-anchor="end" fill="#222" >−60</text>
<line x1="32.77" y1="306.8" x2="32.77" y2="309.2" stroke="#222" stroke-width="0.8"/>
<line x1="38.73" y1="306.8" x2="38.73" y2="309.2" stroke="#222" stroke-width="0.8"/>
<line x1="44.68" y1="306.8" x2="44.68" y2="309.2" stroke="#222" stroke-width="0.8"/>
<line x1="50.62" y1="306.8" x2="50.62" y2="309.2" stroke="#222" stroke-width="0.8"/>
<line x1="56.58" y1="306.8" x2="56.58" y2="309.2" stroke="#222" stroke-width="0.8"/>
<line x1="62.53" y1="306.8" x2="62.53" y2="309.2" stroke="#222" stroke-width="0.8"/>
<line x1="68.48" y1="306.8" x2="68.48" y2="309.2" stroke="#222" stroke-width="0.8"/>
<line x1="74.43" y1="306.8" x2="74.43" y2="309.2" stroke="#222" stroke-width="0.8"/>
<line x1="80.38" y1="306.8" x2="80.38" y2="309.2" stroke="#222" stroke-width="0.8"/>
<line x1="86.33" y1="306.8" x2="86.33" y2="309.2" stroke="#222" stroke-width="0.8"/>
<line x1="92.28" y1="306.8" x2="92.28" y2="309.2" stroke="#222" stroke-width="0.8"/>
<line x1="98.23" y1="306.8" x2="98.23" y2="309.2" stroke="#222" stroke-width="0.8"/>
<line x1="104.18" y1="306.8" x2="104.18" y2="309.2" stroke="#222" stroke-width="0.8"/>
<line x1="110.13" y1="306.8" x2="110.13" y2="309.2" stroke="#222" stroke-width="0.8"/>
<line x1="116.08" y1="306.8" x2="116.08" y2="309.2" stroke="#222" stroke-width="0.8"/>
<line x1="122.03" y1="306.8" x2="122.03" y2="309.2" stroke="#222" stroke-width="0.8"/>
<line x1="127.98" y1="306.8" x2="127.98" y2="309.2" stroke="#222" stroke-width="0.8"/>
<line x1="133.93" y1="306.8" x2="133.93" y2="309.2" stroke="#222" stroke-width="0.8"/>
<line x1="139.88" y1="306.8" x2="139.88" y2="309.2" stroke="#222" stroke-width="0.8"/>
<line x1="145.83" y1="306.8" x2="145.83" y2="309.2" stroke="#222" stroke-width="0.8"/>
<text x="89.30" y="228.70" font-size="9.5" text-anchor="middle" fill="#222" >W56X</text>
<text x="32.77" y="316.70" font-size="7.8" text-anchor="middle" fill="#222" >A</text>
<text x="38.73" y="316.70" font-size="7.8" text-anchor="middle" fill="#222" >C</text>
<text x="44.68" y="316.70" font-size="7.8" text-anchor="middle" fill="#222" >D</text>
<text x="50.62" y="316.70" font-size="7.8" text-anchor="middle" fill="#222" >E</text>
<text x="56.58" y="316.70" font-size="7.8" text-anchor="middle" fill="#222" >F</text>
<text x="62.53" y="316.70" font-size="7.8" text-anchor="middle" fill="#222" >G</text>
<text x="68.48" y="316.70" font-size="7.8" text-anchor="middle" fill="#222" >H</text>
<text x="74.43" y="316.70" font-size="7.8" text-anchor="middle" fill="#222" >I</text>
<text x="80.38" y="316.70" font-size="7.8" text-anchor="middle" fill="#222" >K</text>
<text x="86.33" y="316.70" font-size="7.8" text-anchor="middle" fill="#222" >L</text>
<text x="92.28" y="316.70" font-size="7.8" text-anchor="middle" fill="#222" >M</text>
<text x="98.23" y="316.70" font-size="7.8" text-anchor="middle" fill="#222" >N</text>
<text x="104.18" y="316.70" font-size="7.8" text-anchor="middle" fill="#222" >P</text>
<text x="110.13" y="316.70" font-size="7.8" text-anchor="middle" fill="#222" >Q</text>
<text x="116.08" y="316.70" font-size="7.8" text-anchor="middle" fill="#222" >R</text>
<text x="122.03" y="316.70" font-size="7.8" text-anchor="middle" fill="#222" >S</text>
<text x="127.98" y="316.70" font-size="7.8" text-anchor="middle" fill="#222" >T</text>
<text x="133.93" y="316.70" font-size="7.8" text-anchor="middle" fill="#222" >V</text>
<text x="139.88" y="316.70" font-size="7.8" text-anchor="middle" fill="#222" >W</text>
<text x="145.83" y="316.70" font-size="7.8" text-anchor="middle" fill="#222" >Y</text>
<rect x="32.6" y="274.6" width="97.7" height="27.6" rx="1.5" fill="rgba(255,255,255,0.8)" stroke="#e4e4e4" stroke-width="0.7"/>
<rect x="39.2" y="280.7" width="14.7" height="4.9" fill="#467ca3"/>
<rect x="39.2" y="291.4" width="14.7" height="4.9" fill="#dc8336"/>
<text x="59.50" y="285.20" font-size="7.6" fill="#222" >Variant</text>
<text x="59.50" y="296.00" font-size="7.45" fill="#222" >Parent (WYLQF)</text>
<rect x="159.30" y="238.40" width="4.76" height="19.79" fill="#467ca3"/>
<rect x="165.25" y="238.40" width="4.76" height="27.82" fill="#467ca3"/>
<rect x="171.20" y="238.40" width="4.76" height="33.17" fill="#467ca3"/>
<rect x="177.15" y="238.40" width="4.76" height="16.05" fill="#467ca3"/>
<rect x="183.10" y="238.40" width="4.76" height="25.68" fill="#467ca3"/>
<rect x="189.05" y="238.40" width="4.76" height="8.13" fill="#467ca3"/>
<rect x="195.00" y="238.40" width="4.76" height="17.12" fill="#467ca3"/>
<rect x="200.95" y="238.40" width="4.76" height="32.10" fill="#467ca3"/>
<rect x="206.90" y="238.40" width="4.76" height="20.86" fill="#467ca3"/>
<rect x="212.85" y="238.40" width="4.76" height="35.31" fill="#467ca3"/>
<rect x="218.80" y="238.40" width="4.76" height="18.72" fill="#467ca3"/>
<rect x="224.75" y="238.40" width="4.76" height="18.19" fill="#467ca3"/>
<rect x="230.70" y="238.40" width="4.76" height="18.72" fill="#467ca3"/>
<rect x="236.65" y="238.40" width="4.76" height="22.47" fill="#467ca3"/>
<rect x="242.60" y="238.40" width="4.76" height="14.98" fill="#467ca3"/>
<rect x="248.55" y="238.40" width="4.76" height="19.79" fill="#467ca3"/>
<rect x="254.50" y="238.40" width="4.76" height="22.47" fill="#467ca3"/>
<rect x="260.45" y="238.40" width="4.76" height="28.89" fill="#467ca3"/>
<rect x="266.40" y="238.40" width="4.76" height="32.10" fill="#467ca3"/>
<rect x="272.35" y="238.40" width="4.76" height="27.82" fill="#dc8336"/>
<line x1="158.70000000000002" y1="259.80" x2="277.70000000000005" y2="259.80" stroke="rgba(176,176,176,0.35)" stroke-width="0.8"/>
<line x1="158.70000000000002" y1="281.20" x2="277.70000000000005" y2="281.20" stroke="rgba(176,176,176,0.35)" stroke-width="0.8"/>
<line x1="158.70000000000002" y1="302.60" x2="277.70000000000005" y2="302.60" stroke="rgba(176,176,176,0.35)" stroke-width="0.8"/>
<circle cx="161.68" cy="257.66" r="1.35" fill="#3f84bd" stroke="#1a1a2a" stroke-width="0.75"/>
<circle cx="161.08" cy="258.73" r="1.35" fill="#3f84bd" stroke="#1a1a2a" stroke-width="0.75"/>
<circle cx="162.28" cy="259.80" r="1.35" fill="#3f84bd" stroke="#1a1a2a" stroke-width="0.75"/>
<circle cx="167.63" cy="262.58" r="1.35" fill="#3f84bd" stroke="#1a1a2a" stroke-width="0.75"/>
<circle cx="167.03" cy="267.29" r="1.35" fill="#3f84bd" stroke="#1a1a2a" stroke-width="0.75"/>
<circle cx="168.23" cy="269.43" r="1.35" fill="#3f84bd" stroke="#1a1a2a" stroke-width="0.75"/>
<circle cx="173.58" cy="269.43" r="1.35" fill="#3f84bd" stroke="#1a1a2a" stroke-width="0.75"/>
<circle cx="172.98" cy="271.57" r="1.35" fill="#3f84bd" stroke="#1a1a2a" stroke-width="0.75"/>
<circle cx="174.18" cy="280.13" r="1.35" fill="#3f84bd" stroke="#1a1a2a" stroke-width="0.75"/>
<circle cx="179.53" cy="245.89" r="1.35" fill="#3f84bd" stroke="#1a1a2a" stroke-width="0.75"/>
<circle cx="178.93" cy="256.59" r="1.35" fill="#3f84bd" stroke="#1a1a2a" stroke-width="0.75"/>
<circle cx="180.13" cy="262.48" r="1.35" fill="#3f84bd" stroke="#1a1a2a" stroke-width="0.75"/>
<circle cx="185.48" cy="259.80" r="1.35" fill="#3f84bd" stroke="#1a1a2a" stroke-width="0.75"/>
<circle cx="184.88" cy="265.69" r="1.35" fill="#3f84bd" stroke="#1a1a2a" stroke-width="0.75"/>
<circle cx="186.08" cy="268.36" r="1.35" fill="#3f84bd" stroke="#1a1a2a" stroke-width="0.75"/>
<circle cx="191.43" cy="243.75" r="1.35" fill="#3f84bd" stroke="#1a1a2a" stroke-width="0.75"/>
<circle cx="190.83" cy="248.03" r="1.35" fill="#3f84bd" stroke="#1a1a2a" stroke-width="0.75"/>
<circle cx="197.38" cy="249.10" r="1.35" fill="#3f84bd" stroke="#1a1a2a" stroke-width="0.75"/>
<circle cx="196.78" cy="257.66" r="1.35" fill="#3f84bd" stroke="#1a1a2a" stroke-width="0.75"/>
<circle cx="197.98" cy="259.80" r="1.35" fill="#3f84bd" stroke="#1a1a2a" stroke-width="0.75"/>
<circle cx="203.33" cy="270.50" r="1.35" fill="#3f84bd" stroke="#1a1a2a" stroke-width="0.75"/>
<circle cx="202.73" cy="271.57" r="1.35" fill="#3f84bd" stroke="#1a1a2a" stroke-width="0.75"/>
<circle cx="209.28" cy="249.10" r="1.35" fill="#3f84bd" stroke="#1a1a2a" stroke-width="0.75"/>
<circle cx="208.68" cy="259.80" r="1.35" fill="#3f84bd" stroke="#1a1a2a" stroke-width="0.75"/>
<circle cx="209.88" cy="272.64" r="1.35" fill="#3f84bd" stroke="#1a1a2a" stroke-width="0.75"/>
<circle cx="215.23" cy="270.50" r="1.35" fill="#3f84bd" stroke="#1a1a2a" stroke-width="0.75"/>
<circle cx="214.63" cy="272.64" r="1.35" fill="#3f84bd" stroke="#1a1a2a" stroke-width="0.75"/>
<circle cx="215.83" cy="282.27" r="1.35" fill="#3f84bd" stroke="#1a1a2a" stroke-width="0.75"/>
<circle cx="221.18" cy="252.31" r="1.35" fill="#3f84bd" stroke="#1a1a2a" stroke-width="0.75"/>
<circle cx="220.58" cy="256.59" r="1.35" fill="#3f84bd" stroke="#1a1a2a" stroke-width="0.75"/>
<circle cx="221.78" cy="265.90" r="1.35" fill="#3f84bd" stroke="#1a1a2a" stroke-width="0.75"/>
<circle cx="227.13" cy="253.38" r="1.35" fill="#3f84bd" stroke="#1a1a2a" stroke-width="0.75"/>
<circle cx="226.53" cy="258.73" r="1.35" fill="#3f84bd" stroke="#1a1a2a" stroke-width="0.75"/>
<circle cx="227.73" cy="260.87" r="1.35" fill="#3f84bd" stroke="#1a1a2a" stroke-width="0.75"/>
<circle cx="233.08" cy="249.10" r="1.35" fill="#3f84bd" stroke="#1a1a2a" stroke-width="0.75"/>
<circle cx="232.48" cy="258.73" r="1.35" fill="#3f84bd" stroke="#1a1a2a" stroke-width="0.75"/>
<circle cx="233.68" cy="264.08" r="1.35" fill="#3f84bd" stroke="#1a1a2a" stroke-width="0.75"/>
<circle cx="239.03" cy="257.66" r="1.35" fill="#3f84bd" stroke="#1a1a2a" stroke-width="0.75"/>
<circle cx="238.43" cy="259.80" r="1.35" fill="#3f84bd" stroke="#1a1a2a" stroke-width="0.75"/>
<circle cx="239.63" cy="262.48" r="1.35" fill="#3f84bd" stroke="#1a1a2a" stroke-width="0.75"/>
<circle cx="244.98" cy="251.24" r="1.35" fill="#3f84bd" stroke="#1a1a2a" stroke-width="0.75"/>
<circle cx="244.38" cy="254.45" r="1.35" fill="#3f84bd" stroke="#1a1a2a" stroke-width="0.75"/>
<circle cx="250.93" cy="246.96" r="1.35" fill="#3f84bd" stroke="#1a1a2a" stroke-width="0.75"/>
<circle cx="250.33" cy="257.66" r="1.35" fill="#3f84bd" stroke="#1a1a2a" stroke-width="0.75"/>
<circle cx="251.53" cy="272.64" r="1.35" fill="#3f84bd" stroke="#1a1a2a" stroke-width="0.75"/>
<circle cx="256.88" cy="250.17" r="1.35" fill="#3f84bd" stroke="#1a1a2a" stroke-width="0.75"/>
<circle cx="256.27" cy="260.87" r="1.35" fill="#3f84bd" stroke="#1a1a2a" stroke-width="0.75"/>
<circle cx="257.48" cy="268.36" r="1.35" fill="#3f84bd" stroke="#1a1a2a" stroke-width="0.75"/>
<circle cx="262.83" cy="258.73" r="1.35" fill="#3f84bd" stroke="#1a1a2a" stroke-width="0.75"/>
<circle cx="262.23" cy="268.36" r="1.35" fill="#3f84bd" stroke="#1a1a2a" stroke-width="0.75"/>
<circle cx="263.43" cy="273.71" r="1.35" fill="#3f84bd" stroke="#1a1a2a" stroke-width="0.75"/>
<circle cx="268.78" cy="261.94" r="1.35" fill="#3f84bd" stroke="#1a1a2a" stroke-width="0.75"/>
<circle cx="268.18" cy="270.50" r="1.35" fill="#3f84bd" stroke="#1a1a2a" stroke-width="0.75"/>
<circle cx="269.38" cy="278.52" r="1.35" fill="#3f84bd" stroke="#1a1a2a" stroke-width="0.75"/>
<circle cx="274.73" cy="260.87" r="1.35" fill="#e8893a" stroke="#1a1a2a" stroke-width="0.75"/>
<circle cx="274.12" cy="264.08" r="1.35" fill="#e8893a" stroke="#1a1a2a" stroke-width="0.75"/>
<circle cx="275.33" cy="266.22" r="1.35" fill="#e8893a" stroke="#1a1a2a" stroke-width="0.75"/>
<rect x="158.70000000000002" y="233.3" width="119.00000000000003" height="73.5" fill="none" stroke="#222" stroke-width="0.9"/>
<line x1="156.10000000000002" y1="238.40" x2="158.70000000000002" y2="238.40" stroke="#222" stroke-width="0.8"/>
<line x1="156.10000000000002" y1="259.80" x2="158.70000000000002" y2="259.80" stroke="#222" stroke-width="0.8"/>
<line x1="156.10000000000002" y1="281.20" x2="158.70000000000002" y2="281.20" stroke="#222" stroke-width="0.8"/>
<line x1="156.10000000000002" y1="302.60" x2="158.70000000000002" y2="302.60" stroke="#222" stroke-width="0.8"/>
<line x1="161.68" y1="306.8" x2="161.68" y2="309.2" stroke="#222" stroke-width="0.8"/>
<line x1="167.63" y1="306.8" x2="167.63" y2="309.2" stroke="#222" stroke-width="0.8"/>
<line x1="173.58" y1="306.8" x2="173.58" y2="309.2" stroke="#222" stroke-width="0.8"/>
<line x1="179.53" y1="306.8" x2="179.53" y2="309.2" stroke="#222" stroke-width="0.8"/>
<line x1="185.48" y1="306.8" x2="185.48" y2="309.2" stroke="#222" stroke-width="0.8"/>
<line x1="191.43" y1="306.8" x2="191.43" y2="309.2" stroke="#222" stroke-width="0.8"/>
<line x1="197.38" y1="306.8" x2="197.38" y2="309.2" stroke="#222" stroke-width="0.8"/>
<line x1="203.33" y1="306.8" x2="203.33" y2="309.2" stroke="#222" stroke-width="0.8"/>
<line x1="209.28" y1="306.8" x2="209.28" y2="309.2" stroke="#222" stroke-width="0.8"/>
<line x1="215.23" y1="306.8" x2="215.23" y2="309.2" stroke="#222" stroke-width="0.8"/>
<line x1="221.18" y1="306.8" x2="221.18" y2="309.2" stroke="#222" stroke-width="0.8"/>
<line x1="227.13" y1="306.8" x2="227.13" y2="309.2" stroke="#222" stroke-width="0.8"/>
<line x1="233.08" y1="306.8" x2="233.08" y2="309.2" stroke="#222" stroke-width="0.8"/>
<line x1="239.03" y1="306.8" x2="239.03" y2="309.2" stroke="#222" stroke-width="0.8"/>
<line x1="244.98" y1="306.8" x2="244.98" y2="309.2" stroke="#222" stroke-width="0.8"/>
<line x1="250.93" y1="306.8" x2="250.93" y2="309.2" stroke="#222" stroke-width="0.8"/>
<line x1="256.88" y1="306.8" x2="256.88" y2="309.2" stroke="#222" stroke-width="0.8"/>
<line x1="262.83" y1="306.8" x2="262.83" y2="309.2" stroke="#222" stroke-width="0.8"/>
<line x1="268.78" y1="306.8" x2="268.78" y2="309.2" stroke="#222" stroke-width="0.8"/>
<line x1="274.73" y1="306.8" x2="274.73" y2="309.2" stroke="#222" stroke-width="0.8"/>
<text x="218.20" y="228.70" font-size="9.5" text-anchor="middle" fill="#222" >Y57X</text>
<text x="161.68" y="316.70" font-size="7.8" text-anchor="middle" fill="#222" >A</text>
<text x="167.63" y="316.70" font-size="7.8" text-anchor="middle" fill="#222" >C</text>
<text x="173.58" y="316.70" font-size="7.8" text-anchor="middle" fill="#222" >D</text>
<text x="179.53" y="316.70" font-size="7.8" text-anchor="middle" fill="#222" >E</text>
<text x="185.48" y="316.70" font-size="7.8" text-anchor="middle" fill="#222" >F</text>
<text x="191.43" y="316.70" font-size="7.8" text-anchor="middle" fill="#222" >G</text>
<text x="197.38" y="316.70" font-size="7.8" text-anchor="middle" fill="#222" >H</text>
<text x="203.33" y="316.70" font-size="7.8" text-anchor="middle" fill="#222" >I</text>
<text x="209.28" y="316.70" font-size="7.8" text-anchor="middle" fill="#222" >K</text>
<text x="215.23" y="316.70" font-size="7.8" text-anchor="middle" fill="#222" >L</text>
<text x="221.18" y="316.70" font-size="7.8" text-anchor="middle" fill="#222" >M</text>
<text x="227.13" y="316.70" font-size="7.8" text-anchor="middle" fill="#222" >N</text>
<text x="233.08" y="316.70" font-size="7.8" text-anchor="middle" fill="#222" >P</text>
<text x="239.03" y="316.70" font-size="7.8" text-anchor="middle" fill="#222" >Q</text>
<text x="244.98" y="316.70" font-size="7.8" text-anchor="middle" fill="#222" >R</text>
<text x="250.93" y="316.70" font-size="7.8" text-anchor="middle" fill="#222" >S</text>
<text x="256.88" y="316.70" font-size="7.8" text-anchor="middle" fill="#222" >T</text>
<text x="262.83" y="316.70" font-size="7.8" text-anchor="middle" fill="#222" >V</text>
<text x="268.78" y="316.70" font-size="7.8" text-anchor="middle" fill="#222" >W</text>
<text x="274.73" y="316.70" font-size="7.8" text-anchor="middle" fill="#222" >Y</text>
<rect x="288.20" y="238.40" width="4.76" height="6.10" fill="#467ca3"/>
<rect x="294.15" y="237.87" width="4.76" height="0.53" fill="#467ca3"/>
<rect x="300.10" y="238.40" width="4.76" height="4.17" fill="#467ca3"/>
<rect x="306.05" y="238.40" width="4.76" height="5.14" fill="#467ca3"/>
<rect x="312.00" y="238.40" width="4.76" height="7.49" fill="#467ca3"/>
<rect x="317.95" y="238.40" width="4.76" height="8.03" fill="#467ca3"/>
<rect x="323.90" y="238.40" width="4.76" height="3.21" fill="#467ca3"/>
<rect x="329.85" y="238.40" width="4.76" height="9.09" fill="#467ca3"/>
<rect x="335.80" y="238.40" width="4.76" height="1.07" fill="#467ca3"/>
<rect x="341.75" y="238.40" width="4.76" height="5.67" fill="#dc8336"/>
<rect x="347.70" y="238.08" width="4.76" height="0.32" fill="#467ca3"/>
<rect x="353.65" y="238.40" width="4.76" height="1.71" fill="#467ca3"/>
<rect x="359.60" y="238.40" width="4.76" height="2.68" fill="#467ca3"/>
<rect x="365.55" y="238.40" width="4.76" height="9.09" fill="#467ca3"/>
<rect x="371.50" y="238.40" width="4.76" height="4.71" fill="#467ca3"/>
<rect x="377.45" y="238.40" width="4.76" height="8.24" fill="#467ca3"/>
<rect x="383.40" y="238.40" width="4.76" height="11.24" fill="#467ca3"/>
<rect x="389.35" y="238.40" width="4.76" height="6.10" fill="#467ca3"/>
<rect x="395.30" y="238.40" width="4.76" height="12.09" fill="#467ca3"/>
<rect x="401.25" y="238.40" width="4.76" height="6.63" fill="#467ca3"/>
<line x1="287.6" y1="259.80" x2="406.6" y2="259.80" stroke="rgba(176,176,176,0.35)" stroke-width="0.8"/>
<line x1="287.6" y1="281.20" x2="406.6" y2="281.20" stroke="rgba(176,176,176,0.35)" stroke-width="0.8"/>
<line x1="287.6" y1="302.60" x2="406.6" y2="302.60" stroke="rgba(176,176,176,0.35)" stroke-width="0.8"/>
<circle cx="290.58" cy="240.54" r="1.35" fill="#3f84bd" stroke="#1a1a2a" stroke-width="0.75"/>
<circle cx="289.98" cy="246.64" r="1.35" fill="#3f84bd" stroke="#1a1a2a" stroke-width="0.75"/>
<circle cx="291.18" cy="246.96" r="1.35" fill="#3f84bd" stroke="#1a1a2a" stroke-width="0.75"/>
<circle cx="296.53" cy="235.62" r="1.35" fill="#3f84bd" stroke="#1a1a2a" stroke-width="0.75"/>
<circle cx="295.93" cy="237.33" r="1.35" fill="#3f84bd" stroke="#1a1a2a" stroke-width="0.75"/>
<circle cx="297.13" cy="240.54" r="1.35" fill="#3f84bd" stroke="#1a1a2a" stroke-width="0.75"/>
<circle cx="302.48" cy="238.40" r="1.35" fill="#3f84bd" stroke="#1a1a2a" stroke-width="0.75"/>
<circle cx="301.88" cy="243.75" r="1.35" fill="#3f84bd" stroke="#1a1a2a" stroke-width="0.75"/>
<circle cx="303.08" cy="246.96" r="1.35" fill="#3f84bd" stroke="#1a1a2a" stroke-width="0.75"/>
<circle cx="308.43" cy="242.68" r="1.35" fill="#3f84bd" stroke="#1a1a2a" stroke-width="0.75"/>
<circle cx="307.82" cy="243.75" r="1.35" fill="#3f84bd" stroke="#1a1a2a" stroke-width="0.75"/>
<circle cx="309.03" cy="245.89" r="1.35" fill="#3f84bd" stroke="#1a1a2a" stroke-width="0.75"/>
<circle cx="314.38" cy="244.82" r="1.35" fill="#3f84bd" stroke="#1a1a2a" stroke-width="0.75"/>
<circle cx="313.77" cy="249.10" r="1.35" fill="#3f84bd" stroke="#1a1a2a" stroke-width="0.75"/>
<circle cx="320.33" cy="242.68" r="1.35" fill="#3f84bd" stroke="#1a1a2a" stroke-width="0.75"/>
<circle cx="319.73" cy="250.17" r="1.35" fill="#3f84bd" stroke="#1a1a2a" stroke-width="0.75"/>
<circle cx="326.28" cy="237.87" r="1.35" fill="#3f84bd" stroke="#1a1a2a" stroke-width="0.75"/>
<circle cx="325.68" cy="241.61" r="1.35" fill="#3f84bd" stroke="#1a1a2a" stroke-width="0.75"/>
<circle cx="326.88" cy="245.89" r="1.35" fill="#3f84bd" stroke="#1a1a2a" stroke-width="0.75"/>
<circle cx="332.23" cy="245.89" r="1.35" fill="#3f84bd" stroke="#1a1a2a" stroke-width="0.75"/>
<circle cx="331.62" cy="246.96" r="1.35" fill="#3f84bd" stroke="#1a1a2a" stroke-width="0.75"/>
<circle cx="332.83" cy="251.24" r="1.35" fill="#3f84bd" stroke="#1a1a2a" stroke-width="0.75"/>
<circle cx="338.18" cy="237.65" r="1.35" fill="#3f84bd" stroke="#1a1a2a" stroke-width="0.75"/>
<circle cx="337.57" cy="239.47" r="1.35" fill="#3f84bd" stroke="#1a1a2a" stroke-width="0.75"/>
<circle cx="338.78" cy="242.15" r="1.35" fill="#3f84bd" stroke="#1a1a2a" stroke-width="0.75"/>
<circle cx="344.12" cy="242.68" r="1.35" fill="#e8893a" stroke="#1a1a2a" stroke-width="0.75"/>
<circle cx="343.52" cy="244.82" r="1.35" fill="#e8893a" stroke="#1a1a2a" stroke-width="0.75"/>
<circle cx="350.08" cy="237.65" r="1.35" fill="#3f84bd" stroke="#1a1a2a" stroke-width="0.75"/>
<circle cx="349.48" cy="238.08" r="1.35" fill="#3f84bd" stroke="#1a1a2a" stroke-width="0.75"/>
<circle cx="356.03" cy="238.94" r="1.35" fill="#3f84bd" stroke="#1a1a2a" stroke-width="0.75"/>
<circle cx="355.43" cy="240.54" r="1.35" fill="#3f84bd" stroke="#1a1a2a" stroke-width="0.75"/>
<circle cx="361.98" cy="240.54" r="1.35" fill="#3f84bd" stroke="#1a1a2a" stroke-width="0.75"/>
<circle cx="361.38" cy="242.15" r="1.35" fill="#3f84bd" stroke="#1a1a2a" stroke-width="0.75"/>
<circle cx="367.93" cy="241.61" r="1.35" fill="#3f84bd" stroke="#1a1a2a" stroke-width="0.75"/>
<circle cx="367.32" cy="250.17" r="1.35" fill="#3f84bd" stroke="#1a1a2a" stroke-width="0.75"/>
<circle cx="368.53" cy="252.31" r="1.35" fill="#3f84bd" stroke="#1a1a2a" stroke-width="0.75"/>
<circle cx="373.88" cy="241.08" r="1.35" fill="#3f84bd" stroke="#1a1a2a" stroke-width="0.75"/>
<circle cx="373.27" cy="243.22" r="1.35" fill="#3f84bd" stroke="#1a1a2a" stroke-width="0.75"/>
<circle cx="374.48" cy="245.89" r="1.35" fill="#3f84bd" stroke="#1a1a2a" stroke-width="0.75"/>
<circle cx="379.83" cy="241.61" r="1.35" fill="#3f84bd" stroke="#1a1a2a" stroke-width="0.75"/>
<circle cx="379.23" cy="248.03" r="1.35" fill="#3f84bd" stroke="#1a1a2a" stroke-width="0.75"/>
<circle cx="380.43" cy="250.17" r="1.35" fill="#3f84bd" stroke="#1a1a2a" stroke-width="0.75"/>
<circle cx="385.78" cy="245.89" r="1.35" fill="#3f84bd" stroke="#1a1a2a" stroke-width="0.75"/>
<circle cx="385.18" cy="249.10" r="1.35" fill="#3f84bd" stroke="#1a1a2a" stroke-width="0.75"/>
<circle cx="386.38" cy="253.38" r="1.35" fill="#3f84bd" stroke="#1a1a2a" stroke-width="0.75"/>
<circle cx="391.73" cy="241.61" r="1.35" fill="#3f84bd" stroke="#1a1a2a" stroke-width="0.75"/>
<circle cx="391.12" cy="243.22" r="1.35" fill="#3f84bd" stroke="#1a1a2a" stroke-width="0.75"/>
<circle cx="392.33" cy="249.10" r="1.35" fill="#3f84bd" stroke="#1a1a2a" stroke-width="0.75"/>
<circle cx="397.68" cy="250.17" r="1.35" fill="#3f84bd" stroke="#1a1a2a" stroke-width="0.75"/>
<circle cx="397.07" cy="252.31" r="1.35" fill="#3f84bd" stroke="#1a1a2a" stroke-width="0.75"/>
<circle cx="403.62" cy="242.68" r="1.35" fill="#3f84bd" stroke="#1a1a2a" stroke-width="0.75"/>
<circle cx="403.02" cy="245.89" r="1.35" fill="#3f84bd" stroke="#1a1a2a" stroke-width="0.75"/>
<rect x="287.6" y="233.3" width="119.0" height="73.5" fill="none" stroke="#222" stroke-width="0.9"/>
<line x1="285.0" y1="238.40" x2="287.6" y2="238.40" stroke="#222" stroke-width="0.8"/>
<line x1="285.0" y1="259.80" x2="287.6" y2="259.80" stroke="#222" stroke-width="0.8"/>
<line x1="285.0" y1="281.20" x2="287.6" y2="281.20" stroke="#222" stroke-width="0.8"/>
<line x1="285.0" y1="302.60" x2="287.6" y2="302.60" stroke="#222" stroke-width="0.8"/>
<line x1="290.58" y1="306.8" x2="290.58" y2="309.2" stroke="#222" stroke-width="0.8"/>
<line x1="296.53" y1="306.8" x2="296.53" y2="309.2" stroke="#222" stroke-width="0.8"/>
<line x1="302.48" y1="306.8" x2="302.48" y2="309.2" stroke="#222" stroke-width="0.8"/>
<line x1="308.43" y1="306.8" x2="308.43" y2="309.2" stroke="#222" stroke-width="0.8"/>
<line x1="314.38" y1="306.8" x2="314.38" y2="309.2" stroke="#222" stroke-width="0.8"/>
<line x1="320.33" y1="306.8" x2="320.33" y2="309.2" stroke="#222" stroke-width="0.8"/>
<line x1="326.28" y1="306.8" x2="326.28" y2="309.2" stroke="#222" stroke-width="0.8"/>
<line x1="332.23" y1="306.8" x2="332.23" y2="309.2" stroke="#222" stroke-width="0.8"/>
<line x1="338.18" y1="306.8" x2="338.18" y2="309.2" stroke="#222" stroke-width="0.8"/>
<line x1="344.12" y1="306.8" x2="344.12" y2="309.2" stroke="#222" stroke-width="0.8"/>
<line x1="350.08" y1="306.8" x2="350.08" y2="309.2" stroke="#222" stroke-width="0.8"/>
<line x1="356.03" y1="306.8" x2="356.03" y2="309.2" stroke="#222" stroke-width="0.8"/>
<line x1="361.98" y1="306.8" x2="361.98" y2="309.2" stroke="#222" stroke-width="0.8"/>
<line x1="367.93" y1="306.8" x2="367.93" y2="309.2" stroke="#222" stroke-width="0.8"/>
<line x1="373.88" y1="306.8" x2="373.88" y2="309.2" stroke="#222" stroke-width="0.8"/>
<line x1="379.83" y1="306.8" x2="379.83" y2="309.2" stroke="#222" stroke-width="0.8"/>
<line x1="385.78" y1="306.8" x2="385.78" y2="309.2" stroke="#222" stroke-width="0.8"/>
<line x1="391.73" y1="306.8" x2="391.73" y2="309.2" stroke="#222" stroke-width="0.8"/>
<line x1="397.68" y1="306.8" x2="397.68" y2="309.2" stroke="#222" stroke-width="0.8"/>
<line x1="403.62" y1="306.8" x2="403.62" y2="309.2" stroke="#222" stroke-width="0.8"/>
<text x="347.10" y="228.70" font-size="9.5" text-anchor="middle" fill="#222" >L59X</text>
<text x="290.58" y="316.70" font-size="7.8" text-anchor="middle" fill="#222" >A</text>
<text x="296.53" y="316.70" font-size="7.8" text-anchor="middle" fill="#222" >C</text>
<text x="302.48" y="316.70" font-size="7.8" text-anchor="middle" fill="#222" >D</text>
<text x="308.43" y="316.70" font-size="7.8" text-anchor="middle" fill="#222" >E</text>
<text x="314.38" y="316.70" font-size="7.8" text-anchor="middle" fill="#222" >F</text>
<text x="320.33" y="316.70" font-size="7.8" text-anchor="middle" fill="#222" >G</text>
<text x="326.28" y="316.70" font-size="7.8" text-anchor="middle" fill="#222" >H</text>
<text x="332.23" y="316.70" font-size="7.8" text-anchor="middle" fill="#222" >I</text>
<text x="338.18" y="316.70" font-size="7.8" text-anchor="middle" fill="#222" >K</text>
<text x="344.12" y="316.70" font-size="7.8" text-anchor="middle" fill="#222" >L</text>
<text x="350.08" y="316.70" font-size="7.8" text-anchor="middle" fill="#222" >M</text>
<text x="356.03" y="316.70" font-size="7.8" text-anchor="middle" fill="#222" >N</text>
<text x="361.98" y="316.70" font-size="7.8" text-anchor="middle" fill="#222" >P</text>
<text x="367.93" y="316.70" font-size="7.8" text-anchor="middle" fill="#222" >Q</text>
<text x="373.88" y="316.70" font-size="7.8" text-anchor="middle" fill="#222" >R</text>
<text x="379.83" y="316.70" font-size="7.8" text-anchor="middle" fill="#222" >S</text>
<text x="385.78" y="316.70" font-size="7.8" text-anchor="middle" fill="#222" >T</text>
<text x="391.73" y="316.70" font-size="7.8" text-anchor="middle" fill="#222" >V</text>
<text x="397.68" y="316.70" font-size="7.8" text-anchor="middle" fill="#222" >W</text>
<text x="403.62" y="316.70" font-size="7.8" text-anchor="middle" fill="#222" >Y</text>
<rect x="417.10" y="238.40" width="4.76" height="13.59" fill="#467ca3"/>
<rect x="423.05" y="238.40" width="4.76" height="12.41" fill="#467ca3"/>
<rect x="429.00" y="238.40" width="4.76" height="1.07" fill="#467ca3"/>
<rect x="434.95" y="238.40" width="4.76" height="14.98" fill="#467ca3"/>
<rect x="440.90" y="238.40" width="4.76" height="7.81" fill="#467ca3"/>
<rect x="446.85" y="238.40" width="4.76" height="5.88" fill="#467ca3"/>
<rect x="452.80" y="238.40" width="4.76" height="9.09" fill="#467ca3"/>
<rect x="458.75" y="238.40" width="4.76" height="3.96" fill="#467ca3"/>
<rect x="464.70" y="238.40" width="4.76" height="26.22" fill="#467ca3"/>
<rect x="470.65" y="238.40" width="4.76" height="3.21" fill="#467ca3"/>
<rect x="476.60" y="238.40" width="4.76" height="1.07" fill="#467ca3"/>
<rect x="482.55" y="238.40" width="4.76" height="4.60" fill="#467ca3"/>
<rect x="488.50" y="238.40" width="4.76" height="14.98" fill="#467ca3"/>
<rect x="494.45" y="238.40" width="4.76" height="14.34" fill="#dc8336"/>
<rect x="500.40" y="238.40" width="4.76" height="11.24" fill="#467ca3"/>
<rect x="506.35" y="238.40" width="4.76" height="10.59" fill="#467ca3"/>
<rect x="512.29" y="238.40" width="4.76" height="4.60" fill="#467ca3"/>
<rect x="518.25" y="238.40" width="4.76" height="1.60" fill="#467ca3"/>
<rect x="524.20" y="238.40" width="4.76" height="20.33" fill="#467ca3"/>
<rect x="530.14" y="238.40" width="4.76" height="10.59" fill="#467ca3"/>
<line x1="416.50000000000006" y1="259.80" x2="535.5" y2="259.80" stroke="rgba(176,176,176,0.35)" stroke-width="0.8"/>
<line x1="416.50000000000006" y1="281.20" x2="535.5" y2="281.20" stroke="rgba(176,176,176,0.35)" stroke-width="0.8"/>
<line x1="416.50000000000006" y1="302.60" x2="535.5" y2="302.60" stroke="rgba(176,176,176,0.35)" stroke-width="0.8"/>
<circle cx="419.48" cy="250.17" r="1.35" fill="#3f84bd" stroke="#1a1a2a" stroke-width="0.75"/>
<circle cx="418.88" cy="251.78" r="1.35" fill="#3f84bd" stroke="#1a1a2a" stroke-width="0.75"/>
<circle cx="420.08" cy="255.52" r="1.35" fill="#3f84bd" stroke="#1a1a2a" stroke-width="0.75"/>
<circle cx="425.43" cy="249.10" r="1.35" fill="#3f84bd" stroke="#1a1a2a" stroke-width="0.75"/>
<circle cx="424.83" cy="251.24" r="1.35" fill="#3f84bd" stroke="#1a1a2a" stroke-width="0.75"/>
<circle cx="431.38" cy="239.47" r="1.35" fill="#3f84bd" stroke="#1a1a2a" stroke-width="0.75"/>
<circle cx="430.78" cy="240.00" r="1.35" fill="#3f84bd" stroke="#1a1a2a" stroke-width="0.75"/>
<circle cx="437.33" cy="250.17" r="1.35" fill="#3f84bd" stroke="#1a1a2a" stroke-width="0.75"/>
<circle cx="436.73" cy="254.45" r="1.35" fill="#3f84bd" stroke="#1a1a2a" stroke-width="0.75"/>
<circle cx="437.93" cy="256.59" r="1.35" fill="#3f84bd" stroke="#1a1a2a" stroke-width="0.75"/>
<circle cx="443.28" cy="244.82" r="1.35" fill="#3f84bd" stroke="#1a1a2a" stroke-width="0.75"/>
<circle cx="442.68" cy="246.96" r="1.35" fill="#3f84bd" stroke="#1a1a2a" stroke-width="0.75"/>
<circle cx="443.88" cy="248.03" r="1.35" fill="#3f84bd" stroke="#1a1a2a" stroke-width="0.75"/>
<circle cx="449.23" cy="242.36" r="1.35" fill="#3f84bd" stroke="#1a1a2a" stroke-width="0.75"/>
<circle cx="448.62" cy="248.89" r="1.35" fill="#3f84bd" stroke="#1a1a2a" stroke-width="0.75"/>
<circle cx="455.18" cy="245.89" r="1.35" fill="#3f84bd" stroke="#1a1a2a" stroke-width="0.75"/>
<circle cx="454.58" cy="251.78" r="1.35" fill="#3f84bd" stroke="#1a1a2a" stroke-width="0.75"/>
<circle cx="461.13" cy="237.33" r="1.35" fill="#3f84bd" stroke="#1a1a2a" stroke-width="0.75"/>
<circle cx="460.53" cy="243.75" r="1.35" fill="#3f84bd" stroke="#1a1a2a" stroke-width="0.75"/>
<circle cx="461.73" cy="246.96" r="1.35" fill="#3f84bd" stroke="#1a1a2a" stroke-width="0.75"/>
<circle cx="467.08" cy="263.01" r="1.35" fill="#3f84bd" stroke="#1a1a2a" stroke-width="0.75"/>
<circle cx="466.48" cy="267.29" r="1.35" fill="#3f84bd" stroke="#1a1a2a" stroke-width="0.75"/>
<circle cx="473.03" cy="240.00" r="1.35" fill="#3f84bd" stroke="#1a1a2a" stroke-width="0.75"/>
<circle cx="472.43" cy="242.15" r="1.35" fill="#3f84bd" stroke="#1a1a2a" stroke-width="0.75"/>
<circle cx="478.98" cy="239.47" r="1.35" fill="#3f84bd" stroke="#1a1a2a" stroke-width="0.75"/>
<circle cx="478.38" cy="241.08" r="1.35" fill="#3f84bd" stroke="#1a1a2a" stroke-width="0.75"/>
<circle cx="484.93" cy="241.61" r="1.35" fill="#3f84bd" stroke="#1a1a2a" stroke-width="0.75"/>
<circle cx="484.32" cy="243.75" r="1.35" fill="#3f84bd" stroke="#1a1a2a" stroke-width="0.75"/>
<circle cx="485.53" cy="244.82" r="1.35" fill="#3f84bd" stroke="#1a1a2a" stroke-width="0.75"/>
<circle cx="490.88" cy="249.10" r="1.35" fill="#3f84bd" stroke="#1a1a2a" stroke-width="0.75"/>
<circle cx="490.27" cy="255.52" r="1.35" fill="#3f84bd" stroke="#1a1a2a" stroke-width="0.75"/>
<circle cx="491.48" cy="258.73" r="1.35" fill="#3f84bd" stroke="#1a1a2a" stroke-width="0.75"/>
<circle cx="496.83" cy="251.24" r="1.35" fill="#e8893a" stroke="#1a1a2a" stroke-width="0.75"/>
<circle cx="496.23" cy="253.38" r="1.35" fill="#e8893a" stroke="#1a1a2a" stroke-width="0.75"/>
<circle cx="497.43" cy="255.52" r="1.35" fill="#e8893a" stroke="#1a1a2a" stroke-width="0.75"/>
<circle cx="502.78" cy="248.03" r="1.35" fill="#3f84bd" stroke="#1a1a2a" stroke-width="0.75"/>
<circle cx="502.18" cy="249.10" r="1.35" fill="#3f84bd" stroke="#1a1a2a" stroke-width="0.75"/>
<circle cx="503.38" cy="251.24" r="1.35" fill="#3f84bd" stroke="#1a1a2a" stroke-width="0.75"/>
<circle cx="508.73" cy="246.96" r="1.35" fill="#3f84bd" stroke="#1a1a2a" stroke-width="0.75"/>
<circle cx="508.12" cy="250.17" r="1.35" fill="#3f84bd" stroke="#1a1a2a" stroke-width="0.75"/>
<circle cx="514.67" cy="240.54" r="1.35" fill="#3f84bd" stroke="#1a1a2a" stroke-width="0.75"/>
<circle cx="514.07" cy="243.75" r="1.35" fill="#3f84bd" stroke="#1a1a2a" stroke-width="0.75"/>
<circle cx="515.27" cy="248.03" r="1.35" fill="#3f84bd" stroke="#1a1a2a" stroke-width="0.75"/>
<circle cx="520.62" cy="235.72" r="1.35" fill="#3f84bd" stroke="#1a1a2a" stroke-width="0.75"/>
<circle cx="520.02" cy="237.33" r="1.35" fill="#3f84bd" stroke="#1a1a2a" stroke-width="0.75"/>
<circle cx="521.23" cy="241.61" r="1.35" fill="#3f84bd" stroke="#1a1a2a" stroke-width="0.75"/>
<circle cx="526.58" cy="258.73" r="1.35" fill="#3f84bd" stroke="#1a1a2a" stroke-width="0.75"/>
<circle cx="525.98" cy="259.26" r="1.35" fill="#3f84bd" stroke="#1a1a2a" stroke-width="0.75"/>
<circle cx="532.52" cy="245.89" r="1.35" fill="#3f84bd" stroke="#1a1a2a" stroke-width="0.75"/>
<circle cx="531.92" cy="249.10" r="1.35" fill="#3f84bd" stroke="#1a1a2a" stroke-width="0.75"/>
<rect x="416.50000000000006" y="233.3" width="118.99999999999994" height="73.5" fill="none" stroke="#222" stroke-width="0.9"/>
<line x1="413.90000000000003" y1="238.40" x2="416.50000000000006" y2="238.40" stroke="#222" stroke-width="0.8"/>
<line x1="413.90000000000003" y1="259.80" x2="416.50000000000006" y2="259.80" stroke="#222" stroke-width="0.8"/>
<line x1="413.90000000000003" y1="281.20" x2="416.50000000000006" y2="281.20" stroke="#222" stroke-width="0.8"/>
<line x1="413.90000000000003" y1="302.60" x2="416.50000000000006" y2="302.60" stroke="#222" stroke-width="0.8"/>
<line x1="419.48" y1="306.8" x2="419.48" y2="309.2" stroke="#222" stroke-width="0.8"/>
<line x1="425.43" y1="306.8" x2="425.43" y2="309.2" stroke="#222" stroke-width="0.8"/>
<line x1="431.38" y1="306.8" x2="431.38" y2="309.2" stroke="#222" stroke-width="0.8"/>
<line x1="437.33" y1="306.8" x2="437.33" y2="309.2" stroke="#222" stroke-width="0.8"/>
<line x1="443.28" y1="306.8" x2="443.28" y2="309.2" stroke="#222" stroke-width="0.8"/>
<line x1="449.23" y1="306.8" x2="449.23" y2="309.2" stroke="#222" stroke-width="0.8"/>
<line x1="455.18" y1="306.8" x2="455.18" y2="309.2" stroke="#222" stroke-width="0.8"/>
<line x1="461.13" y1="306.8" x2="461.13" y2="309.2" stroke="#222" stroke-width="0.8"/>
<line x1="467.08" y1="306.8" x2="467.08" y2="309.2" stroke="#222" stroke-width="0.8"/>
<line x1="473.03" y1="306.8" x2="473.03" y2="309.2" stroke="#222" stroke-width="0.8"/>
<line x1="478.98" y1="306.8" x2="478.98" y2="309.2" stroke="#222" stroke-width="0.8"/>
<line x1="484.93" y1="306.8" x2="484.93" y2="309.2" stroke="#222" stroke-width="0.8"/>
<line x1="490.88" y1="306.8" x2="490.88" y2="309.2" stroke="#222" stroke-width="0.8"/>
<line x1="496.83" y1="306.8" x2="496.83" y2="309.2" stroke="#222" stroke-width="0.8"/>
<line x1="502.78" y1="306.8" x2="502.78" y2="309.2" stroke="#222" stroke-width="0.8"/>
<line x1="508.73" y1="306.8" x2="508.73" y2="309.2" stroke="#222" stroke-width="0.8"/>
<line x1="514.67" y1="306.8" x2="514.67" y2="309.2" stroke="#222" stroke-width="0.8"/>
<line x1="520.62" y1="306.8" x2="520.62" y2="309.2" stroke="#222" stroke-width="0.8"/>
<line x1="526.58" y1="306.8" x2="526.58" y2="309.2" stroke="#222" stroke-width="0.8"/>
<line x1="532.52" y1="306.8" x2="532.52" y2="309.2" stroke="#222" stroke-width="0.8"/>
<text x="476.00" y="228.70" font-size="9.5" text-anchor="middle" fill="#222" >Q60X</text>
<text x="419.48" y="316.70" font-size="7.8" text-anchor="middle" fill="#222" >A</text>
<text x="425.43" y="316.70" font-size="7.8" text-anchor="middle" fill="#222" >C</text>
<text x="431.38" y="316.70" font-size="7.8" text-anchor="middle" fill="#222" >D</text>
<text x="437.33" y="316.70" font-size="7.8" text-anchor="middle" fill="#222" >E</text>
<text x="443.28" y="316.70" font-size="7.8" text-anchor="middle" fill="#222" >F</text>
<text x="449.23" y="316.70" font-size="7.8" text-anchor="middle" fill="#222" >G</text>
<text x="455.18" y="316.70" font-size="7.8" text-anchor="middle" fill="#222" >H</text>
<text x="461.13" y="316.70" font-size="7.8" text-anchor="middle" fill="#222" >I</text>
<text x="467.08" y="316.70" font-size="7.8" text-anchor="middle" fill="#222" >K</text>
<text x="473.03" y="316.70" font-size="7.8" text-anchor="middle" fill="#222" >L</text>
<text x="478.98" y="316.70" font-size="7.8" text-anchor="middle" fill="#222" >M</text>
<text x="484.93" y="316.70" font-size="7.8" text-anchor="middle" fill="#222" >N</text>
<text x="490.88" y="316.70" font-size="7.8" text-anchor="middle" fill="#222" >P</text>
<text x="496.83" y="316.70" font-size="7.8" text-anchor="middle" fill="#222" >Q</text>
<text x="502.78" y="316.70" font-size="7.8" text-anchor="middle" fill="#222" >R</text>
<text x="508.73" y="316.70" font-size="7.8" text-anchor="middle" fill="#222" >S</text>
<text x="514.67" y="316.70" font-size="7.8" text-anchor="middle" fill="#222" >T</text>
<text x="520.62" y="316.70" font-size="7.8" text-anchor="middle" fill="#222" >V</text>
<text x="526.58" y="316.70" font-size="7.8" text-anchor="middle" fill="#222" >W</text>
<text x="532.52" y="316.70" font-size="7.8" text-anchor="middle" fill="#222" >Y</text>
<rect x="546.00" y="238.40" width="4.76" height="27.39" fill="#467ca3"/>
<rect x="551.94" y="238.40" width="4.76" height="22.47" fill="#467ca3"/>
<rect x="557.89" y="238.40" width="4.76" height="62.06" fill="#467ca3"/>
<rect x="563.85" y="238.40" width="4.76" height="25.47" fill="#467ca3"/>
<rect x="569.79" y="238.40" width="4.76" height="19.05" fill="#dc8336"/>
<rect x="575.75" y="238.40" width="4.76" height="25.89" fill="#467ca3"/>
<rect x="581.69" y="238.40" width="4.76" height="2.14" fill="#467ca3"/>
<rect x="587.64" y="238.40" width="4.76" height="15.30" fill="#467ca3"/>
<rect x="593.60" y="238.40" width="4.76" height="40.66" fill="#467ca3"/>
<rect x="599.54" y="238.40" width="4.76" height="19.79" fill="#467ca3"/>
<rect x="605.50" y="238.40" width="4.76" height="22.47" fill="#467ca3"/>
<rect x="611.44" y="238.40" width="4.76" height="41.73" fill="#467ca3"/>
<rect x="617.39" y="238.40" width="4.76" height="24.08" fill="#467ca3"/>
<rect x="623.35" y="238.40" width="4.76" height="41.73" fill="#467ca3"/>
<rect x="629.29" y="238.40" width="4.76" height="16.48" fill="#467ca3"/>
<rect x="635.25" y="238.40" width="4.76" height="31.03" fill="#467ca3"/>
<rect x="641.19" y="238.40" width="4.76" height="29.96" fill="#467ca3"/>
<rect x="647.14" y="238.40" width="4.76" height="31.03" fill="#467ca3"/>
<rect x="653.10" y="237.33" width="4.76" height="1.07" fill="#467ca3"/>
<rect x="659.04" y="238.40" width="4.76" height="6.42" fill="#467ca3"/>
<line x1="545.4" y1="259.80" x2="664.4" y2="259.80" stroke="rgba(176,176,176,0.35)" stroke-width="0.8"/>
<line x1="545.4" y1="281.20" x2="664.4" y2="281.20" stroke="rgba(176,176,176,0.35)" stroke-width="0.8"/>
<line x1="545.4" y1="302.60" x2="664.4" y2="302.60" stroke="rgba(176,176,176,0.35)" stroke-width="0.8"/>
<circle cx="548.38" cy="260.87" r="1.35" fill="#3f84bd" stroke="#1a1a2a" stroke-width="0.75"/>
<circle cx="547.77" cy="261.94" r="1.35" fill="#3f84bd" stroke="#1a1a2a" stroke-width="0.75"/>
<circle cx="548.98" cy="270.18" r="1.35" fill="#3f84bd" stroke="#1a1a2a" stroke-width="0.75"/>
<circle cx="554.32" cy="256.59" r="1.35" fill="#3f84bd" stroke="#1a1a2a" stroke-width="0.75"/>
<circle cx="553.72" cy="258.73" r="1.35" fill="#3f84bd" stroke="#1a1a2a" stroke-width="0.75"/>
<circle cx="560.27" cy="295.11" r="1.35" fill="#3f84bd" stroke="#1a1a2a" stroke-width="0.75"/>
<circle cx="559.67" cy="299.39" r="1.35" fill="#3f84bd" stroke="#1a1a2a" stroke-width="0.75"/>
<circle cx="566.23" cy="254.13" r="1.35" fill="#3f84bd" stroke="#1a1a2a" stroke-width="0.75"/>
<circle cx="565.62" cy="264.08" r="1.35" fill="#3f84bd" stroke="#1a1a2a" stroke-width="0.75"/>
<circle cx="566.83" cy="274.78" r="1.35" fill="#3f84bd" stroke="#1a1a2a" stroke-width="0.75"/>
<circle cx="572.17" cy="252.31" r="1.35" fill="#e8893a" stroke="#1a1a2a" stroke-width="0.75"/>
<circle cx="571.57" cy="259.80" r="1.35" fill="#e8893a" stroke="#1a1a2a" stroke-width="0.75"/>
<circle cx="572.77" cy="260.87" r="1.35" fill="#e8893a" stroke="#1a1a2a" stroke-width="0.75"/>
<circle cx="578.12" cy="253.38" r="1.35" fill="#3f84bd" stroke="#1a1a2a" stroke-width="0.75"/>
<circle cx="577.52" cy="257.66" r="1.35" fill="#3f84bd" stroke="#1a1a2a" stroke-width="0.75"/>
<circle cx="578.73" cy="279.06" r="1.35" fill="#3f84bd" stroke="#1a1a2a" stroke-width="0.75"/>
<circle cx="584.07" cy="237.87" r="1.35" fill="#3f84bd" stroke="#1a1a2a" stroke-width="0.75"/>
<circle cx="583.47" cy="241.61" r="1.35" fill="#3f84bd" stroke="#1a1a2a" stroke-width="0.75"/>
<circle cx="590.02" cy="251.24" r="1.35" fill="#3f84bd" stroke="#1a1a2a" stroke-width="0.75"/>
<circle cx="589.42" cy="253.38" r="1.35" fill="#3f84bd" stroke="#1a1a2a" stroke-width="0.75"/>
<circle cx="595.98" cy="276.92" r="1.35" fill="#3f84bd" stroke="#1a1a2a" stroke-width="0.75"/>
<circle cx="595.38" cy="279.06" r="1.35" fill="#3f84bd" stroke="#1a1a2a" stroke-width="0.75"/>
<circle cx="596.58" cy="282.27" r="1.35" fill="#3f84bd" stroke="#1a1a2a" stroke-width="0.75"/>
<circle cx="601.92" cy="254.45" r="1.35" fill="#3f84bd" stroke="#1a1a2a" stroke-width="0.75"/>
<circle cx="601.32" cy="256.59" r="1.35" fill="#3f84bd" stroke="#1a1a2a" stroke-width="0.75"/>
<circle cx="607.88" cy="251.24" r="1.35" fill="#3f84bd" stroke="#1a1a2a" stroke-width="0.75"/>
<circle cx="607.27" cy="257.66" r="1.35" fill="#3f84bd" stroke="#1a1a2a" stroke-width="0.75"/>
<circle cx="608.48" cy="258.73" r="1.35" fill="#3f84bd" stroke="#1a1a2a" stroke-width="0.75"/>
<circle cx="613.82" cy="280.13" r="1.35" fill="#3f84bd" stroke="#1a1a2a" stroke-width="0.75"/>
<circle cx="613.22" cy="285.48" r="1.35" fill="#3f84bd" stroke="#1a1a2a" stroke-width="0.75"/>
<circle cx="619.77" cy="260.87" r="1.35" fill="#3f84bd" stroke="#1a1a2a" stroke-width="0.75"/>
<circle cx="619.17" cy="264.08" r="1.35" fill="#3f84bd" stroke="#1a1a2a" stroke-width="0.75"/>
<circle cx="625.73" cy="280.13" r="1.35" fill="#3f84bd" stroke="#1a1a2a" stroke-width="0.75"/>
<circle cx="625.12" cy="283.34" r="1.35" fill="#3f84bd" stroke="#1a1a2a" stroke-width="0.75"/>
<circle cx="631.67" cy="252.31" r="1.35" fill="#3f84bd" stroke="#1a1a2a" stroke-width="0.75"/>
<circle cx="631.07" cy="254.45" r="1.35" fill="#3f84bd" stroke="#1a1a2a" stroke-width="0.75"/>
<circle cx="637.62" cy="268.36" r="1.35" fill="#3f84bd" stroke="#1a1a2a" stroke-width="0.75"/>
<circle cx="637.02" cy="275.85" r="1.35" fill="#3f84bd" stroke="#1a1a2a" stroke-width="0.75"/>
<circle cx="643.57" cy="256.59" r="1.35" fill="#3f84bd" stroke="#1a1a2a" stroke-width="0.75"/>
<circle cx="642.97" cy="267.29" r="1.35" fill="#3f84bd" stroke="#1a1a2a" stroke-width="0.75"/>
<circle cx="644.17" cy="276.92" r="1.35" fill="#3f84bd" stroke="#1a1a2a" stroke-width="0.75"/>
<circle cx="649.52" cy="263.01" r="1.35" fill="#3f84bd" stroke="#1a1a2a" stroke-width="0.75"/>
<circle cx="648.92" cy="272.64" r="1.35" fill="#3f84bd" stroke="#1a1a2a" stroke-width="0.75"/>
<circle cx="650.12" cy="274.78" r="1.35" fill="#3f84bd" stroke="#1a1a2a" stroke-width="0.75"/>
<circle cx="655.48" cy="236.26" r="1.35" fill="#3f84bd" stroke="#1a1a2a" stroke-width="0.75"/>
<circle cx="654.88" cy="237.87" r="1.35" fill="#3f84bd" stroke="#1a1a2a" stroke-width="0.75"/>
<circle cx="661.42" cy="241.29" r="1.35" fill="#3f84bd" stroke="#1a1a2a" stroke-width="0.75"/>
<circle cx="660.82" cy="245.89" r="1.35" fill="#3f84bd" stroke="#1a1a2a" stroke-width="0.75"/>
<circle cx="662.02" cy="247.50" r="1.35" fill="#3f84bd" stroke="#1a1a2a" stroke-width="0.75"/>
<rect x="545.4" y="233.3" width="119.0" height="73.5" fill="none" stroke="#222" stroke-width="0.9"/>
<line x1="542.8" y1="238.40" x2="545.4" y2="238.40" stroke="#222" stroke-width="0.8"/>
<line x1="542.8" y1="259.80" x2="545.4" y2="259.80" stroke="#222" stroke-width="0.8"/>
<line x1="542.8" y1="281.20" x2="545.4" y2="281.20" stroke="#222" stroke-width="0.8"/>
<line x1="542.8" y1="302.60" x2="545.4" y2="302.60" stroke="#222" stroke-width="0.8"/>
<line x1="548.38" y1="306.8" x2="548.38" y2="309.2" stroke="#222" stroke-width="0.8"/>
<line x1="554.32" y1="306.8" x2="554.32" y2="309.2" stroke="#222" stroke-width="0.8"/>
<line x1="560.27" y1="306.8" x2="560.27" y2="309.2" stroke="#222" stroke-width="0.8"/>
<line x1="566.23" y1="306.8" x2="566.23" y2="309.2" stroke="#222" stroke-width="0.8"/>
<line x1="572.17" y1="306.8" x2="572.17" y2="309.2" stroke="#222" stroke-width="0.8"/>
<line x1="578.12" y1="306.8" x2="578.12" y2="309.2" stroke="#222" stroke-width="0.8"/>
<line x1="584.07" y1="306.8" x2="584.07" y2="309.2" stroke="#222" stroke-width="0.8"/>
<line x1="590.02" y1="306.8" x2="590.02" y2="309.2" stroke="#222" stroke-width="0.8"/>
<line x1="595.98" y1="306.8" x2="595.98" y2="309.2" stroke="#222" stroke-width="0.8"/>
<line x1="601.92" y1="306.8" x2="601.92" y2="309.2" stroke="#222" stroke-width="0.8"/>
<line x1="607.88" y1="306.8" x2="607.88" y2="309.2" stroke="#222" stroke-width="0.8"/>
<line x1="613.82" y1="306.8" x2="613.82" y2="309.2" stroke="#222" stroke-width="0.8"/>
<line x1="619.77" y1="306.8" x2="619.77" y2="309.2" stroke="#222" stroke-width="0.8"/>
<line x1="625.73" y1="306.8" x2="625.73" y2="309.2" stroke="#222" stroke-width="0.8"/>
<line x1="631.67" y1="306.8" x2="631.67" y2="309.2" stroke="#222" stroke-width="0.8"/>
<line x1="637.62" y1="306.8" x2="637.62" y2="309.2" stroke="#222" stroke-width="0.8"/>
<line x1="643.57" y1="306.8" x2="643.57" y2="309.2" stroke="#222" stroke-width="0.8"/>
<line x1="649.52" y1="306.8" x2="649.52" y2="309.2" stroke="#222" stroke-width="0.8"/>
<line x1="655.48" y1="306.8" x2="655.48" y2="309.2" stroke="#222" stroke-width="0.8"/>
<line x1="661.42" y1="306.8" x2="661.42" y2="309.2" stroke="#222" stroke-width="0.8"/>
<text x="604.90" y="228.70" font-size="9.5" text-anchor="middle" fill="#222" >F89X</text>
<text x="548.38" y="316.70" font-size="7.8" text-anchor="middle" fill="#222" >A</text>
<text x="554.32" y="316.70" font-size="7.8" text-anchor="middle" fill="#222" >C</text>
<text x="560.27" y="316.70" font-size="7.8" text-anchor="middle" fill="#222" >D</text>
<text x="566.23" y="316.70" font-size="7.8" text-anchor="middle" fill="#222" >E</text>
<text x="572.17" y="316.70" font-size="7.8" text-anchor="middle" fill="#222" >F</text>
<text x="578.12" y="316.70" font-size="7.8" text-anchor="middle" fill="#222" >G</text>
<text x="584.07" y="316.70" font-size="7.8" text-anchor="middle" fill="#222" >H</text>
<text x="590.02" y="316.70" font-size="7.8" text-anchor="middle" fill="#222" >I</text>
<text x="595.98" y="316.70" font-size="7.8" text-anchor="middle" fill="#222" >K</text>
<text x="601.92" y="316.70" font-size="7.8" text-anchor="middle" fill="#222" >L</text>
<text x="607.88" y="316.70" font-size="7.8" text-anchor="middle" fill="#222" >M</text>
<text x="613.82" y="316.70" font-size="7.8" text-anchor="middle" fill="#222" >N</text>
<text x="619.77" y="316.70" font-size="7.8" text-anchor="middle" fill="#222" >P</text>
<text x="625.73" y="316.70" font-size="7.8" text-anchor="middle" fill="#222" >Q</text>
<text x="631.67" y="316.70" font-size="7.8" text-anchor="middle" fill="#222" >R</text>
<text x="637.62" y="316.70" font-size="7.8" text-anchor="middle" fill="#222" >S</text>
<text x="643.57" y="316.70" font-size="7.8" text-anchor="middle" fill="#222" >T</text>
<text x="649.52" y="316.70" font-size="7.8" text-anchor="middle" fill="#222" >V</text>
<text x="655.48" y="316.70" font-size="7.8" text-anchor="middle" fill="#222" >W</text>
<text x="661.42" y="316.70" font-size="7.8" text-anchor="middle" fill="#222" >Y</text>
<text transform="translate(6.2,277.9) rotate(-90)" font-size="8.35" text-anchor="middle" fill="#222">Cis - Trans Yield (%)</text>
<polygon points="671.40,124.70 679.40,133.20 675.50,133.20 675.50,173.60 667.30,173.60 667.30,133.20 663.40,133.20" fill="#595959"/>
<text transform="translate(668.80,153.40) rotate(90)" font-size="7.4" text-anchor="middle" fill="#fff">BETTER</text>
<polygon points="675.60,243.80 683.50,252.00 680.60,252.00 680.60,291.80 670.60,291.80 670.60,252.00 667.70,252.00" fill="#595959"/>
<text transform="translate(673.00,271.90) rotate(90)" font-size="7.4" text-anchor="middle" fill="#fff">BETTER</text>
</svg>
</body></html>
